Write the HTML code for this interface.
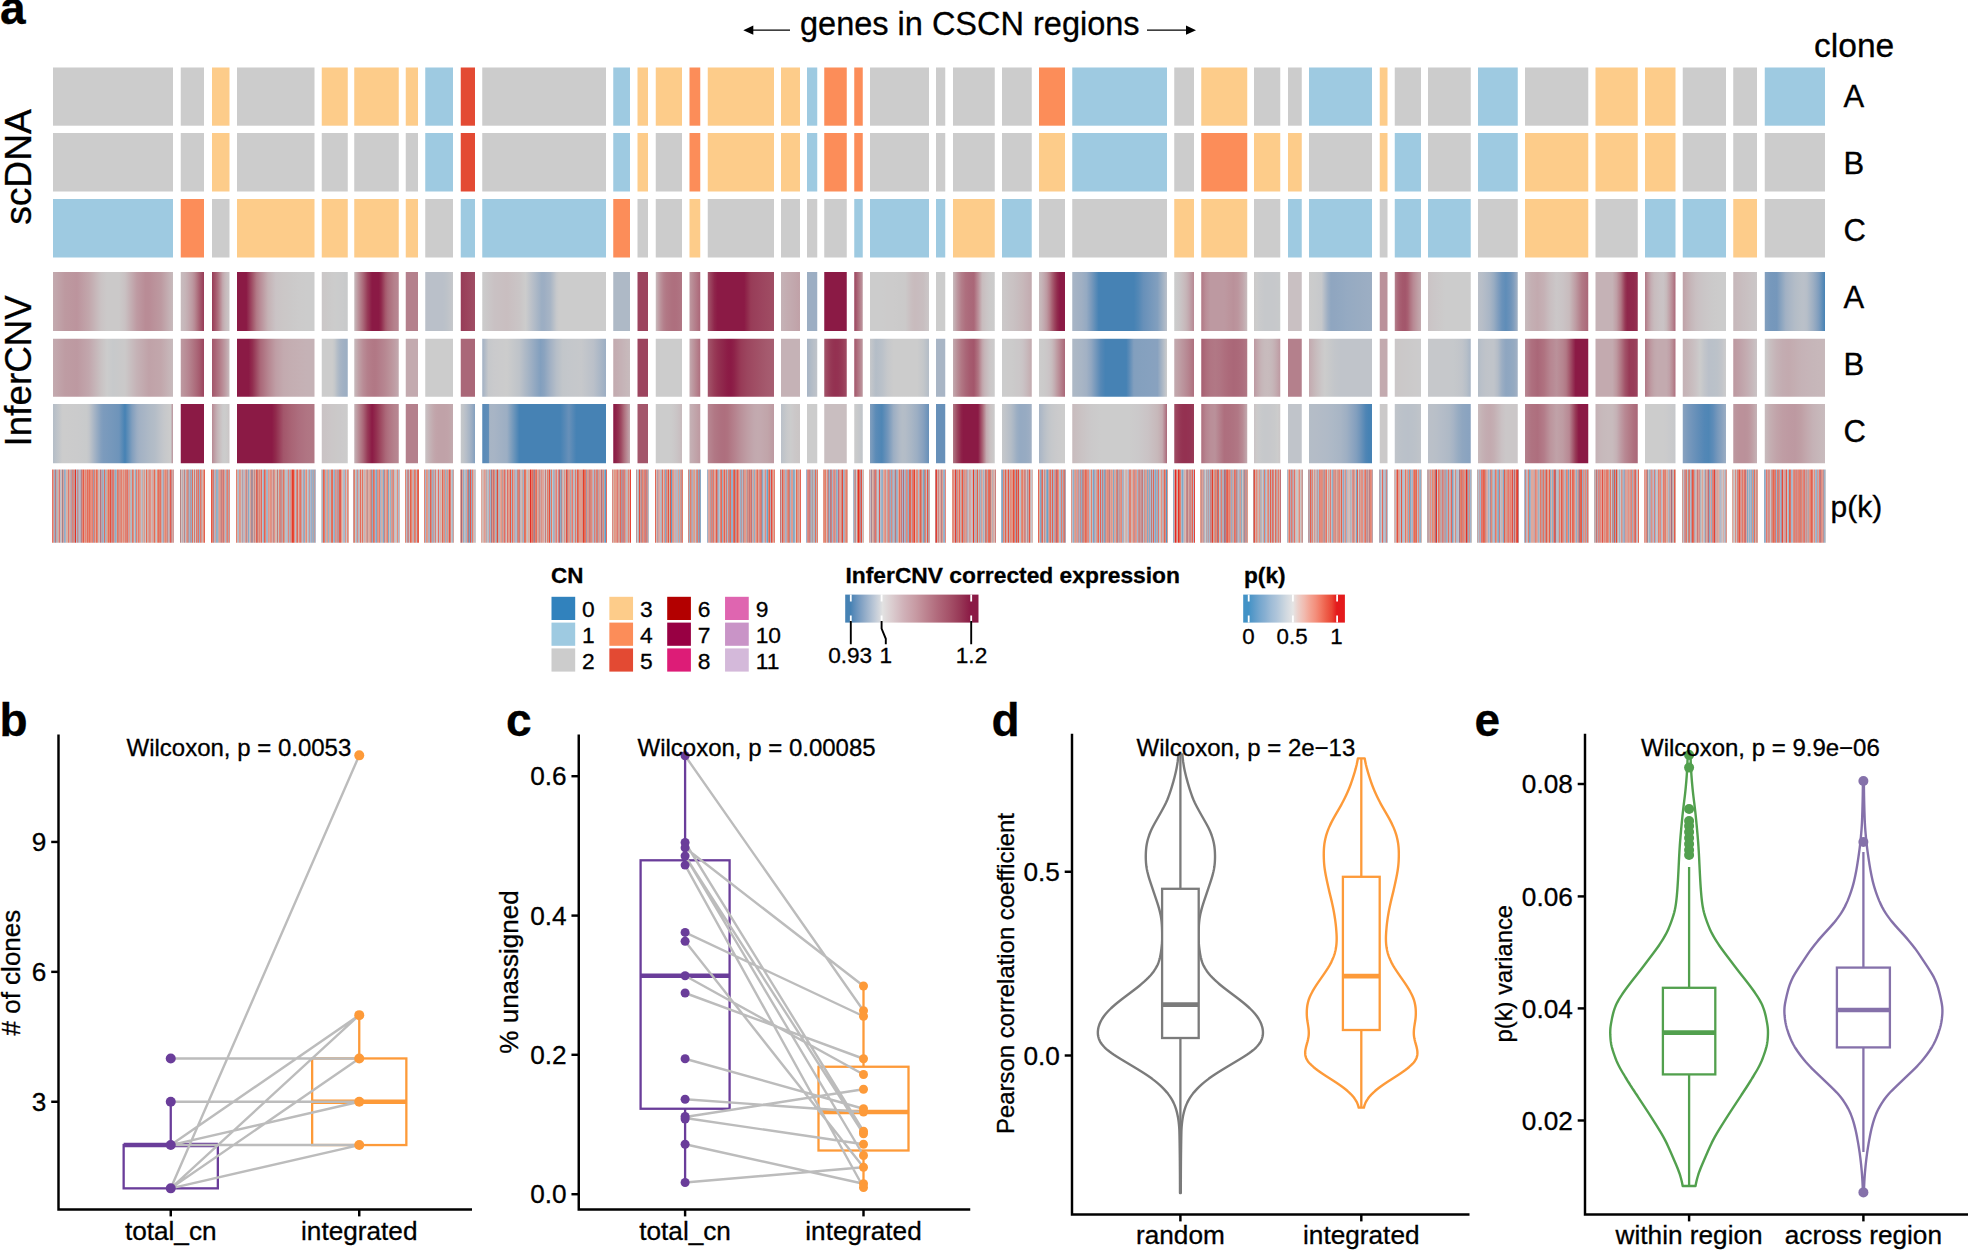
<!DOCTYPE html>
<html lang="en"><head><meta charset="utf-8"><title>Figure</title>
<style>
html,body{margin:0;padding:0;background:#fff;}
svg{display:block;font-family:"Liberation Sans",sans-serif;fill:#000;}
text{stroke:#000;stroke-width:0.3px;}
</style></head><body>
<svg width="1968" height="1250" viewBox="0 0 1968 1250">
<defs>
<linearGradient id="g1"><stop offset="0" stop-color="#c3aaaf"/><stop offset="0.1" stop-color="#bd99a0"/><stop offset="0.2" stop-color="#bc949d"/><stop offset="0.3" stop-color="#c2a7ac"/><stop offset="0.4" stop-color="#cac3c4"/><stop offset="0.45" stop-color="#cbc9c9"/><stop offset="0.5" stop-color="#cbc9c9"/><stop offset="0.55" stop-color="#cbc9c9"/><stop offset="0.6" stop-color="#c9c1c2"/><stop offset="0.7" stop-color="#be9aa2"/><stop offset="0.77" stop-color="#b98c96"/><stop offset="0.8" stop-color="#b98c96"/><stop offset="0.9" stop-color="#bd9aa1"/><stop offset="1" stop-color="#c8bbbd"/></linearGradient>
<linearGradient id="g2"><stop offset="0" stop-color="#c8bbbd"/><stop offset="0.1" stop-color="#c7b9bc"/><stop offset="0.2" stop-color="#c6b4b7"/><stop offset="0.3" stop-color="#c3acb1"/><stop offset="0.4" stop-color="#c1a3a9"/><stop offset="0.5" stop-color="#bd99a1"/><stop offset="0.6" stop-color="#b88a94"/><stop offset="0.7" stop-color="#b07683"/><stop offset="0.8" stop-color="#a76072"/><stop offset="0.85" stop-color="#a3566b"/><stop offset="0.9" stop-color="#9f4d64"/><stop offset="1" stop-color="#983b57"/></linearGradient>
<linearGradient id="g3"><stop offset="0" stop-color="#983b57"/><stop offset="0.1" stop-color="#9e4961"/><stop offset="0.2" stop-color="#a4576c"/><stop offset="0.3" stop-color="#aa6778"/><stop offset="0.4" stop-color="#b27a87"/><stop offset="0.5" stop-color="#ba9099"/><stop offset="0.6" stop-color="#c1a5ab"/><stop offset="0.7" stop-color="#c5b2b6"/><stop offset="0.8" stop-color="#c8bbbd"/><stop offset="0.9" stop-color="#c9c1c3"/><stop offset="1" stop-color="#cac3c5"/></linearGradient>
<linearGradient id="g4"><stop offset="0" stop-color="#8b1a45"/><stop offset="0.1" stop-color="#8b1a45"/><stop offset="0.12" stop-color="#8b1a45"/><stop offset="0.2" stop-color="#a25469"/><stop offset="0.25" stop-color="#b17885"/><stop offset="0.3" stop-color="#b98d97"/><stop offset="0.4" stop-color="#c5b2b5"/><stop offset="0.5" stop-color="#cac3c5"/><stop offset="0.6" stop-color="#cbc7c7"/><stop offset="0.7" stop-color="#cbc9c9"/><stop offset="0.8" stop-color="#cccbcb"/><stop offset="0.9" stop-color="#cccccc"/><stop offset="1" stop-color="#cccccc"/></linearGradient>
<linearGradient id="g5"><stop offset="0" stop-color="#cbc7c8"/><stop offset="0.1" stop-color="#cbc8c8"/><stop offset="0.2" stop-color="#cbc9c9"/><stop offset="0.3" stop-color="#cbcaca"/><stop offset="0.4" stop-color="#cccbcb"/><stop offset="0.5" stop-color="#cccccc"/><stop offset="0.6" stop-color="#cbcccc"/><stop offset="0.7" stop-color="#cbcbcc"/><stop offset="0.8" stop-color="#cacbcc"/><stop offset="0.9" stop-color="#c9cacb"/><stop offset="1" stop-color="#c8cacb"/></linearGradient>
<linearGradient id="g6"><stop offset="0" stop-color="#c8bbbd"/><stop offset="0.1" stop-color="#ba8f98"/><stop offset="0.2" stop-color="#aa6778"/><stop offset="0.3" stop-color="#973a57"/><stop offset="0.4" stop-color="#8b1a45"/><stop offset="0.5" stop-color="#8b1a45"/><stop offset="0.55" stop-color="#8b1a45"/><stop offset="0.6" stop-color="#8f274b"/><stop offset="0.7" stop-color="#a4576b"/><stop offset="0.75" stop-color="#aa6778"/><stop offset="0.8" stop-color="#ae717f"/><stop offset="0.9" stop-color="#b5818c"/><stop offset="1" stop-color="#b88893"/></linearGradient>
<linearGradient id="g7"><stop offset="0" stop-color="#bac0c9"/><stop offset="0.1" stop-color="#bac0c9"/><stop offset="0.2" stop-color="#bac0c9"/><stop offset="0.3" stop-color="#bac0c9"/><stop offset="0.4" stop-color="#bac0c9"/><stop offset="0.5" stop-color="#bac0c9"/><stop offset="0.6" stop-color="#bac0c9"/><stop offset="0.7" stop-color="#bbc1c9"/><stop offset="0.8" stop-color="#bec3c9"/><stop offset="0.9" stop-color="#c2c5ca"/><stop offset="1" stop-color="#c6c8cb"/></linearGradient>
<linearGradient id="g8"><stop offset="0" stop-color="#983b57"/><stop offset="0.1" stop-color="#983d59"/><stop offset="0.2" stop-color="#993f5a"/><stop offset="0.3" stop-color="#9a415b"/><stop offset="0.4" stop-color="#9b425c"/><stop offset="0.5" stop-color="#9c445e"/><stop offset="0.6" stop-color="#9c465f"/><stop offset="0.7" stop-color="#9d4860"/><stop offset="0.8" stop-color="#9e4a62"/><stop offset="0.9" stop-color="#9f4b63"/><stop offset="1" stop-color="#a04d64"/></linearGradient>
<linearGradient id="g9"><stop offset="0" stop-color="#cccccc"/><stop offset="0.1" stop-color="#c9c1c3"/><stop offset="0.2" stop-color="#c9bec0"/><stop offset="0.3" stop-color="#cac5c6"/><stop offset="0.35" stop-color="#cccccc"/><stop offset="0.4" stop-color="#bac0c9"/><stop offset="0.48" stop-color="#9caec3"/><stop offset="0.5" stop-color="#9daec3"/><stop offset="0.55" stop-color="#a8b5c5"/><stop offset="0.6" stop-color="#c6c8cb"/><stop offset="0.62" stop-color="#cccccc"/><stop offset="0.7" stop-color="#cccccc"/><stop offset="0.8" stop-color="#cccccc"/><stop offset="0.9" stop-color="#cccccc"/><stop offset="1" stop-color="#cccccc"/></linearGradient>
<linearGradient id="g10"><stop offset="0" stop-color="#c8bbbd"/><stop offset="0.1" stop-color="#c1a3a9"/><stop offset="0.2" stop-color="#ba8f98"/><stop offset="0.3" stop-color="#b4808c"/><stop offset="0.4" stop-color="#b17885"/><stop offset="0.5" stop-color="#b07482"/><stop offset="0.6" stop-color="#ae717f"/><stop offset="0.7" stop-color="#ae6f7e"/><stop offset="0.8" stop-color="#ae707f"/><stop offset="0.9" stop-color="#af7381"/><stop offset="1" stop-color="#b17885"/></linearGradient>
<linearGradient id="g11"><stop offset="0" stop-color="#bd99a1"/><stop offset="0.1" stop-color="#bc949d"/><stop offset="0.2" stop-color="#ba8f98"/><stop offset="0.3" stop-color="#b88a94"/><stop offset="0.4" stop-color="#b68590"/><stop offset="0.5" stop-color="#b4808c"/><stop offset="0.6" stop-color="#b37b88"/><stop offset="0.7" stop-color="#b17684"/><stop offset="0.8" stop-color="#af7180"/><stop offset="0.9" stop-color="#ad6c7c"/><stop offset="1" stop-color="#aa6778"/></linearGradient>
<linearGradient id="g12"><stop offset="0" stop-color="#a3566b"/><stop offset="0.1" stop-color="#8f264b"/><stop offset="0.15" stop-color="#8b1a45"/><stop offset="0.2" stop-color="#8b1a45"/><stop offset="0.3" stop-color="#8b1a45"/><stop offset="0.4" stop-color="#8b1a45"/><stop offset="0.5" stop-color="#8b1a45"/><stop offset="0.55" stop-color="#8b1a45"/><stop offset="0.6" stop-color="#912b4d"/><stop offset="0.65" stop-color="#983b57"/><stop offset="0.7" stop-color="#993f5a"/><stop offset="0.8" stop-color="#9c445e"/><stop offset="0.9" stop-color="#9e4961"/><stop offset="1" stop-color="#a04d64"/></linearGradient>
<linearGradient id="g13"><stop offset="0" stop-color="#c5b2b6"/><stop offset="0.1" stop-color="#c5b1b5"/><stop offset="0.2" stop-color="#c4afb3"/><stop offset="0.3" stop-color="#c4adb2"/><stop offset="0.4" stop-color="#c3acb0"/><stop offset="0.5" stop-color="#c3aaaf"/><stop offset="0.6" stop-color="#c2a8ae"/><stop offset="0.7" stop-color="#c2a7ac"/><stop offset="0.8" stop-color="#c1a5ab"/><stop offset="0.9" stop-color="#c1a3a9"/><stop offset="1" stop-color="#c0a2a8"/></linearGradient>
<linearGradient id="g14"><stop offset="0" stop-color="#9c445e"/><stop offset="0.1" stop-color="#a04d64"/><stop offset="0.2" stop-color="#a3566b"/><stop offset="0.3" stop-color="#a75e71"/><stop offset="0.4" stop-color="#aa6778"/><stop offset="0.5" stop-color="#ae6f7e"/><stop offset="0.6" stop-color="#b17885"/><stop offset="0.7" stop-color="#b4808c"/><stop offset="0.8" stop-color="#b88893"/><stop offset="0.9" stop-color="#ba919a"/><stop offset="1" stop-color="#bd99a1"/></linearGradient>
<linearGradient id="g15"><stop offset="0" stop-color="#cccccc"/><stop offset="0.1" stop-color="#cccccc"/><stop offset="0.2" stop-color="#cccccc"/><stop offset="0.3" stop-color="#cccbcb"/><stop offset="0.4" stop-color="#cccbcb"/><stop offset="0.5" stop-color="#cbcaca"/><stop offset="0.6" stop-color="#cbc9c9"/><stop offset="0.7" stop-color="#c9bec0"/><stop offset="0.75" stop-color="#c8bbbd"/><stop offset="0.8" stop-color="#c8bbbe"/><stop offset="0.9" stop-color="#c8bec0"/><stop offset="1" stop-color="#cbc7c8"/></linearGradient>
<linearGradient id="g16"><stop offset="0" stop-color="#c8bbbd"/><stop offset="0.1" stop-color="#bd98a0"/><stop offset="0.2" stop-color="#b37e8a"/><stop offset="0.3" stop-color="#ae6f7e"/><stop offset="0.4" stop-color="#ab697a"/><stop offset="0.5" stop-color="#aa6778"/><stop offset="0.6" stop-color="#ba8e98"/><stop offset="0.7" stop-color="#c8bbbd"/><stop offset="0.8" stop-color="#cac4c5"/><stop offset="0.9" stop-color="#cbcaca"/><stop offset="1" stop-color="#cccccc"/></linearGradient>
<linearGradient id="g17"><stop offset="0" stop-color="#cbc9c9"/><stop offset="0.1" stop-color="#cbc7c8"/><stop offset="0.2" stop-color="#cac5c6"/><stop offset="0.3" stop-color="#cac3c4"/><stop offset="0.4" stop-color="#c9c1c2"/><stop offset="0.5" stop-color="#c8bec0"/><stop offset="0.6" stop-color="#c8bbbd"/><stop offset="0.7" stop-color="#c7b8ba"/><stop offset="0.8" stop-color="#c6b3b7"/><stop offset="0.9" stop-color="#c4afb3"/><stop offset="1" stop-color="#c3aaaf"/></linearGradient>
<linearGradient id="g18"><stop offset="0" stop-color="#c8bbbd"/><stop offset="0.1" stop-color="#c6b4b8"/><stop offset="0.2" stop-color="#c2a8ae"/><stop offset="0.3" stop-color="#bd99a1"/><stop offset="0.4" stop-color="#b5818d"/><stop offset="0.5" stop-color="#a86173"/><stop offset="0.6" stop-color="#9c445e"/><stop offset="0.7" stop-color="#912b4d"/><stop offset="0.8" stop-color="#8b1a45"/><stop offset="0.9" stop-color="#8b1a45"/><stop offset="1" stop-color="#8b1a45"/></linearGradient>
<linearGradient id="g19"><stop offset="0" stop-color="#a8b5c5"/><stop offset="0.1" stop-color="#9fafc3"/><stop offset="0.15" stop-color="#95aac2"/><stop offset="0.2" stop-color="#7a9abc"/><stop offset="0.28" stop-color="#4682b4"/><stop offset="0.3" stop-color="#4682b4"/><stop offset="0.4" stop-color="#4682b4"/><stop offset="0.5" stop-color="#4682b4"/><stop offset="0.6" stop-color="#4682b4"/><stop offset="0.65" stop-color="#4682b4"/><stop offset="0.7" stop-color="#5488b6"/><stop offset="0.75" stop-color="#6790b9"/><stop offset="0.8" stop-color="#7095bb"/><stop offset="0.9" stop-color="#829fbe"/><stop offset="1" stop-color="#bac0c9"/></linearGradient>
<linearGradient id="g20"><stop offset="0" stop-color="#cccccc"/><stop offset="0.1" stop-color="#cccbcb"/><stop offset="0.2" stop-color="#cbc8c9"/><stop offset="0.3" stop-color="#cac5c6"/><stop offset="0.4" stop-color="#c9c0c2"/><stop offset="0.5" stop-color="#c8bbbd"/><stop offset="0.6" stop-color="#c6b5b8"/><stop offset="0.7" stop-color="#c3acb1"/><stop offset="0.8" stop-color="#c0a1a8"/><stop offset="0.9" stop-color="#bc959e"/><stop offset="1" stop-color="#b88893"/></linearGradient>
<linearGradient id="g21"><stop offset="0" stop-color="#b17885"/><stop offset="0.1" stop-color="#ba8e98"/><stop offset="0.2" stop-color="#bd99a1"/><stop offset="0.3" stop-color="#bd99a1"/><stop offset="0.4" stop-color="#bd99a1"/><stop offset="0.5" stop-color="#bd99a1"/><stop offset="0.6" stop-color="#bc959d"/><stop offset="0.7" stop-color="#ba919a"/><stop offset="0.8" stop-color="#bc969e"/><stop offset="0.9" stop-color="#c1a5ab"/><stop offset="1" stop-color="#c8bbbd"/></linearGradient>
<linearGradient id="g22"><stop offset="0" stop-color="#cbc9c9"/><stop offset="0.1" stop-color="#cccccc"/><stop offset="0.2" stop-color="#c9cacc"/><stop offset="0.3" stop-color="#c8c9cb"/><stop offset="0.4" stop-color="#c6c8cb"/><stop offset="0.5" stop-color="#c6c8cb"/><stop offset="0.6" stop-color="#c6c8cb"/><stop offset="0.7" stop-color="#c6c8cb"/><stop offset="0.8" stop-color="#c7c8cb"/><stop offset="0.9" stop-color="#c7c9cb"/><stop offset="1" stop-color="#c8cacb"/></linearGradient>
<linearGradient id="g23"><stop offset="0" stop-color="#cccccc"/><stop offset="0.1" stop-color="#cacbcc"/><stop offset="0.2" stop-color="#c6c8cb"/><stop offset="0.3" stop-color="#9daec3"/><stop offset="0.35" stop-color="#8fa6c0"/><stop offset="0.4" stop-color="#90a6c0"/><stop offset="0.5" stop-color="#92a8c1"/><stop offset="0.6" stop-color="#95aac2"/><stop offset="0.7" stop-color="#97abc2"/><stop offset="0.8" stop-color="#99acc2"/><stop offset="0.9" stop-color="#9badc3"/><stop offset="1" stop-color="#9caec3"/></linearGradient>
<linearGradient id="g24"><stop offset="0" stop-color="#b4808c"/><stop offset="0.1" stop-color="#ac6b7b"/><stop offset="0.2" stop-color="#a75e71"/><stop offset="0.3" stop-color="#a4586c"/><stop offset="0.4" stop-color="#a3566b"/><stop offset="0.5" stop-color="#a86072"/><stop offset="0.6" stop-color="#b07683"/><stop offset="0.7" stop-color="#b88893"/><stop offset="0.8" stop-color="#bc959d"/><stop offset="0.9" stop-color="#c0a1a7"/><stop offset="1" stop-color="#c3aaaf"/></linearGradient>
<linearGradient id="g25"><stop offset="0" stop-color="#cac3c5"/><stop offset="0.1" stop-color="#cbc6c7"/><stop offset="0.2" stop-color="#cbc8c9"/><stop offset="0.3" stop-color="#cccaca"/><stop offset="0.4" stop-color="#cccccc"/><stop offset="0.5" stop-color="#cccccc"/><stop offset="0.6" stop-color="#cccccc"/><stop offset="0.7" stop-color="#cccccc"/><stop offset="0.8" stop-color="#cccccc"/><stop offset="0.9" stop-color="#cccccc"/><stop offset="1" stop-color="#cccccc"/></linearGradient>
<linearGradient id="g26"><stop offset="0" stop-color="#bac0c9"/><stop offset="0.1" stop-color="#b7bec8"/><stop offset="0.2" stop-color="#b0bac7"/><stop offset="0.3" stop-color="#a8b5c5"/><stop offset="0.4" stop-color="#98acc2"/><stop offset="0.5" stop-color="#819ebe"/><stop offset="0.6" stop-color="#6a92ba"/><stop offset="0.7" stop-color="#5f8db8"/><stop offset="0.8" stop-color="#6b92ba"/><stop offset="0.85" stop-color="#7597bb"/><stop offset="0.9" stop-color="#819ebe"/><stop offset="1" stop-color="#a2b1c4"/></linearGradient>
<linearGradient id="g27"><stop offset="0" stop-color="#c8bbbd"/><stop offset="0.1" stop-color="#c4afb3"/><stop offset="0.2" stop-color="#c3aaaf"/><stop offset="0.3" stop-color="#c5b1b5"/><stop offset="0.4" stop-color="#c9bfc1"/><stop offset="0.5" stop-color="#cbc7c8"/><stop offset="0.6" stop-color="#cac3c5"/><stop offset="0.7" stop-color="#c8bbbd"/><stop offset="0.8" stop-color="#be9ca3"/><stop offset="0.9" stop-color="#b17885"/><stop offset="1" stop-color="#aa6778"/></linearGradient>
<linearGradient id="g28"><stop offset="0" stop-color="#c5b2b6"/><stop offset="0.1" stop-color="#c5b2b6"/><stop offset="0.2" stop-color="#c5b2b6"/><stop offset="0.3" stop-color="#c5b2b6"/><stop offset="0.4" stop-color="#c5b2b6"/><stop offset="0.5" stop-color="#bf9ea5"/><stop offset="0.6" stop-color="#b17885"/><stop offset="0.7" stop-color="#973956"/><stop offset="0.75" stop-color="#8f274b"/><stop offset="0.8" stop-color="#8f274b"/><stop offset="0.9" stop-color="#90294c"/><stop offset="1" stop-color="#943151"/></linearGradient>
<linearGradient id="g29"><stop offset="0" stop-color="#b17885"/><stop offset="0.1" stop-color="#bc969e"/><stop offset="0.2" stop-color="#c4aeb3"/><stop offset="0.3" stop-color="#c8bbbd"/><stop offset="0.4" stop-color="#c9bfc1"/><stop offset="0.5" stop-color="#cac2c4"/><stop offset="0.6" stop-color="#cac3c5"/><stop offset="0.7" stop-color="#c7babc"/><stop offset="0.8" stop-color="#c1a3a9"/><stop offset="0.9" stop-color="#b88893"/><stop offset="1" stop-color="#aa6778"/></linearGradient>
<linearGradient id="g30"><stop offset="0" stop-color="#c0a2a8"/><stop offset="0.1" stop-color="#c4adb1"/><stop offset="0.2" stop-color="#c6b7ba"/><stop offset="0.3" stop-color="#c9bfc1"/><stop offset="0.4" stop-color="#cac3c5"/><stop offset="0.5" stop-color="#cac6c7"/><stop offset="0.6" stop-color="#cbc8c9"/><stop offset="0.7" stop-color="#cbcaca"/><stop offset="0.8" stop-color="#cccbcb"/><stop offset="0.9" stop-color="#cccccc"/><stop offset="1" stop-color="#cccccc"/></linearGradient>
<linearGradient id="g31"><stop offset="0" stop-color="#c7b8ba"/><stop offset="0.1" stop-color="#c7b9bc"/><stop offset="0.2" stop-color="#c8bbbd"/><stop offset="0.3" stop-color="#c8bcbe"/><stop offset="0.4" stop-color="#c8bec0"/><stop offset="0.5" stop-color="#c9bfc1"/><stop offset="0.6" stop-color="#c9c1c2"/><stop offset="0.7" stop-color="#cac2c4"/><stop offset="0.8" stop-color="#cac4c5"/><stop offset="0.9" stop-color="#cac5c6"/><stop offset="1" stop-color="#cbc7c8"/></linearGradient>
<linearGradient id="g32"><stop offset="0" stop-color="#829fbe"/><stop offset="0.1" stop-color="#7698bc"/><stop offset="0.2" stop-color="#7597bb"/><stop offset="0.3" stop-color="#93a9c1"/><stop offset="0.35" stop-color="#a2b1c4"/><stop offset="0.4" stop-color="#a8b5c5"/><stop offset="0.5" stop-color="#b3bcc7"/><stop offset="0.6" stop-color="#b9c0c8"/><stop offset="0.65" stop-color="#bac0c9"/><stop offset="0.7" stop-color="#b6bec8"/><stop offset="0.8" stop-color="#9eafc3"/><stop offset="0.85" stop-color="#8fa6c0"/><stop offset="0.9" stop-color="#7d9cbd"/><stop offset="1" stop-color="#4682b4"/></linearGradient>
<linearGradient id="g33"><stop offset="0" stop-color="#c3aaaf"/><stop offset="0.1" stop-color="#be9ca3"/><stop offset="0.2" stop-color="#bd99a1"/><stop offset="0.3" stop-color="#c2a7ad"/><stop offset="0.4" stop-color="#c9c2c3"/><stop offset="0.45" stop-color="#cccccc"/><stop offset="0.5" stop-color="#c7c9cb"/><stop offset="0.6" stop-color="#cbc9c9"/><stop offset="0.7" stop-color="#c5b2b6"/><stop offset="0.8" stop-color="#c0a2a8"/><stop offset="0.9" stop-color="#c2a7ac"/><stop offset="1" stop-color="#c8bbbd"/></linearGradient>
<linearGradient id="g34"><stop offset="0" stop-color="#bd99a1"/><stop offset="0.1" stop-color="#bc949c"/><stop offset="0.2" stop-color="#b98e97"/><stop offset="0.3" stop-color="#b78792"/><stop offset="0.4" stop-color="#b4808c"/><stop offset="0.5" stop-color="#b17885"/><stop offset="0.6" stop-color="#ae6f7e"/><stop offset="0.7" stop-color="#aa6677"/><stop offset="0.8" stop-color="#a65c6f"/><stop offset="0.9" stop-color="#a15066"/><stop offset="1" stop-color="#9c445e"/></linearGradient>
<linearGradient id="g35"><stop offset="0" stop-color="#a3566b"/><stop offset="0.1" stop-color="#a75e70"/><stop offset="0.2" stop-color="#aa6677"/><stop offset="0.3" stop-color="#ae6f7e"/><stop offset="0.4" stop-color="#b17885"/><stop offset="0.5" stop-color="#b5828d"/><stop offset="0.6" stop-color="#b98c96"/><stop offset="0.7" stop-color="#bc979f"/><stop offset="0.8" stop-color="#c0a2a8"/><stop offset="0.9" stop-color="#c4aeb3"/><stop offset="1" stop-color="#c8bbbd"/></linearGradient>
<linearGradient id="g36"><stop offset="0" stop-color="#8b1a45"/><stop offset="0.1" stop-color="#8b1a45"/><stop offset="0.15" stop-color="#8b1a45"/><stop offset="0.2" stop-color="#922e4f"/><stop offset="0.3" stop-color="#aa6778"/><stop offset="0.4" stop-color="#b68590"/><stop offset="0.5" stop-color="#bf9ea5"/><stop offset="0.6" stop-color="#c3aaaf"/><stop offset="0.7" stop-color="#c4aeb2"/><stop offset="0.8" stop-color="#c5b0b4"/><stop offset="0.9" stop-color="#c5b2b6"/><stop offset="1" stop-color="#c5b2b6"/></linearGradient>
<linearGradient id="g37"><stop offset="0" stop-color="#cccccc"/><stop offset="0.1" stop-color="#cccccc"/><stop offset="0.2" stop-color="#cccccc"/><stop offset="0.3" stop-color="#cccccc"/><stop offset="0.4" stop-color="#cccccc"/><stop offset="0.5" stop-color="#c4c7ca"/><stop offset="0.6" stop-color="#b4bdc7"/><stop offset="0.7" stop-color="#a8b5c5"/><stop offset="0.8" stop-color="#a2b1c4"/><stop offset="0.9" stop-color="#9eafc3"/><stop offset="1" stop-color="#9caec3"/></linearGradient>
<linearGradient id="g38"><stop offset="0" stop-color="#c8bbbd"/><stop offset="0.1" stop-color="#c0a0a6"/><stop offset="0.2" stop-color="#b98c96"/><stop offset="0.3" stop-color="#b47f8b"/><stop offset="0.4" stop-color="#b27986"/><stop offset="0.45" stop-color="#b17885"/><stop offset="0.5" stop-color="#b27986"/><stop offset="0.6" stop-color="#b4808c"/><stop offset="0.7" stop-color="#b78892"/><stop offset="0.8" stop-color="#bb929a"/><stop offset="0.9" stop-color="#bf9da4"/><stop offset="1" stop-color="#c3aaaf"/></linearGradient>
<linearGradient id="g39"><stop offset="0" stop-color="#a2b1c4"/><stop offset="0.05" stop-color="#c6c8cb"/><stop offset="0.1" stop-color="#cacacc"/><stop offset="0.2" stop-color="#cccccc"/><stop offset="0.3" stop-color="#bec3c9"/><stop offset="0.4" stop-color="#9caec3"/><stop offset="0.47" stop-color="#829fbe"/><stop offset="0.5" stop-color="#8aa3bf"/><stop offset="0.55" stop-color="#a2b1c4"/><stop offset="0.6" stop-color="#b6bec8"/><stop offset="0.65" stop-color="#c2c6ca"/><stop offset="0.7" stop-color="#c4c7cb"/><stop offset="0.8" stop-color="#c6c8cb"/><stop offset="0.9" stop-color="#bac0c9"/><stop offset="1" stop-color="#9caec3"/></linearGradient>
<linearGradient id="g40"><stop offset="0" stop-color="#c3aaaf"/><stop offset="0.1" stop-color="#c3acb0"/><stop offset="0.2" stop-color="#c4adb2"/><stop offset="0.3" stop-color="#c4afb3"/><stop offset="0.4" stop-color="#c5b1b5"/><stop offset="0.5" stop-color="#c5b2b6"/><stop offset="0.6" stop-color="#c6b4b8"/><stop offset="0.7" stop-color="#c6b6b9"/><stop offset="0.8" stop-color="#c7b8ba"/><stop offset="0.9" stop-color="#c7b9bc"/><stop offset="1" stop-color="#c8bbbd"/></linearGradient>
<linearGradient id="g41"><stop offset="0" stop-color="#c3aaaf"/><stop offset="0.1" stop-color="#c1a4aa"/><stop offset="0.2" stop-color="#bf9ea5"/><stop offset="0.3" stop-color="#bd98a0"/><stop offset="0.4" stop-color="#bb939b"/><stop offset="0.5" stop-color="#b98d96"/><stop offset="0.6" stop-color="#b78791"/><stop offset="0.7" stop-color="#b5818d"/><stop offset="0.8" stop-color="#b37b88"/><stop offset="0.9" stop-color="#b07583"/><stop offset="1" stop-color="#ae6f7e"/></linearGradient>
<linearGradient id="g42"><stop offset="0" stop-color="#a3566b"/><stop offset="0.1" stop-color="#983b57"/><stop offset="0.15" stop-color="#943151"/><stop offset="0.2" stop-color="#902a4d"/><stop offset="0.3" stop-color="#8c1c46"/><stop offset="0.35" stop-color="#8b1a45"/><stop offset="0.4" stop-color="#8e2249"/><stop offset="0.5" stop-color="#983b57"/><stop offset="0.6" stop-color="#9c465f"/><stop offset="0.7" stop-color="#a04d64"/><stop offset="0.8" stop-color="#a25469"/><stop offset="0.9" stop-color="#a55a6e"/><stop offset="1" stop-color="#a75e71"/></linearGradient>
<linearGradient id="g43"><stop offset="0" stop-color="#a8b5c5"/><stop offset="0.1" stop-color="#aab7c6"/><stop offset="0.2" stop-color="#adb8c6"/><stop offset="0.3" stop-color="#afbac6"/><stop offset="0.4" stop-color="#b2bbc7"/><stop offset="0.5" stop-color="#b4bdc7"/><stop offset="0.6" stop-color="#b7bec8"/><stop offset="0.7" stop-color="#b9c0c8"/><stop offset="0.8" stop-color="#bbc1c9"/><stop offset="0.9" stop-color="#bec3c9"/><stop offset="1" stop-color="#c0c4ca"/></linearGradient>
<linearGradient id="g44"><stop offset="0" stop-color="#a3566b"/><stop offset="0.1" stop-color="#9e4a62"/><stop offset="0.2" stop-color="#9a405b"/><stop offset="0.3" stop-color="#963855"/><stop offset="0.4" stop-color="#943352"/><stop offset="0.5" stop-color="#943151"/><stop offset="0.6" stop-color="#943252"/><stop offset="0.7" stop-color="#953654"/><stop offset="0.8" stop-color="#983b57"/><stop offset="0.9" stop-color="#9b435d"/><stop offset="1" stop-color="#a04d64"/></linearGradient>
<linearGradient id="g45"><stop offset="0" stop-color="#a3566b"/><stop offset="0.1" stop-color="#a65d70"/><stop offset="0.2" stop-color="#a96475"/><stop offset="0.3" stop-color="#ac6a7a"/><stop offset="0.4" stop-color="#af7180"/><stop offset="0.5" stop-color="#b17885"/><stop offset="0.6" stop-color="#b47e8b"/><stop offset="0.7" stop-color="#b68590"/><stop offset="0.8" stop-color="#b98c96"/><stop offset="0.9" stop-color="#bb939b"/><stop offset="1" stop-color="#bd99a1"/></linearGradient>
<linearGradient id="g46"><stop offset="0" stop-color="#c6c8cb"/><stop offset="0.1" stop-color="#b4bdc7"/><stop offset="0.2" stop-color="#bac1c9"/><stop offset="0.3" stop-color="#c6c8cb"/><stop offset="0.4" stop-color="#cccccc"/><stop offset="0.5" stop-color="#cccccc"/><stop offset="0.6" stop-color="#cccccc"/><stop offset="0.7" stop-color="#cccccc"/><stop offset="0.8" stop-color="#cccccc"/><stop offset="0.9" stop-color="#c4c7ca"/><stop offset="1" stop-color="#b4bdc7"/></linearGradient>
<linearGradient id="g47"><stop offset="0" stop-color="#c3aaaf"/><stop offset="0.1" stop-color="#b98e97"/><stop offset="0.2" stop-color="#b17784"/><stop offset="0.3" stop-color="#aa6778"/><stop offset="0.4" stop-color="#a65b6f"/><stop offset="0.5" stop-color="#a3566b"/><stop offset="0.6" stop-color="#af7381"/><stop offset="0.7" stop-color="#c1a4aa"/><stop offset="0.75" stop-color="#c5b2b6"/><stop offset="0.8" stop-color="#c7babd"/><stop offset="0.9" stop-color="#cbc7c8"/><stop offset="1" stop-color="#cccccc"/></linearGradient>
<linearGradient id="g48"><stop offset="0" stop-color="#cccccc"/><stop offset="0.1" stop-color="#cccccc"/><stop offset="0.2" stop-color="#cccbcb"/><stop offset="0.3" stop-color="#cccbcb"/><stop offset="0.4" stop-color="#cbcaca"/><stop offset="0.5" stop-color="#cbc8c9"/><stop offset="0.6" stop-color="#cbc7c8"/><stop offset="0.7" stop-color="#cac3c5"/><stop offset="0.8" stop-color="#c8bcbf"/><stop offset="0.9" stop-color="#c6b4b7"/><stop offset="1" stop-color="#c3aaaf"/></linearGradient>
<linearGradient id="g49"><stop offset="0" stop-color="#cccccc"/><stop offset="0.1" stop-color="#cccbcb"/><stop offset="0.2" stop-color="#cbcaca"/><stop offset="0.3" stop-color="#cbc7c8"/><stop offset="0.4" stop-color="#cac3c5"/><stop offset="0.5" stop-color="#c8bbbd"/><stop offset="0.6" stop-color="#c3acb1"/><stop offset="0.7" stop-color="#be9aa1"/><stop offset="0.8" stop-color="#b88893"/><stop offset="0.9" stop-color="#b17885"/><stop offset="1" stop-color="#aa6778"/></linearGradient>
<linearGradient id="g50"><stop offset="0" stop-color="#aeb9c6"/><stop offset="0.1" stop-color="#a8b5c5"/><stop offset="0.15" stop-color="#a2b1c4"/><stop offset="0.2" stop-color="#91a7c1"/><stop offset="0.3" stop-color="#5688b6"/><stop offset="0.35" stop-color="#4682b4"/><stop offset="0.4" stop-color="#4682b4"/><stop offset="0.5" stop-color="#4682b4"/><stop offset="0.57" stop-color="#4682b4"/><stop offset="0.6" stop-color="#5b8bb7"/><stop offset="0.65" stop-color="#829fbe"/><stop offset="0.7" stop-color="#84a0be"/><stop offset="0.8" stop-color="#86a1bf"/><stop offset="0.9" stop-color="#89a2bf"/><stop offset="1" stop-color="#cccccc"/></linearGradient>
<linearGradient id="g51"><stop offset="0" stop-color="#c3aaaf"/><stop offset="0.1" stop-color="#c1a6ab"/><stop offset="0.2" stop-color="#c0a1a7"/><stop offset="0.3" stop-color="#be9ca3"/><stop offset="0.4" stop-color="#bc969e"/><stop offset="0.5" stop-color="#ba919a"/><stop offset="0.6" stop-color="#b88b95"/><stop offset="0.7" stop-color="#b68590"/><stop offset="0.8" stop-color="#b47e8a"/><stop offset="0.9" stop-color="#b17784"/><stop offset="1" stop-color="#ae6f7e"/></linearGradient>
<linearGradient id="g52"><stop offset="0" stop-color="#a75e71"/><stop offset="0.1" stop-color="#ad6c7c"/><stop offset="0.2" stop-color="#b07583"/><stop offset="0.3" stop-color="#b17885"/><stop offset="0.4" stop-color="#b07583"/><stop offset="0.5" stop-color="#ae6f7e"/><stop offset="0.6" stop-color="#ac6a7a"/><stop offset="0.7" stop-color="#aa6778"/><stop offset="0.8" stop-color="#ab6979"/><stop offset="0.9" stop-color="#ad6e7e"/><stop offset="1" stop-color="#b17885"/></linearGradient>
<linearGradient id="g53"><stop offset="0" stop-color="#bd99a1"/><stop offset="0.1" stop-color="#c1a5ab"/><stop offset="0.2" stop-color="#c4afb3"/><stop offset="0.3" stop-color="#c6b6b9"/><stop offset="0.4" stop-color="#c7babc"/><stop offset="0.5" stop-color="#c8bbbd"/><stop offset="0.6" stop-color="#c7babc"/><stop offset="0.7" stop-color="#c6b6b9"/><stop offset="0.8" stop-color="#c4afb3"/><stop offset="0.9" stop-color="#c1a5ab"/><stop offset="1" stop-color="#bd99a1"/></linearGradient>
<linearGradient id="g54"><stop offset="0" stop-color="#c3aaaf"/><stop offset="0.1" stop-color="#c7babc"/><stop offset="0.2" stop-color="#cbc7c8"/><stop offset="0.25" stop-color="#cccccc"/><stop offset="0.3" stop-color="#c9cacb"/><stop offset="0.4" stop-color="#c3c6ca"/><stop offset="0.5" stop-color="#c0c4ca"/><stop offset="0.6" stop-color="#c0c4ca"/><stop offset="0.7" stop-color="#c0c4ca"/><stop offset="0.8" stop-color="#c0c4ca"/><stop offset="0.9" stop-color="#c0c4ca"/><stop offset="1" stop-color="#c0c4ca"/></linearGradient>
<linearGradient id="g55"><stop offset="0" stop-color="#cbc7c8"/><stop offset="0.1" stop-color="#cbc7c8"/><stop offset="0.2" stop-color="#cbc8c8"/><stop offset="0.3" stop-color="#cbc8c9"/><stop offset="0.4" stop-color="#cbc9c9"/><stop offset="0.5" stop-color="#cbc9ca"/><stop offset="0.6" stop-color="#cbcaca"/><stop offset="0.7" stop-color="#cccacb"/><stop offset="0.8" stop-color="#cccbcb"/><stop offset="0.9" stop-color="#cccbcc"/><stop offset="1" stop-color="#cccccc"/></linearGradient>
<linearGradient id="g56"><stop offset="0" stop-color="#c6c8cb"/><stop offset="0.1" stop-color="#c6c8cb"/><stop offset="0.2" stop-color="#c6c8cb"/><stop offset="0.3" stop-color="#c6c8cb"/><stop offset="0.4" stop-color="#c6c8cb"/><stop offset="0.5" stop-color="#c6c8cb"/><stop offset="0.6" stop-color="#c5c8cb"/><stop offset="0.7" stop-color="#c3c6ca"/><stop offset="0.8" stop-color="#c0c4ca"/><stop offset="0.9" stop-color="#b7bfc8"/><stop offset="1" stop-color="#a8b5c5"/></linearGradient>
<linearGradient id="g57"><stop offset="0" stop-color="#b4bdc7"/><stop offset="0.1" stop-color="#bbc1c9"/><stop offset="0.2" stop-color="#bfc3c9"/><stop offset="0.3" stop-color="#c0c4ca"/><stop offset="0.4" stop-color="#c0c4ca"/><stop offset="0.5" stop-color="#b4bcc7"/><stop offset="0.6" stop-color="#9caec3"/><stop offset="0.7" stop-color="#8fa6c0"/><stop offset="0.8" stop-color="#90a7c1"/><stop offset="0.9" stop-color="#95aac1"/><stop offset="1" stop-color="#a2b1c4"/></linearGradient>
<linearGradient id="g58"><stop offset="0" stop-color="#b88893"/><stop offset="0.1" stop-color="#ae707f"/><stop offset="0.2" stop-color="#aa6778"/><stop offset="0.3" stop-color="#af7280"/><stop offset="0.4" stop-color="#b78691"/><stop offset="0.5" stop-color="#ba919a"/><stop offset="0.6" stop-color="#b6848f"/><stop offset="0.65" stop-color="#b17885"/><stop offset="0.7" stop-color="#a65c6f"/><stop offset="0.8" stop-color="#8b1a45"/><stop offset="0.9" stop-color="#8b1a45"/><stop offset="1" stop-color="#8b1a45"/></linearGradient>
<linearGradient id="g59"><stop offset="0" stop-color="#c3aaaf"/><stop offset="0.1" stop-color="#c3aaaf"/><stop offset="0.2" stop-color="#c3aaaf"/><stop offset="0.3" stop-color="#c3aaaf"/><stop offset="0.4" stop-color="#c3aaaf"/><stop offset="0.5" stop-color="#bd989f"/><stop offset="0.6" stop-color="#b17885"/><stop offset="0.7" stop-color="#a25369"/><stop offset="0.8" stop-color="#983b57"/><stop offset="0.9" stop-color="#983c58"/><stop offset="1" stop-color="#9c445e"/></linearGradient>
<linearGradient id="g60"><stop offset="0" stop-color="#b17885"/><stop offset="0.1" stop-color="#b88b95"/><stop offset="0.2" stop-color="#be9ba2"/><stop offset="0.3" stop-color="#c1a6ab"/><stop offset="0.4" stop-color="#c3aaaf"/><stop offset="0.5" stop-color="#c3aaaf"/><stop offset="0.6" stop-color="#c3aaaf"/><stop offset="0.7" stop-color="#c3aaaf"/><stop offset="0.8" stop-color="#c0a1a8"/><stop offset="0.9" stop-color="#b98c95"/><stop offset="1" stop-color="#ae6f7e"/></linearGradient>
<linearGradient id="g61"><stop offset="0" stop-color="#c5b2b6"/><stop offset="0.1" stop-color="#c6b6b9"/><stop offset="0.2" stop-color="#c8bcbe"/><stop offset="0.3" stop-color="#cac3c5"/><stop offset="0.4" stop-color="#cccccc"/><stop offset="0.5" stop-color="#c2c5ca"/><stop offset="0.6" stop-color="#bac0c9"/><stop offset="0.7" stop-color="#bac1c9"/><stop offset="0.8" stop-color="#bcc2c9"/><stop offset="0.9" stop-color="#c2c5ca"/><stop offset="1" stop-color="#cccccc"/></linearGradient>
<linearGradient id="g62"><stop offset="0" stop-color="#bd99a1"/><stop offset="0.1" stop-color="#be9ca3"/><stop offset="0.2" stop-color="#bf9fa6"/><stop offset="0.3" stop-color="#c0a2a9"/><stop offset="0.4" stop-color="#c1a6ac"/><stop offset="0.5" stop-color="#c3aaaf"/><stop offset="0.6" stop-color="#c4aeb3"/><stop offset="0.7" stop-color="#c5b3b7"/><stop offset="0.8" stop-color="#c7b8bb"/><stop offset="0.9" stop-color="#c8bec0"/><stop offset="1" stop-color="#cac3c5"/></linearGradient>
<linearGradient id="g63"><stop offset="0" stop-color="#cccccc"/><stop offset="0.1" stop-color="#c8bdbf"/><stop offset="0.2" stop-color="#c5b2b6"/><stop offset="0.3" stop-color="#c3acb1"/><stop offset="0.4" stop-color="#c3aaaf"/><stop offset="0.5" stop-color="#c4aeb2"/><stop offset="0.6" stop-color="#c5b2b6"/><stop offset="0.7" stop-color="#c6b4b8"/><stop offset="0.8" stop-color="#c6b6b9"/><stop offset="0.9" stop-color="#c7b7ba"/><stop offset="1" stop-color="#c7b8ba"/></linearGradient>
<linearGradient id="g64"><stop offset="0" stop-color="#b4bdc7"/><stop offset="0.08" stop-color="#cccccc"/><stop offset="0.1" stop-color="#cccccc"/><stop offset="0.2" stop-color="#cbcbcc"/><stop offset="0.28" stop-color="#c8cacb"/><stop offset="0.3" stop-color="#c3c6ca"/><stop offset="0.36" stop-color="#9caec3"/><stop offset="0.4" stop-color="#839fbe"/><stop offset="0.42" stop-color="#7c9bbd"/><stop offset="0.5" stop-color="#7497bb"/><stop offset="0.55" stop-color="#6e94ba"/><stop offset="0.6" stop-color="#4682b4"/><stop offset="0.66" stop-color="#829fbe"/><stop offset="0.7" stop-color="#9badc3"/><stop offset="0.72" stop-color="#a2b1c4"/><stop offset="0.8" stop-color="#aeb9c6"/><stop offset="0.85" stop-color="#b4bdc7"/><stop offset="0.9" stop-color="#c0c4ca"/><stop offset="0.93" stop-color="#c6c8cb"/><stop offset="0.98" stop-color="#cccccc"/><stop offset="1" stop-color="#ba919a"/></linearGradient>
<linearGradient id="g65"><stop offset="0" stop-color="#b88893"/><stop offset="0.1" stop-color="#bd98a0"/><stop offset="0.2" stop-color="#c1a6ac"/><stop offset="0.3" stop-color="#c5b2b6"/><stop offset="0.4" stop-color="#c8bbbd"/><stop offset="0.5" stop-color="#cac3c4"/><stop offset="0.6" stop-color="#cbc9ca"/><stop offset="0.7" stop-color="#cccccc"/><stop offset="0.8" stop-color="#cccbcb"/><stop offset="0.9" stop-color="#cbc9c9"/><stop offset="1" stop-color="#cac3c5"/></linearGradient>
<linearGradient id="g66"><stop offset="0" stop-color="#8b1a45"/><stop offset="0.1" stop-color="#8b1a45"/><stop offset="0.2" stop-color="#8b1a45"/><stop offset="0.3" stop-color="#8b1a45"/><stop offset="0.4" stop-color="#8b1a45"/><stop offset="0.45" stop-color="#8b1a45"/><stop offset="0.5" stop-color="#912b4d"/><stop offset="0.6" stop-color="#a3566b"/><stop offset="0.7" stop-color="#a96475"/><stop offset="0.8" stop-color="#ad6e7e"/><stop offset="0.9" stop-color="#b07583"/><stop offset="1" stop-color="#b17885"/></linearGradient>
<linearGradient id="g67"><stop offset="0" stop-color="#cac3c5"/><stop offset="0.1" stop-color="#cac4c5"/><stop offset="0.2" stop-color="#cac5c6"/><stop offset="0.3" stop-color="#cbc6c7"/><stop offset="0.4" stop-color="#cbc7c8"/><stop offset="0.5" stop-color="#cbc8c8"/><stop offset="0.6" stop-color="#cbc9c9"/><stop offset="0.7" stop-color="#cbc9ca"/><stop offset="0.8" stop-color="#cccacb"/><stop offset="0.9" stop-color="#cccbcb"/><stop offset="1" stop-color="#cccccc"/></linearGradient>
<linearGradient id="g68"><stop offset="0" stop-color="#c5b2b6"/><stop offset="0.1" stop-color="#b98c95"/><stop offset="0.2" stop-color="#aa6778"/><stop offset="0.3" stop-color="#973a57"/><stop offset="0.4" stop-color="#8b1a45"/><stop offset="0.5" stop-color="#943151"/><stop offset="0.6" stop-color="#9f4c63"/><stop offset="0.7" stop-color="#aa6677"/><stop offset="0.75" stop-color="#ae6f7e"/><stop offset="0.8" stop-color="#b17684"/><stop offset="0.9" stop-color="#b5828d"/><stop offset="1" stop-color="#b88893"/></linearGradient>
<linearGradient id="g69"><stop offset="0" stop-color="#cac3c5"/><stop offset="0.1" stop-color="#c7b9bc"/><stop offset="0.2" stop-color="#c4b0b4"/><stop offset="0.3" stop-color="#c2a8ad"/><stop offset="0.4" stop-color="#c1a3a9"/><stop offset="0.5" stop-color="#c0a2a8"/><stop offset="0.6" stop-color="#c0a2a8"/><stop offset="0.7" stop-color="#c0a2a8"/><stop offset="0.8" stop-color="#c1a3a9"/><stop offset="0.9" stop-color="#c1a6ab"/><stop offset="1" stop-color="#c3aaaf"/></linearGradient>
<linearGradient id="g70"><stop offset="0" stop-color="#c6c8cb"/><stop offset="0.1" stop-color="#c3c6ca"/><stop offset="0.2" stop-color="#bfc4c9"/><stop offset="0.3" stop-color="#bac0c9"/><stop offset="0.4" stop-color="#b5bdc8"/><stop offset="0.5" stop-color="#aeb9c6"/><stop offset="0.6" stop-color="#a8b5c5"/><stop offset="0.7" stop-color="#a0b0c4"/><stop offset="0.8" stop-color="#98abc2"/><stop offset="0.9" stop-color="#8da5c0"/><stop offset="1" stop-color="#829fbe"/></linearGradient>
<linearGradient id="g71"><stop offset="0" stop-color="#5789b7"/><stop offset="0.05" stop-color="#5f8db8"/><stop offset="0.06" stop-color="#a8b5c5"/><stop offset="0.1" stop-color="#a7b4c5"/><stop offset="0.2" stop-color="#9caec3"/><stop offset="0.3" stop-color="#4682b4"/><stop offset="0.4" stop-color="#4682b4"/><stop offset="0.5" stop-color="#4682b4"/><stop offset="0.6" stop-color="#4682b4"/><stop offset="0.63" stop-color="#4682b4"/><stop offset="0.7" stop-color="#6790b9"/><stop offset="0.76" stop-color="#4682b4"/><stop offset="0.8" stop-color="#4682b4"/><stop offset="0.9" stop-color="#4682b4"/><stop offset="1" stop-color="#4682b4"/></linearGradient>
<linearGradient id="g72"><stop offset="0" stop-color="#8b1a45"/><stop offset="0.1" stop-color="#8d1f47"/><stop offset="0.2" stop-color="#90274b"/><stop offset="0.3" stop-color="#943151"/><stop offset="0.4" stop-color="#993f5a"/><stop offset="0.5" stop-color="#a15167"/><stop offset="0.6" stop-color="#aa6576"/><stop offset="0.7" stop-color="#b17885"/><stop offset="0.8" stop-color="#b88893"/><stop offset="0.9" stop-color="#bd99a1"/><stop offset="1" stop-color="#c3aaaf"/></linearGradient>
<linearGradient id="g73"><stop offset="0" stop-color="#cccccc"/><stop offset="0.1" stop-color="#cccccc"/><stop offset="0.2" stop-color="#cccccc"/><stop offset="0.3" stop-color="#cccccc"/><stop offset="0.4" stop-color="#cccccc"/><stop offset="0.5" stop-color="#cccccc"/><stop offset="0.6" stop-color="#cccbcb"/><stop offset="0.7" stop-color="#cbc8c9"/><stop offset="0.8" stop-color="#cac5c6"/><stop offset="0.9" stop-color="#c9c0c2"/><stop offset="1" stop-color="#c8bbbd"/></linearGradient>
<linearGradient id="g74"><stop offset="0" stop-color="#c5b2b6"/><stop offset="0.1" stop-color="#c4b0b4"/><stop offset="0.2" stop-color="#c4adb2"/><stop offset="0.3" stop-color="#c3abb0"/><stop offset="0.4" stop-color="#c2a8ae"/><stop offset="0.5" stop-color="#c1a6ab"/><stop offset="0.6" stop-color="#c1a3a9"/><stop offset="0.7" stop-color="#c0a1a7"/><stop offset="0.8" stop-color="#bf9ea5"/><stop offset="0.9" stop-color="#be9ca3"/><stop offset="1" stop-color="#bd99a1"/></linearGradient>
<linearGradient id="g75"><stop offset="0" stop-color="#b88893"/><stop offset="0.1" stop-color="#b17885"/><stop offset="0.2" stop-color="#ae707f"/><stop offset="0.25" stop-color="#ae6f7e"/><stop offset="0.3" stop-color="#af7280"/><stop offset="0.4" stop-color="#b5818d"/><stop offset="0.5" stop-color="#ba919a"/><stop offset="0.6" stop-color="#bf9ea5"/><stop offset="0.7" stop-color="#c2a8ae"/><stop offset="0.75" stop-color="#c3aaaf"/><stop offset="0.8" stop-color="#c3a9af"/><stop offset="0.9" stop-color="#c1a5aa"/><stop offset="1" stop-color="#bd99a1"/></linearGradient>
<linearGradient id="g76"><stop offset="0" stop-color="#bac0c9"/><stop offset="0.1" stop-color="#bfc4ca"/><stop offset="0.2" stop-color="#c3c6ca"/><stop offset="0.3" stop-color="#c7c9cb"/><stop offset="0.4" stop-color="#cacacc"/><stop offset="0.5" stop-color="#cbcccc"/><stop offset="0.6" stop-color="#cccacb"/><stop offset="0.7" stop-color="#cbc8c9"/><stop offset="0.8" stop-color="#cbc7c7"/><stop offset="0.9" stop-color="#cac6c6"/><stop offset="1" stop-color="#cac5c6"/></linearGradient>
<linearGradient id="g77"><stop offset="0" stop-color="#cccccc"/><stop offset="0.1" stop-color="#cbcbcc"/><stop offset="0.2" stop-color="#cacacc"/><stop offset="0.3" stop-color="#c8cacb"/><stop offset="0.4" stop-color="#c7c9cb"/><stop offset="0.5" stop-color="#c6c8cb"/><stop offset="0.6" stop-color="#c5c7cb"/><stop offset="0.7" stop-color="#c4c7ca"/><stop offset="0.8" stop-color="#c2c6ca"/><stop offset="0.9" stop-color="#c1c5ca"/><stop offset="1" stop-color="#c0c4ca"/></linearGradient>
<linearGradient id="g78"><stop offset="0" stop-color="#829fbe"/><stop offset="0.1" stop-color="#5b8bb7"/><stop offset="0.2" stop-color="#4f86b5"/><stop offset="0.3" stop-color="#7296bb"/><stop offset="0.4" stop-color="#9caec3"/><stop offset="0.5" stop-color="#b0bac7"/><stop offset="0.55" stop-color="#b4bdc7"/><stop offset="0.6" stop-color="#b3bcc7"/><stop offset="0.7" stop-color="#a9b6c5"/><stop offset="0.8" stop-color="#9caec3"/><stop offset="0.9" stop-color="#87a1bf"/><stop offset="1" stop-color="#6790b9"/></linearGradient>
<linearGradient id="g79"><stop offset="0" stop-color="#b17885"/><stop offset="0.1" stop-color="#9d4860"/><stop offset="0.2" stop-color="#8e2249"/><stop offset="0.25" stop-color="#8b1a45"/><stop offset="0.3" stop-color="#8b1a45"/><stop offset="0.4" stop-color="#8b1a45"/><stop offset="0.5" stop-color="#8b1a45"/><stop offset="0.6" stop-color="#8b1a45"/><stop offset="0.7" stop-color="#a86072"/><stop offset="0.8" stop-color="#c3aaaf"/><stop offset="0.9" stop-color="#c9c2c3"/><stop offset="1" stop-color="#cccccc"/></linearGradient>
<linearGradient id="g80"><stop offset="0" stop-color="#c6c8cb"/><stop offset="0.1" stop-color="#c1c5ca"/><stop offset="0.2" stop-color="#bbc1c9"/><stop offset="0.3" stop-color="#b4bdc7"/><stop offset="0.4" stop-color="#a9b6c5"/><stop offset="0.5" stop-color="#9caec3"/><stop offset="0.6" stop-color="#95aac2"/><stop offset="0.7" stop-color="#96aac2"/><stop offset="0.8" stop-color="#97abc2"/><stop offset="0.9" stop-color="#9badc3"/><stop offset="1" stop-color="#a2b1c4"/></linearGradient>
<linearGradient id="g81"><stop offset="0" stop-color="#a8b5c5"/><stop offset="0.1" stop-color="#b0bac7"/><stop offset="0.2" stop-color="#b8bfc8"/><stop offset="0.3" stop-color="#bec3c9"/><stop offset="0.4" stop-color="#c3c6ca"/><stop offset="0.5" stop-color="#c6c8cb"/><stop offset="0.6" stop-color="#c8c9cb"/><stop offset="0.7" stop-color="#cacacc"/><stop offset="0.8" stop-color="#cbcbcc"/><stop offset="0.9" stop-color="#cccccc"/><stop offset="1" stop-color="#cccccc"/></linearGradient>
<linearGradient id="g82"><stop offset="0" stop-color="#c8bbbd"/><stop offset="0.1" stop-color="#cac3c4"/><stop offset="0.2" stop-color="#cbc9ca"/><stop offset="0.3" stop-color="#cccccc"/><stop offset="0.4" stop-color="#cccccc"/><stop offset="0.5" stop-color="#cccccc"/><stop offset="0.6" stop-color="#cccccc"/><stop offset="0.7" stop-color="#cbc9ca"/><stop offset="0.8" stop-color="#cac3c5"/><stop offset="0.9" stop-color="#c7b8ba"/><stop offset="0.95" stop-color="#c3aaaf"/><stop offset="1" stop-color="#aa6778"/></linearGradient>
<linearGradient id="g83"><stop offset="0" stop-color="#a04d64"/><stop offset="0.1" stop-color="#9c455e"/><stop offset="0.2" stop-color="#993d59"/><stop offset="0.3" stop-color="#963755"/><stop offset="0.4" stop-color="#943352"/><stop offset="0.5" stop-color="#943151"/><stop offset="0.6" stop-color="#943151"/><stop offset="0.7" stop-color="#943252"/><stop offset="0.8" stop-color="#943353"/><stop offset="0.9" stop-color="#963654"/><stop offset="1" stop-color="#983b57"/></linearGradient>
<linearGradient id="g84"><stop offset="0" stop-color="#ae6f7e"/><stop offset="0.1" stop-color="#b68490"/><stop offset="0.2" stop-color="#ba8e98"/><stop offset="0.3" stop-color="#ba919a"/><stop offset="0.4" stop-color="#b4808c"/><stop offset="0.5" stop-color="#ae6f7e"/><stop offset="0.6" stop-color="#ae707f"/><stop offset="0.7" stop-color="#af7381"/><stop offset="0.8" stop-color="#b17885"/><stop offset="0.9" stop-color="#b88a94"/><stop offset="1" stop-color="#c3aaaf"/></linearGradient>
<linearGradient id="g85"><stop offset="0" stop-color="#cac3c5"/><stop offset="0.1" stop-color="#cccaca"/><stop offset="0.2" stop-color="#cacacc"/><stop offset="0.3" stop-color="#c7c9cb"/><stop offset="0.4" stop-color="#c6c8cb"/><stop offset="0.5" stop-color="#c6c8cb"/><stop offset="0.6" stop-color="#c7c8cb"/><stop offset="0.7" stop-color="#c8c9cb"/><stop offset="0.8" stop-color="#c9cacb"/><stop offset="0.9" stop-color="#cccccc"/><stop offset="1" stop-color="#cbc7c8"/></linearGradient>
<linearGradient id="g86"><stop offset="0" stop-color="#b4bdc7"/><stop offset="0.1" stop-color="#b4bcc7"/><stop offset="0.2" stop-color="#b2bbc7"/><stop offset="0.3" stop-color="#b0bac7"/><stop offset="0.4" stop-color="#acb8c6"/><stop offset="0.5" stop-color="#a8b5c5"/><stop offset="0.6" stop-color="#9eafc3"/><stop offset="0.7" stop-color="#8ca4c0"/><stop offset="0.75" stop-color="#829fbe"/><stop offset="0.8" stop-color="#7497bb"/><stop offset="0.9" stop-color="#4f85b5"/><stop offset="0.95" stop-color="#4682b4"/><stop offset="1" stop-color="#4682b4"/></linearGradient>
<linearGradient id="g87"><stop offset="0" stop-color="#c0c4ca"/><stop offset="0.1" stop-color="#bec3c9"/><stop offset="0.2" stop-color="#bcc2c9"/><stop offset="0.3" stop-color="#bbc1c9"/><stop offset="0.4" stop-color="#bac1c9"/><stop offset="0.5" stop-color="#bac0c9"/><stop offset="0.6" stop-color="#bac1c9"/><stop offset="0.7" stop-color="#bbc1c9"/><stop offset="0.8" stop-color="#bcc2c9"/><stop offset="0.9" stop-color="#bec3c9"/><stop offset="1" stop-color="#c0c4ca"/></linearGradient>
<linearGradient id="g88"><stop offset="0" stop-color="#bac0c9"/><stop offset="0.1" stop-color="#bac0c8"/><stop offset="0.2" stop-color="#b8bfc8"/><stop offset="0.3" stop-color="#b5bdc8"/><stop offset="0.4" stop-color="#b2bbc7"/><stop offset="0.5" stop-color="#aeb9c6"/><stop offset="0.6" stop-color="#a5b3c5"/><stop offset="0.7" stop-color="#98acc2"/><stop offset="0.8" stop-color="#8fa6c0"/><stop offset="0.9" stop-color="#8ba4c0"/><stop offset="1" stop-color="#89a2bf"/></linearGradient>
<linearGradient id="g89"><stop offset="0" stop-color="#c8bbbd"/><stop offset="0.1" stop-color="#c5b2b5"/><stop offset="0.2" stop-color="#c3acb1"/><stop offset="0.3" stop-color="#c3aaaf"/><stop offset="0.4" stop-color="#c4afb3"/><stop offset="0.5" stop-color="#c7b8bb"/><stop offset="0.6" stop-color="#cac2c4"/><stop offset="0.7" stop-color="#cbc7c8"/><stop offset="0.8" stop-color="#cbc7c8"/><stop offset="0.9" stop-color="#cbc7c8"/><stop offset="1" stop-color="#cbc7c8"/></linearGradient>
<linearGradient id="g90"><stop offset="0" stop-color="#b4808c"/><stop offset="0.1" stop-color="#af7381"/><stop offset="0.2" stop-color="#ae6f7e"/><stop offset="0.3" stop-color="#b37c89"/><stop offset="0.4" stop-color="#bc959d"/><stop offset="0.5" stop-color="#c0a2a8"/><stop offset="0.6" stop-color="#be9ba2"/><stop offset="0.7" stop-color="#b88893"/><stop offset="0.8" stop-color="#973956"/><stop offset="0.85" stop-color="#8b1a45"/><stop offset="0.9" stop-color="#8b1a45"/><stop offset="1" stop-color="#8b1a45"/></linearGradient>
<linearGradient id="g91"><stop offset="0" stop-color="#c5b2b6"/><stop offset="0.1" stop-color="#c7b7ba"/><stop offset="0.2" stop-color="#c7babc"/><stop offset="0.3" stop-color="#c8bbbd"/><stop offset="0.4" stop-color="#c8bbbd"/><stop offset="0.5" stop-color="#c5b1b5"/><stop offset="0.6" stop-color="#be9ba3"/><stop offset="0.7" stop-color="#b88893"/><stop offset="0.8" stop-color="#b37c88"/><stop offset="0.9" stop-color="#ae707f"/><stop offset="1" stop-color="#aa6778"/></linearGradient>
<linearGradient id="g92"><stop offset="0" stop-color="#cccccc"/><stop offset="0.1" stop-color="#cccccc"/><stop offset="0.2" stop-color="#cccccc"/><stop offset="0.3" stop-color="#cccccc"/><stop offset="0.4" stop-color="#cccccc"/><stop offset="0.5" stop-color="#cccccc"/><stop offset="0.6" stop-color="#cccccc"/><stop offset="0.7" stop-color="#cbcbcc"/><stop offset="0.8" stop-color="#c9cacc"/><stop offset="0.9" stop-color="#c8c9cb"/><stop offset="1" stop-color="#c6c8cb"/></linearGradient>
<linearGradient id="g93"><stop offset="0" stop-color="#89a2bf"/><stop offset="0.1" stop-color="#7c9bbd"/><stop offset="0.2" stop-color="#7195bb"/><stop offset="0.3" stop-color="#6790b9"/><stop offset="0.4" stop-color="#5d8bb7"/><stop offset="0.5" stop-color="#5387b6"/><stop offset="0.6" stop-color="#4f86b5"/><stop offset="0.7" stop-color="#5e8cb8"/><stop offset="0.8" stop-color="#7597bb"/><stop offset="0.9" stop-color="#88a2bf"/><stop offset="1" stop-color="#9caec3"/></linearGradient>
<linearGradient id="g94"><stop offset="0" stop-color="#bd99a1"/><stop offset="0.1" stop-color="#bc959d"/><stop offset="0.2" stop-color="#bb939b"/><stop offset="0.3" stop-color="#bb919a"/><stop offset="0.4" stop-color="#bb919a"/><stop offset="0.5" stop-color="#ba919a"/><stop offset="0.6" stop-color="#bb939b"/><stop offset="0.7" stop-color="#bd979f"/><stop offset="0.8" stop-color="#bf9fa5"/><stop offset="0.9" stop-color="#c2a8ad"/><stop offset="1" stop-color="#c5b2b6"/></linearGradient>
<linearGradient id="g95"><stop offset="0" stop-color="#c8bbbd"/><stop offset="0.1" stop-color="#c4adb1"/><stop offset="0.2" stop-color="#c1a3a9"/><stop offset="0.3" stop-color="#bf9da4"/><stop offset="0.4" stop-color="#be9aa2"/><stop offset="0.5" stop-color="#bd99a1"/><stop offset="0.6" stop-color="#bf9fa5"/><stop offset="0.7" stop-color="#c3a9ae"/><stop offset="0.8" stop-color="#c5b2b6"/><stop offset="0.9" stop-color="#c7b7ba"/><stop offset="1" stop-color="#c8bbbd"/></linearGradient>
<linearGradient id="lg1"><stop offset="0" stop-color="#4682b4"/><stop offset="0.01" stop-color="#4682b4"/><stop offset="0.01" stop-color="#4682b4"/><stop offset="0.02" stop-color="#4682b4"/><stop offset="0.02" stop-color="#4682b4"/><stop offset="0.03" stop-color="#4682b4"/><stop offset="0.03" stop-color="#4682b4"/><stop offset="0.04" stop-color="#4682b4"/><stop offset="0.04" stop-color="#4682b4"/><stop offset="0.07" stop-color="#5e8dba"/><stop offset="0.1" stop-color="#7399c0"/><stop offset="0.13" stop-color="#87a5c5"/><stop offset="0.16" stop-color="#9ab1cb"/><stop offset="0.19" stop-color="#acbdd1"/><stop offset="0.22" stop-color="#bec9d7"/><stop offset="0.25" stop-color="#d0d5dc"/><stop offset="0.28" stop-color="#e2e2e2"/><stop offset="0.36" stop-color="#dacacd"/><stop offset="0.44" stop-color="#d0b1b8"/><stop offset="0.53" stop-color="#c79aa3"/><stop offset="0.61" stop-color="#bc828f"/><stop offset="0.69" stop-color="#b16a7c"/><stop offset="0.78" stop-color="#a55269"/><stop offset="0.86" stop-color="#983957"/><stop offset="0.94" stop-color="#8b1a45"/><stop offset="0.95" stop-color="#8b1a45"/><stop offset="0.96" stop-color="#8b1a45"/><stop offset="0.96" stop-color="#8b1a45"/><stop offset="0.97" stop-color="#8b1a45"/><stop offset="0.98" stop-color="#8b1a45"/><stop offset="0.99" stop-color="#8b1a45"/><stop offset="0.99" stop-color="#8b1a45"/><stop offset="1" stop-color="#8b1a45"/></linearGradient>
<linearGradient id="lg2"><stop offset="0" stop-color="#4292c6"/><stop offset="0.01" stop-color="#4292c6"/><stop offset="0.01" stop-color="#4292c6"/><stop offset="0.02" stop-color="#4292c6"/><stop offset="0.03" stop-color="#4292c6"/><stop offset="0.03" stop-color="#4292c6"/><stop offset="0.04" stop-color="#4292c6"/><stop offset="0.04" stop-color="#4292c6"/><stop offset="0.05" stop-color="#4292c6"/><stop offset="0.11" stop-color="#5e9cca"/><stop offset="0.16" stop-color="#74a6ce"/><stop offset="0.22" stop-color="#89b0d2"/><stop offset="0.27" stop-color="#9dbbd6"/><stop offset="0.33" stop-color="#afc5da"/><stop offset="0.38" stop-color="#c1d0dd"/><stop offset="0.43" stop-color="#d3dae1"/><stop offset="0.49" stop-color="#e5e5e5"/><stop offset="0.54" stop-color="#ecd0ca"/><stop offset="0.6" stop-color="#f1bbb0"/><stop offset="0.65" stop-color="#f3a696"/><stop offset="0.71" stop-color="#f3907d"/><stop offset="0.76" stop-color="#f27964"/><stop offset="0.81" stop-color="#ee614c"/><stop offset="0.87" stop-color="#ea4534"/><stop offset="0.92" stop-color="#e41a1c"/><stop offset="0.93" stop-color="#e41a1c"/><stop offset="0.94" stop-color="#e41a1c"/><stop offset="0.95" stop-color="#e41a1c"/><stop offset="0.96" stop-color="#e41a1c"/><stop offset="0.97" stop-color="#e41a1c"/><stop offset="0.98" stop-color="#e41a1c"/><stop offset="0.99" stop-color="#e41a1c"/><stop offset="1" stop-color="#e41a1c"/></linearGradient>
</defs>
<rect width="1968" height="1250" fill="#fff"/>
<g shape-rendering="auto">
<rect x="53" y="67.5" width="120" height="58.2" fill="#cccccc"/>
<rect x="180.75" y="67.5" width="23.25" height="58.2" fill="#cccccc"/>
<rect x="212" y="67.5" width="17.5" height="58.2" fill="#fdcc8a"/>
<rect x="237" y="67.5" width="77.5" height="58.2" fill="#cccccc"/>
<rect x="321.75" y="67.5" width="26" height="58.2" fill="#fdcc8a"/>
<rect x="354.25" y="67.5" width="44.5" height="58.2" fill="#fdcc8a"/>
<rect x="405.75" y="67.5" width="12.25" height="58.2" fill="#fdcc8a"/>
<rect x="425.25" y="67.5" width="27.75" height="58.2" fill="#9ecae1"/>
<rect x="460.75" y="67.5" width="14.25" height="58.2" fill="#e34a33"/>
<rect x="482.25" y="67.5" width="123.75" height="58.2" fill="#cccccc"/>
<rect x="613.25" y="67.5" width="16.75" height="58.2" fill="#9ecae1"/>
<rect x="637.5" y="67.5" width="10.5" height="58.2" fill="#fdcc8a"/>
<rect x="655.75" y="67.5" width="26.25" height="58.2" fill="#fdcc8a"/>
<rect x="689.5" y="67.5" width="10.75" height="58.2" fill="#fc8d59"/>
<rect x="707.75" y="67.5" width="66.25" height="58.2" fill="#fdcc8a"/>
<rect x="781" y="67.5" width="19" height="58.2" fill="#fdcc8a"/>
<rect x="807" y="67.5" width="10.25" height="58.2" fill="#9ecae1"/>
<rect x="824.25" y="67.5" width="22.5" height="58.2" fill="#fc8d59"/>
<rect x="854.25" y="67.5" width="8.5" height="58.2" fill="#fc8d59"/>
<rect x="870" y="67.5" width="59" height="58.2" fill="#cccccc"/>
<rect x="936" y="67.5" width="9.25" height="58.2" fill="#cccccc"/>
<rect x="953" y="67.5" width="41.75" height="58.2" fill="#cccccc"/>
<rect x="1002" y="67.5" width="29.75" height="58.2" fill="#cccccc"/>
<rect x="1039" y="67.5" width="26" height="58.2" fill="#fc8d59"/>
<rect x="1072.25" y="67.5" width="94.75" height="58.2" fill="#9ecae1"/>
<rect x="1174.25" y="67.5" width="19.75" height="58.2" fill="#cccccc"/>
<rect x="1201.25" y="67.5" width="46" height="58.2" fill="#fdcc8a"/>
<rect x="1254" y="67.5" width="26.25" height="58.2" fill="#cccccc"/>
<rect x="1288" y="67.5" width="13.75" height="58.2" fill="#cccccc"/>
<rect x="1309" y="67.5" width="63" height="58.2" fill="#9ecae1"/>
<rect x="1379.75" y="67.5" width="7.75" height="58.2" fill="#fdcc8a"/>
<rect x="1394.75" y="67.5" width="26.25" height="58.2" fill="#cccccc"/>
<rect x="1428" y="67.5" width="42.75" height="58.2" fill="#cccccc"/>
<rect x="1478" y="67.5" width="39.75" height="58.2" fill="#9ecae1"/>
<rect x="1525" y="67.5" width="63.25" height="58.2" fill="#cccccc"/>
<rect x="1595.5" y="67.5" width="42.25" height="58.2" fill="#fdcc8a"/>
<rect x="1645" y="67.5" width="30.5" height="58.2" fill="#fdcc8a"/>
<rect x="1682.75" y="67.5" width="43.25" height="58.2" fill="#cccccc"/>
<rect x="1733.25" y="67.5" width="23.75" height="58.2" fill="#cccccc"/>
<rect x="1764.75" y="67.5" width="60.25" height="58.2" fill="#9ecae1"/>
<rect x="53" y="133" width="120" height="58.5" fill="#cccccc"/>
<rect x="180.75" y="133" width="23.25" height="58.5" fill="#cccccc"/>
<rect x="212" y="133" width="17.5" height="58.5" fill="#fdcc8a"/>
<rect x="237" y="133" width="77.5" height="58.5" fill="#cccccc"/>
<rect x="321.75" y="133" width="26" height="58.5" fill="#cccccc"/>
<rect x="354.25" y="133" width="44.5" height="58.5" fill="#cccccc"/>
<rect x="405.75" y="133" width="12.25" height="58.5" fill="#cccccc"/>
<rect x="425.25" y="133" width="27.75" height="58.5" fill="#9ecae1"/>
<rect x="460.75" y="133" width="14.25" height="58.5" fill="#e34a33"/>
<rect x="482.25" y="133" width="123.75" height="58.5" fill="#cccccc"/>
<rect x="613.25" y="133" width="16.75" height="58.5" fill="#9ecae1"/>
<rect x="637.5" y="133" width="10.5" height="58.5" fill="#fdcc8a"/>
<rect x="655.75" y="133" width="26.25" height="58.5" fill="#cccccc"/>
<rect x="689.5" y="133" width="10.75" height="58.5" fill="#fc8d59"/>
<rect x="707.75" y="133" width="66.25" height="58.5" fill="#fdcc8a"/>
<rect x="781" y="133" width="19" height="58.5" fill="#fdcc8a"/>
<rect x="807" y="133" width="10.25" height="58.5" fill="#9ecae1"/>
<rect x="824.25" y="133" width="22.5" height="58.5" fill="#fc8d59"/>
<rect x="854.25" y="133" width="8.5" height="58.5" fill="#fc8d59"/>
<rect x="870" y="133" width="59" height="58.5" fill="#cccccc"/>
<rect x="936" y="133" width="9.25" height="58.5" fill="#cccccc"/>
<rect x="953" y="133" width="41.75" height="58.5" fill="#cccccc"/>
<rect x="1002" y="133" width="29.75" height="58.5" fill="#cccccc"/>
<rect x="1039" y="133" width="26" height="58.5" fill="#fdcc8a"/>
<rect x="1072.25" y="133" width="94.75" height="58.5" fill="#9ecae1"/>
<rect x="1174.25" y="133" width="19.75" height="58.5" fill="#cccccc"/>
<rect x="1201.25" y="133" width="46" height="58.5" fill="#fc8d59"/>
<rect x="1254" y="133" width="26.25" height="58.5" fill="#fdcc8a"/>
<rect x="1288" y="133" width="13.75" height="58.5" fill="#fdcc8a"/>
<rect x="1309" y="133" width="63" height="58.5" fill="#cccccc"/>
<rect x="1379.75" y="133" width="7.75" height="58.5" fill="#fdcc8a"/>
<rect x="1394.75" y="133" width="26.25" height="58.5" fill="#9ecae1"/>
<rect x="1428" y="133" width="42.75" height="58.5" fill="#cccccc"/>
<rect x="1478" y="133" width="39.75" height="58.5" fill="#9ecae1"/>
<rect x="1525" y="133" width="63.25" height="58.5" fill="#fdcc8a"/>
<rect x="1595.5" y="133" width="42.25" height="58.5" fill="#fdcc8a"/>
<rect x="1645" y="133" width="30.5" height="58.5" fill="#fdcc8a"/>
<rect x="1682.75" y="133" width="43.25" height="58.5" fill="#cccccc"/>
<rect x="1733.25" y="133" width="23.75" height="58.5" fill="#cccccc"/>
<rect x="1764.75" y="133" width="60.25" height="58.5" fill="#cccccc"/>
<rect x="53" y="199" width="120" height="58.5" fill="#9ecae1"/>
<rect x="180.75" y="199" width="23.25" height="58.5" fill="#fc8d59"/>
<rect x="212" y="199" width="17.5" height="58.5" fill="#cccccc"/>
<rect x="237" y="199" width="77.5" height="58.5" fill="#fdcc8a"/>
<rect x="321.75" y="199" width="26" height="58.5" fill="#fdcc8a"/>
<rect x="354.25" y="199" width="44.5" height="58.5" fill="#fdcc8a"/>
<rect x="405.75" y="199" width="12.25" height="58.5" fill="#fdcc8a"/>
<rect x="425.25" y="199" width="27.75" height="58.5" fill="#cccccc"/>
<rect x="460.75" y="199" width="14.25" height="58.5" fill="#9ecae1"/>
<rect x="482.25" y="199" width="123.75" height="58.5" fill="#9ecae1"/>
<rect x="613.25" y="199" width="16.75" height="58.5" fill="#fc8d59"/>
<rect x="637.5" y="199" width="10.5" height="58.5" fill="#cccccc"/>
<rect x="655.75" y="199" width="26.25" height="58.5" fill="#cccccc"/>
<rect x="689.5" y="199" width="10.75" height="58.5" fill="#fdcc8a"/>
<rect x="707.75" y="199" width="66.25" height="58.5" fill="#cccccc"/>
<rect x="781" y="199" width="19" height="58.5" fill="#cccccc"/>
<rect x="807" y="199" width="10.25" height="58.5" fill="#cccccc"/>
<rect x="824.25" y="199" width="22.5" height="58.5" fill="#cccccc"/>
<rect x="854.25" y="199" width="8.5" height="58.5" fill="#9ecae1"/>
<rect x="870" y="199" width="59" height="58.5" fill="#9ecae1"/>
<rect x="936" y="199" width="9.25" height="58.5" fill="#9ecae1"/>
<rect x="953" y="199" width="41.75" height="58.5" fill="#fdcc8a"/>
<rect x="1002" y="199" width="29.75" height="58.5" fill="#9ecae1"/>
<rect x="1039" y="199" width="26" height="58.5" fill="#cccccc"/>
<rect x="1072.25" y="199" width="94.75" height="58.5" fill="#cccccc"/>
<rect x="1174.25" y="199" width="19.75" height="58.5" fill="#fdcc8a"/>
<rect x="1201.25" y="199" width="46" height="58.5" fill="#fdcc8a"/>
<rect x="1254" y="199" width="26.25" height="58.5" fill="#cccccc"/>
<rect x="1288" y="199" width="13.75" height="58.5" fill="#9ecae1"/>
<rect x="1309" y="199" width="63" height="58.5" fill="#9ecae1"/>
<rect x="1379.75" y="199" width="7.75" height="58.5" fill="#cccccc"/>
<rect x="1394.75" y="199" width="26.25" height="58.5" fill="#9ecae1"/>
<rect x="1428" y="199" width="42.75" height="58.5" fill="#9ecae1"/>
<rect x="1478" y="199" width="39.75" height="58.5" fill="#cccccc"/>
<rect x="1525" y="199" width="63.25" height="58.5" fill="#fdcc8a"/>
<rect x="1595.5" y="199" width="42.25" height="58.5" fill="#cccccc"/>
<rect x="1645" y="199" width="30.5" height="58.5" fill="#9ecae1"/>
<rect x="1682.75" y="199" width="43.25" height="58.5" fill="#9ecae1"/>
<rect x="1733.25" y="199" width="23.75" height="58.5" fill="#fdcc8a"/>
<rect x="1764.75" y="199" width="60.25" height="58.5" fill="#cccccc"/>
<rect x="53" y="272" width="120" height="59" fill="url(#g1)"/>
<rect x="180.75" y="272" width="23.25" height="59" fill="url(#g2)"/>
<rect x="212" y="272" width="17.5" height="59" fill="url(#g3)"/>
<rect x="237" y="272" width="77.5" height="59" fill="url(#g4)"/>
<rect x="321.75" y="272" width="26" height="59" fill="url(#g5)"/>
<rect x="354.25" y="272" width="44.5" height="59" fill="url(#g6)"/>
<rect x="405.75" y="272" width="12.25" height="59" fill="#b4808c"/>
<rect x="425.25" y="272" width="27.75" height="59" fill="url(#g7)"/>
<rect x="460.75" y="272" width="14.25" height="59" fill="url(#g8)"/>
<rect x="482.25" y="272" width="123.75" height="59" fill="url(#g9)"/>
<rect x="613.25" y="272" width="16.75" height="59" fill="#aeb9c6"/>
<rect x="637.5" y="272" width="10.5" height="59" fill="#9c445e"/>
<rect x="655.75" y="272" width="26.25" height="59" fill="url(#g10)"/>
<rect x="689.5" y="272" width="10.75" height="59" fill="url(#g11)"/>
<rect x="707.75" y="272" width="66.25" height="59" fill="url(#g12)"/>
<rect x="781" y="272" width="19" height="59" fill="url(#g13)"/>
<rect x="807" y="272" width="10.25" height="59" fill="#9caec3"/>
<rect x="824.25" y="272" width="22.5" height="59" fill="#8b1a45"/>
<rect x="854.25" y="272" width="8.5" height="59" fill="url(#g14)"/>
<rect x="870" y="272" width="59" height="59" fill="url(#g15)"/>
<rect x="936" y="272" width="9.25" height="59" fill="#cccccc"/>
<rect x="953" y="272" width="41.75" height="59" fill="url(#g16)"/>
<rect x="1002" y="272" width="29.75" height="59" fill="url(#g17)"/>
<rect x="1039" y="272" width="26" height="59" fill="url(#g18)"/>
<rect x="1072.25" y="272" width="94.75" height="59" fill="url(#g19)"/>
<rect x="1174.25" y="272" width="19.75" height="59" fill="url(#g20)"/>
<rect x="1201.25" y="272" width="46" height="59" fill="url(#g21)"/>
<rect x="1254" y="272" width="26.25" height="59" fill="url(#g22)"/>
<rect x="1288" y="272" width="13.75" height="59" fill="#c9c0c2"/>
<rect x="1309" y="272" width="63" height="59" fill="url(#g23)"/>
<rect x="1379.75" y="272" width="7.75" height="59" fill="#ba919a"/>
<rect x="1394.75" y="272" width="26.25" height="59" fill="url(#g24)"/>
<rect x="1428" y="272" width="42.75" height="59" fill="url(#g25)"/>
<rect x="1478" y="272" width="39.75" height="59" fill="url(#g26)"/>
<rect x="1525" y="272" width="63.25" height="59" fill="url(#g27)"/>
<rect x="1595.5" y="272" width="42.25" height="59" fill="url(#g28)"/>
<rect x="1645" y="272" width="30.5" height="59" fill="url(#g29)"/>
<rect x="1682.75" y="272" width="43.25" height="59" fill="url(#g30)"/>
<rect x="1733.25" y="272" width="23.75" height="59" fill="url(#g31)"/>
<rect x="1764.75" y="272" width="60.25" height="59" fill="url(#g32)"/>
<rect x="53" y="338.75" width="120" height="58" fill="url(#g33)"/>
<rect x="180.75" y="338.75" width="23.25" height="58" fill="url(#g34)"/>
<rect x="212" y="338.75" width="17.5" height="58" fill="url(#g35)"/>
<rect x="237" y="338.75" width="77.5" height="58" fill="url(#g36)"/>
<rect x="321.75" y="338.75" width="26" height="58" fill="url(#g37)"/>
<rect x="354.25" y="338.75" width="44.5" height="58" fill="url(#g38)"/>
<rect x="405.75" y="338.75" width="12.25" height="58" fill="#c3aaaf"/>
<rect x="425.25" y="338.75" width="27.75" height="58" fill="#cccccc"/>
<rect x="460.75" y="338.75" width="14.25" height="58" fill="#aa6778"/>
<rect x="482.25" y="338.75" width="123.75" height="58" fill="url(#g39)"/>
<rect x="613.25" y="338.75" width="16.75" height="58" fill="url(#g40)"/>
<rect x="637.5" y="338.75" width="10.5" height="58" fill="#9c445e"/>
<rect x="655.75" y="338.75" width="26.25" height="58" fill="#cccccc"/>
<rect x="689.5" y="338.75" width="10.75" height="58" fill="url(#g41)"/>
<rect x="707.75" y="338.75" width="66.25" height="58" fill="url(#g42)"/>
<rect x="781" y="338.75" width="19" height="58" fill="#c5b2b6"/>
<rect x="807" y="338.75" width="10.25" height="58" fill="url(#g43)"/>
<rect x="824.25" y="338.75" width="22.5" height="58" fill="url(#g44)"/>
<rect x="854.25" y="338.75" width="8.5" height="58" fill="url(#g45)"/>
<rect x="870" y="338.75" width="59" height="58" fill="url(#g46)"/>
<rect x="936" y="338.75" width="9.25" height="58" fill="#a8b5c5"/>
<rect x="953" y="338.75" width="41.75" height="58" fill="url(#g47)"/>
<rect x="1002" y="338.75" width="29.75" height="58" fill="url(#g48)"/>
<rect x="1039" y="338.75" width="26" height="58" fill="url(#g49)"/>
<rect x="1072.25" y="338.75" width="94.75" height="58" fill="url(#g50)"/>
<rect x="1174.25" y="338.75" width="19.75" height="58" fill="url(#g51)"/>
<rect x="1201.25" y="338.75" width="46" height="58" fill="url(#g52)"/>
<rect x="1254" y="338.75" width="26.25" height="58" fill="url(#g53)"/>
<rect x="1288" y="338.75" width="13.75" height="58" fill="#b4808c"/>
<rect x="1309" y="338.75" width="63" height="58" fill="url(#g54)"/>
<rect x="1379.75" y="338.75" width="7.75" height="58" fill="#c3aaaf"/>
<rect x="1394.75" y="338.75" width="26.25" height="58" fill="url(#g55)"/>
<rect x="1428" y="338.75" width="42.75" height="58" fill="url(#g56)"/>
<rect x="1478" y="338.75" width="39.75" height="58" fill="url(#g57)"/>
<rect x="1525" y="338.75" width="63.25" height="58" fill="url(#g58)"/>
<rect x="1595.5" y="338.75" width="42.25" height="58" fill="url(#g59)"/>
<rect x="1645" y="338.75" width="30.5" height="58" fill="url(#g60)"/>
<rect x="1682.75" y="338.75" width="43.25" height="58" fill="url(#g61)"/>
<rect x="1733.25" y="338.75" width="23.75" height="58" fill="url(#g62)"/>
<rect x="1764.75" y="338.75" width="60.25" height="58" fill="url(#g63)"/>
<rect x="53" y="404" width="120" height="59.25" fill="url(#g64)"/>
<rect x="180.75" y="404" width="23.25" height="59.25" fill="#8b1a45"/>
<rect x="212" y="404" width="17.5" height="59.25" fill="url(#g65)"/>
<rect x="237" y="404" width="77.5" height="59.25" fill="url(#g66)"/>
<rect x="321.75" y="404" width="26" height="59.25" fill="url(#g67)"/>
<rect x="354.25" y="404" width="44.5" height="59.25" fill="url(#g68)"/>
<rect x="405.75" y="404" width="12.25" height="59.25" fill="#b4808c"/>
<rect x="425.25" y="404" width="27.75" height="59.25" fill="url(#g69)"/>
<rect x="460.75" y="404" width="14.25" height="59.25" fill="url(#g70)"/>
<rect x="482.25" y="404" width="123.75" height="59.25" fill="url(#g71)"/>
<rect x="613.25" y="404" width="16.75" height="59.25" fill="url(#g72)"/>
<rect x="637.5" y="404" width="10.5" height="59.25" fill="#a3566b"/>
<rect x="655.75" y="404" width="26.25" height="59.25" fill="url(#g73)"/>
<rect x="689.5" y="404" width="10.75" height="59.25" fill="url(#g74)"/>
<rect x="707.75" y="404" width="66.25" height="59.25" fill="url(#g75)"/>
<rect x="781" y="404" width="19" height="59.25" fill="url(#g76)"/>
<rect x="807" y="404" width="10.25" height="59.25" fill="#cccccc"/>
<rect x="824.25" y="404" width="22.5" height="59.25" fill="#c9bec0"/>
<rect x="854.25" y="404" width="8.5" height="59.25" fill="url(#g77)"/>
<rect x="870" y="404" width="59" height="59.25" fill="url(#g78)"/>
<rect x="936" y="404" width="9.25" height="59.25" fill="#6790b9"/>
<rect x="953" y="404" width="41.75" height="59.25" fill="url(#g79)"/>
<rect x="1002" y="404" width="29.75" height="59.25" fill="url(#g80)"/>
<rect x="1039" y="404" width="26" height="59.25" fill="url(#g81)"/>
<rect x="1072.25" y="404" width="94.75" height="59.25" fill="url(#g82)"/>
<rect x="1174.25" y="404" width="19.75" height="59.25" fill="url(#g83)"/>
<rect x="1201.25" y="404" width="46" height="59.25" fill="url(#g84)"/>
<rect x="1254" y="404" width="26.25" height="59.25" fill="url(#g85)"/>
<rect x="1288" y="404" width="13.75" height="59.25" fill="#c0c4ca"/>
<rect x="1309" y="404" width="63" height="59.25" fill="url(#g86)"/>
<rect x="1379.75" y="404" width="7.75" height="59.25" fill="#cbc9c9"/>
<rect x="1394.75" y="404" width="26.25" height="59.25" fill="url(#g87)"/>
<rect x="1428" y="404" width="42.75" height="59.25" fill="url(#g88)"/>
<rect x="1478" y="404" width="39.75" height="59.25" fill="url(#g89)"/>
<rect x="1525" y="404" width="63.25" height="59.25" fill="url(#g90)"/>
<rect x="1595.5" y="404" width="42.25" height="59.25" fill="url(#g91)"/>
<rect x="1645" y="404" width="30.5" height="59.25" fill="url(#g92)"/>
<rect x="1682.75" y="404" width="43.25" height="59.25" fill="url(#g93)"/>
<rect x="1733.25" y="404" width="23.75" height="59.25" fill="url(#g94)"/>
<rect x="1764.75" y="404" width="60.25" height="59.25" fill="url(#g95)"/>
</g>
<path d="M1166 469.5h1v73.25h-1z" fill="#5496c6"/>
<path d="M605 469.5h1v73.25h-1z" fill="#5a9cc6"/>
<path d="M671 469.5h1v73.25h-1z" fill="#609cc6"/>
<path d="M767 469.5h1v73.25h-1zM1047 469.5h1v73.25h-1z" fill="#6ca2c6"/>
<path d="M469 469.5h1v73.25h-1zM1093 469.5h1v73.25h-1zM1356 469.5h1v73.25h-1zM1452 469.5h1v73.25h-1zM1568 469.5h1v73.25h-1z" fill="#78a2c6"/>
<path d="M1529 469.5h1v73.25h-1z" fill="#78a8c6"/>
<path d="M376 469.5h1v73.25h-1zM923 469.5h1v73.25h-1zM1002 469.5h1v73.25h-1zM1104 469.5h1v73.25h-1zM1113 469.5h1v73.25h-1zM1182 469.5h1v73.25h-1zM1503 469.5h1v73.25h-1zM1747 469.5h1v73.25h-1z" fill="#7ea8c6"/>
<path d="M383 469.5h1v73.25h-1zM388 469.5h1v73.25h-1zM665 469.5h1v73.25h-1zM698 469.5h1v73.25h-1zM793 469.5h1v73.25h-1zM1040 469.5h1v73.25h-1zM1147 469.5h1v73.25h-1zM1155 469.5h1v73.25h-1zM1410 469.5h1v73.25h-1zM1498 469.5h1v73.25h-1z" fill="#84a8c6"/>
<path d="M248 469.5h1v73.25h-1zM700 469.5h1v73.25h-1zM762 469.5h1v73.25h-1zM1149 469.5h1v73.25h-1zM1343 469.5h1v73.25h-1zM1709 469.5h1v73.25h-1zM1753 469.5h1v73.25h-1z" fill="#8aa8c6"/>
<path d="M115 469.5h1v73.25h-1zM304 469.5h1v73.25h-1zM836 469.5h1v73.25h-1zM1241 469.5h1v73.25h-1z" fill="#8aaec6"/>
<path d="M64 469.5h1v73.25h-1zM135 469.5h1v73.25h-1zM191 469.5h1v73.25h-1zM216 469.5h1v73.25h-1zM313 469.5h1v73.25h-1zM334 469.5h1v73.25h-1zM372 469.5h1v73.25h-1zM463 469.5h1v73.25h-1zM560 469.5h1v73.25h-1zM604 469.5h1v73.25h-1zM722 469.5h1v73.25h-1zM754 469.5h1v73.25h-1zM794 469.5h1v73.25h-1zM882 469.5h1v73.25h-1zM908 469.5h1v73.25h-1zM1046 469.5h1v73.25h-1zM1073 469.5h1v73.25h-1zM1081 469.5h1v73.25h-1zM1157 469.5h1v73.25h-1zM1332 469.5h1v73.25h-1zM1408 469.5h1v73.25h-1zM1420 469.5h1v73.25h-1zM1446 469.5h1v73.25h-1zM1550 469.5h1v73.25h-1zM1552 469.5h1v73.25h-1zM1576 469.5h1v73.25h-1zM1749 469.5h1v73.25h-1zM1751 469.5h1v73.25h-1zM1764 469.5h1v73.25h-1z" fill="#90aec6"/>
<path d="M54 469.5h1v73.25h-1zM471 469.5h1v73.25h-1zM731 469.5h1v73.25h-1zM740 469.5h1v73.25h-1zM890 469.5h1v73.25h-1zM896 469.5h1v73.25h-1zM905 469.5h1v73.25h-1zM1173 469.5h1v73.25h-1zM1582 469.5h1v73.25h-1zM1711 469.5h1v73.25h-1z" fill="#96aec6"/>
<path d="M199 469.5h1v73.25h-1zM311 469.5h1v73.25h-1zM732 469.5h1v73.25h-1zM944 469.5h1v73.25h-1zM1816 469.5h1v73.25h-1z" fill="#96aecc"/>
<path d="M217 469.5h1v73.25h-1zM328 469.5h1v73.25h-1zM390 469.5h1v73.25h-1zM445 469.5h1v73.25h-1zM1619 469.5h1v73.25h-1zM1649 469.5h1v73.25h-1z" fill="#96b4c6"/>
<path d="M1613 469.5h1v73.25h-1z" fill="#9ca2b4"/>
<path d="M1624 469.5h1v73.25h-1z" fill="#9ca2ba"/>
<path d="M102 469.5h1v73.25h-1zM1468 469.5h1v73.25h-1zM1615 469.5h1v73.25h-1z" fill="#9ca8ba"/>
<path d="M1231 469.5h1v73.25h-1z" fill="#9ca8c0"/>
<path d="M432 469.5h1v73.25h-1z" fill="#9caec0"/>
<path d="M105 469.5h1v73.25h-1zM263 469.5h1v73.25h-1zM325 469.5h1v73.25h-1zM553 469.5h1v73.25h-1zM679 469.5h1v73.25h-1zM689 469.5h1v73.25h-1zM943 469.5h1v73.25h-1zM1497 469.5h1v73.25h-1zM1538 469.5h1v73.25h-1zM1824 469.5h1v73.25h-1z" fill="#9cb4c6"/>
<path d="M466 469.5h1v73.25h-1zM490 469.5h1v73.25h-1zM523 469.5h1v73.25h-1zM550 469.5h1v73.25h-1zM718 469.5h1v73.25h-1zM843 469.5h1v73.25h-1zM881 469.5h1v73.25h-1zM983 469.5h1v73.25h-1zM1001 469.5h1v73.25h-1zM1053 469.5h1v73.25h-1zM1122 469.5h1v73.25h-1zM1346 469.5h1v73.25h-1zM1488 469.5h1v73.25h-1zM1565 469.5h1v73.25h-1zM1655 469.5h1v73.25h-1zM1776 469.5h1v73.25h-1zM1780 469.5h1v73.25h-1zM1788 469.5h1v73.25h-1z" fill="#9cb4cc"/>
<path d="M1671 469.5h1v73.25h-1z" fill="#a26c7e"/>
<path d="M1435 469.5h1v73.25h-1z" fill="#a27884"/>
<path d="M62 469.5h1v73.25h-1zM468 469.5h1v73.25h-1zM534 469.5h1v73.25h-1z" fill="#a27e8a"/>
<path d="M1647 469.5h1v73.25h-1z" fill="#a28490"/>
<path d="M1225 469.5h1v73.25h-1z" fill="#a28496"/>
<path d="M828 469.5h1v73.25h-1z" fill="#a28a96"/>
<path d="M561 469.5h1v73.25h-1z" fill="#a2909c"/>
<path d="M93 469.5h1v73.25h-1zM586 469.5h1v73.25h-1z" fill="#a296a8"/>
<path d="M1015 469.5h1v73.25h-1z" fill="#a2a2b4"/>
<path d="M1632 469.5h1v73.25h-1z" fill="#a2a8ba"/>
<path d="M1062 469.5h1v73.25h-1z" fill="#a2aec0"/>
<path d="M266 469.5h1v73.25h-1zM897 469.5h1v73.25h-1zM980 469.5h1v73.25h-1z" fill="#a2b4c6"/>
<path d="M65 469.5h1v73.25h-1zM103 469.5h1v73.25h-1zM189 469.5h1v73.25h-1zM267 469.5h1v73.25h-1zM375 469.5h1v73.25h-1zM380 469.5h1v73.25h-1zM707 469.5h1v73.25h-1zM766 469.5h1v73.25h-1zM785 469.5h1v73.25h-1zM790 469.5h1v73.25h-1zM806 469.5h1v73.25h-1zM814 469.5h1v73.25h-1zM829 469.5h1v73.25h-1zM832 469.5h1v73.25h-1zM837 469.5h1v73.25h-1zM974 469.5h1v73.25h-1zM1060 469.5h1v73.25h-1zM1137 469.5h1v73.25h-1zM1263 469.5h1v73.25h-1zM1265 469.5h1v73.25h-1zM1380 469.5h1v73.25h-1zM1412 469.5h1v73.25h-1zM1419 469.5h1v73.25h-1zM1470 469.5h1v73.25h-1zM1480 469.5h1v73.25h-1zM1494 469.5h1v73.25h-1zM1530 469.5h1v73.25h-1zM1623 469.5h1v73.25h-1zM1765 469.5h1v73.25h-1zM1791 469.5h1v73.25h-1z" fill="#a2b4cc"/>
<path d="M461 469.5h1v73.25h-1z" fill="#a86678"/>
<path d="M1217 469.5h1v73.25h-1z" fill="#a8727e"/>
<path d="M1459 469.5h1v73.25h-1z" fill="#a87884"/>
<path d="M871 469.5h1v73.25h-1z" fill="#a88490"/>
<path d="M251 469.5h1v73.25h-1zM1244 469.5h1v73.25h-1z" fill="#a88a96"/>
<path d="M252 469.5h1v73.25h-1z" fill="#a8909c"/>
<path d="M621 469.5h1v73.25h-1zM735 469.5h1v73.25h-1zM1027 469.5h1v73.25h-1z" fill="#a896a2"/>
<path d="M447 469.5h1v73.25h-1zM570 469.5h1v73.25h-1zM1586 469.5h1v73.25h-1z" fill="#a8a8b4"/>
<path d="M892 469.5h1v73.25h-1z" fill="#a8a8ba"/>
<path d="M811 469.5h1v73.25h-1z" fill="#a8b4c0"/>
<path d="M425 469.5h1v73.25h-1zM902 469.5h1v73.25h-1zM1128 469.5h1v73.25h-1zM1154 469.5h1v73.25h-1z" fill="#a8b4cc"/>
<path d="M225 469.5h1v73.25h-1zM308 469.5h1v73.25h-1zM333 469.5h1v73.25h-1zM344 469.5h1v73.25h-1zM398 469.5h1v73.25h-1zM511 469.5h1v73.25h-1zM515 469.5h1v73.25h-1zM677 469.5h1v73.25h-1zM727 469.5h1v73.25h-1zM853 469.5h1v73.25h-1zM893 469.5h1v73.25h-1zM918 469.5h1v73.25h-1zM1101 469.5h1v73.25h-1zM1181 469.5h1v73.25h-1zM1209 469.5h1v73.25h-1zM1318 469.5h1v73.25h-1zM1524 469.5h1v73.25h-1zM1750 469.5h1v73.25h-1zM1815 469.5h1v73.25h-1z" fill="#a8bacc"/>
<path d="M559 469.5h1v73.25h-1z" fill="#ae6678"/>
<path d="M924 469.5h1v73.25h-1zM1236 469.5h1v73.25h-1z" fill="#ae8a90"/>
<path d="M1490 469.5h1v73.25h-1z" fill="#ae8a96"/>
<path d="M1781 469.5h1v73.25h-1z" fill="#ae909c"/>
<path d="M1578 469.5h1v73.25h-1z" fill="#ae969c"/>
<path d="M812 469.5h1v73.25h-1z" fill="#ae9ca2"/>
<path d="M56 469.5h1v73.25h-1zM692 469.5h1v73.25h-1zM1222 469.5h1v73.25h-1z" fill="#aeaeba"/>
<path d="M428 469.5h1v73.25h-1zM1079 469.5h1v73.25h-1z" fill="#aeaec0"/>
<path d="M116 469.5h1v73.25h-1zM289 469.5h1v73.25h-1zM322 469.5h1v73.25h-1zM356 469.5h1v73.25h-1zM429 469.5h1v73.25h-1zM452 469.5h1v73.25h-1zM495 469.5h1v73.25h-1zM638 469.5h1v73.25h-1zM1207 469.5h1v73.25h-1zM1233 469.5h1v73.25h-1zM1385 469.5h1v73.25h-1zM1453 469.5h1v73.25h-1zM1700 469.5h1v73.25h-1z" fill="#aeb4c0"/>
<path d="M131 469.5h1v73.25h-1z" fill="#aebac6"/>
<path d="M76 469.5h1v73.25h-1zM162 469.5h1v73.25h-1zM214 469.5h1v73.25h-1zM238 469.5h1v73.25h-1zM310 469.5h1v73.25h-1zM358 469.5h1v73.25h-1zM488 469.5h1v73.25h-1zM516 469.5h1v73.25h-1zM573 469.5h1v73.25h-1zM593 469.5h1v73.25h-1zM742 469.5h1v73.25h-1zM1089 469.5h1v73.25h-1zM1095 469.5h1v73.25h-1zM1150 469.5h1v73.25h-1zM1183 469.5h1v73.25h-1zM1238 469.5h1v73.25h-1zM1287 469.5h1v73.25h-1zM1383 469.5h1v73.25h-1zM1402 469.5h1v73.25h-1zM1456 469.5h1v73.25h-1zM1526 469.5h1v73.25h-1zM1661 469.5h1v73.25h-1zM1668 469.5h1v73.25h-1zM1690 469.5h1v73.25h-1zM1704 469.5h1v73.25h-1zM1720 469.5h1v73.25h-1z" fill="#aebacc"/>
<path d="M601 469.5h1v73.25h-1zM903 469.5h1v73.25h-1zM1056 469.5h1v73.25h-1zM1224 469.5h1v73.25h-1zM1514 469.5h1v73.25h-1zM1555 469.5h1v73.25h-1z" fill="#b46c78"/>
<path d="M491 469.5h1v73.25h-1z" fill="#b47278"/>
<path d="M100 469.5h1v73.25h-1z" fill="#b4727e"/>
<path d="M180 469.5h1v73.25h-1z" fill="#b48484"/>
<path d="M699 469.5h1v73.25h-1z" fill="#b4848a"/>
<path d="M641 469.5h1v73.25h-1z" fill="#b48a90"/>
<path d="M860 469.5h1v73.25h-1z" fill="#b48a96"/>
<path d="M1105 469.5h1v73.25h-1zM1324 469.5h1v73.25h-1zM1705 469.5h1v73.25h-1z" fill="#b49096"/>
<path d="M855 469.5h1v73.25h-1zM956 469.5h1v73.25h-1z" fill="#b4909c"/>
<path d="M188 469.5h1v73.25h-1zM338 469.5h1v73.25h-1z" fill="#b4969c"/>
<path d="M496 469.5h1v73.25h-1z" fill="#b49c9c"/>
<path d="M163 469.5h1v73.25h-1zM710 469.5h1v73.25h-1zM928 469.5h1v73.25h-1z" fill="#b49ca2"/>
<path d="M71 469.5h1v73.25h-1zM242 469.5h1v73.25h-1zM657 469.5h1v73.25h-1z" fill="#b49ca8"/>
<path d="M228 469.5h1v73.25h-1zM1444 469.5h1v73.25h-1zM1669 469.5h1v73.25h-1zM1808 469.5h1v73.25h-1z" fill="#b4a2a8"/>
<path d="M1220 469.5h1v73.25h-1z" fill="#b4a2ae"/>
<path d="M78 469.5h1v73.25h-1zM312 469.5h1v73.25h-1zM486 469.5h1v73.25h-1zM976 469.5h1v73.25h-1zM1243 469.5h1v73.25h-1zM1725 469.5h1v73.25h-1z" fill="#b4a8ae"/>
<path d="M786 469.5h1v73.25h-1zM1065 469.5h1v73.25h-1zM1118 469.5h1v73.25h-1zM1290 469.5h1v73.25h-1zM1379 469.5h1v73.25h-1zM1650 469.5h1v73.25h-1z" fill="#b4a8b4"/>
<path d="M1260 469.5h1v73.25h-1zM1492 469.5h1v73.25h-1zM1609 469.5h1v73.25h-1z" fill="#b4aeb4"/>
<path d="M80 469.5h1v73.25h-1zM770 469.5h1v73.25h-1zM967 469.5h1v73.25h-1zM1223 469.5h1v73.25h-1zM1447 469.5h1v73.25h-1z" fill="#b4aeba"/>
<path d="M1350 469.5h1v73.25h-1zM1558 469.5h1v73.25h-1z" fill="#b4b4ba"/>
<path d="M499 469.5h1v73.25h-1zM1204 469.5h1v73.25h-1z" fill="#b4b4c0"/>
<path d="M343 469.5h1v73.25h-1zM1411 469.5h1v73.25h-1zM1792 469.5h1v73.25h-1z" fill="#b4bac6"/>
<path d="M79 469.5h1v73.25h-1zM315 469.5h1v73.25h-1zM1193 469.5h1v73.25h-1zM1269 469.5h1v73.25h-1zM1653 469.5h1v73.25h-1z" fill="#b4bacc"/>
<path d="M185 469.5h1v73.25h-1zM286 469.5h1v73.25h-1zM295 469.5h1v73.25h-1zM302 469.5h1v73.25h-1zM648 469.5h1v73.25h-1zM1020 469.5h1v73.25h-1zM1059 469.5h1v73.25h-1zM1092 469.5h1v73.25h-1zM1099 469.5h1v73.25h-1zM1143 469.5h1v73.25h-1zM1400 469.5h1v73.25h-1zM1403 469.5h1v73.25h-1zM1457 469.5h1v73.25h-1zM1478 469.5h1v73.25h-1zM1493 469.5h1v73.25h-1zM1557 469.5h1v73.25h-1z" fill="#b4c0cc"/>
<path d="M1579 469.5h1v73.25h-1z" fill="#ba6c78"/>
<path d="M780 469.5h1v73.25h-1zM830 469.5h1v73.25h-1zM895 469.5h1v73.25h-1zM1820 469.5h1v73.25h-1z" fill="#ba787e"/>
<path d="M81 469.5h1v73.25h-1zM941 469.5h1v73.25h-1zM1109 469.5h1v73.25h-1zM1117 469.5h1v73.25h-1zM1369 469.5h1v73.25h-1z" fill="#ba7e84"/>
<path d="M371 469.5h1v73.25h-1zM789 469.5h1v73.25h-1zM1688 469.5h1v73.25h-1zM1778 469.5h1v73.25h-1z" fill="#ba8484"/>
<path d="M184 469.5h1v73.25h-1zM646 469.5h1v73.25h-1zM729 469.5h1v73.25h-1zM874 469.5h1v73.25h-1z" fill="#ba848a"/>
<path d="M743 469.5h1v73.25h-1z" fill="#ba8a8a"/>
<path d="M246 469.5h1v73.25h-1zM1612 469.5h1v73.25h-1z" fill="#ba8a90"/>
<path d="M539 469.5h1v73.25h-1z" fill="#ba9090"/>
<path d="M407 469.5h1v73.25h-1zM712 469.5h1v73.25h-1zM717 469.5h1v73.25h-1zM1044 469.5h1v73.25h-1zM1367 469.5h1v73.25h-1zM1823 469.5h1v73.25h-1z" fill="#ba9096"/>
<path d="M190 469.5h1v73.25h-1zM636 469.5h1v73.25h-1zM741 469.5h1v73.25h-1zM1078 469.5h1v73.25h-1zM1246 469.5h1v73.25h-1zM1691 469.5h1v73.25h-1z" fill="#ba969c"/>
<path d="M502 469.5h1v73.25h-1z" fill="#ba9c9c"/>
<path d="M602 469.5h1v73.25h-1zM810 469.5h1v73.25h-1zM963 469.5h1v73.25h-1zM1208 469.5h1v73.25h-1zM1292 469.5h1v73.25h-1zM1308 469.5h1v73.25h-1zM1317 469.5h1v73.25h-1z" fill="#ba9ca2"/>
<path d="M598 469.5h1v73.25h-1zM987 469.5h1v73.25h-1zM1048 469.5h1v73.25h-1zM1206 469.5h1v73.25h-1zM1372 469.5h1v73.25h-1zM1694 469.5h1v73.25h-1zM1715 469.5h1v73.25h-1z" fill="#baa2a8"/>
<path d="M114 469.5h1v73.25h-1zM595 469.5h1v73.25h-1zM844 469.5h1v73.25h-1zM1103 469.5h1v73.25h-1zM1239 469.5h1v73.25h-1zM1309 469.5h1v73.25h-1zM1441 469.5h1v73.25h-1zM1544 469.5h1v73.25h-1zM1597 469.5h1v73.25h-1z" fill="#baa8ae"/>
<path d="M554 469.5h1v73.25h-1z" fill="#baa8b4"/>
<path d="M182 469.5h1v73.25h-1zM413 469.5h1v73.25h-1zM661 469.5h1v73.25h-1zM816 469.5h1v73.25h-1zM992 469.5h1v73.25h-1zM1594 469.5h1v73.25h-1z" fill="#baaeb4"/>
<path d="M1009 469.5h1v73.25h-1zM1818 469.5h1v73.25h-1z" fill="#baaeba"/>
<path d="M434 469.5h1v73.25h-1zM752 469.5h1v73.25h-1zM1051 469.5h1v73.25h-1zM1115 469.5h1v73.25h-1zM1261 469.5h1v73.25h-1zM1431 469.5h1v73.25h-1z" fill="#bab4ba"/>
<path d="M287 469.5h1v73.25h-1zM676 469.5h1v73.25h-1zM904 469.5h1v73.25h-1zM1152 469.5h1v73.25h-1zM1342 469.5h1v73.25h-1zM1363 469.5h1v73.25h-1zM1636 469.5h1v73.25h-1z" fill="#bab4c0"/>
<path d="M330 469.5h1v73.25h-1zM626 469.5h1v73.25h-1z" fill="#babac0"/>
<path d="M244 469.5h1v73.25h-1zM660 469.5h1v73.25h-1zM878 469.5h1v73.25h-1zM1351 469.5h1v73.25h-1z" fill="#babac6"/>
<path d="M249 469.5h1v73.25h-1zM285 469.5h1v73.25h-1zM978 469.5h1v73.25h-1z" fill="#bac0c6"/>
<path d="M60 469.5h1v73.25h-1zM141 469.5h1v73.25h-1zM262 469.5h1v73.25h-1zM464 469.5h1v73.25h-1zM695 469.5h1v73.25h-1zM763 469.5h1v73.25h-1zM880 469.5h1v73.25h-1zM926 469.5h1v73.25h-1zM1072 469.5h1v73.25h-1zM1219 469.5h1v73.25h-1zM1384 469.5h1v73.25h-1zM1387 469.5h1v73.25h-1zM1417 469.5h1v73.25h-1zM1489 469.5h1v73.25h-1zM1500 469.5h1v73.25h-1zM1657 469.5h1v73.25h-1zM1724 469.5h1v73.25h-1z" fill="#bac0cc"/>
<path d="M1708 469.5h1v73.25h-1z" fill="#c06c78"/>
<path d="M493 469.5h1v73.25h-1zM751 469.5h1v73.25h-1zM1280 469.5h1v73.25h-1zM1596 469.5h1v73.25h-1zM1745 469.5h1v73.25h-1z" fill="#c07278"/>
<path d="M55 469.5h1v73.25h-1zM277 469.5h1v73.25h-1zM749 469.5h1v73.25h-1zM985 469.5h1v73.25h-1zM990 469.5h1v73.25h-1zM1064 469.5h1v73.25h-1zM1151 469.5h1v73.25h-1z" fill="#c07878"/>
<path d="M213 469.5h1v73.25h-1zM545 469.5h1v73.25h-1zM567 469.5h1v73.25h-1zM761 469.5h1v73.25h-1zM1187 469.5h1v73.25h-1z" fill="#c07e7e"/>
<path d="M726 469.5h1v73.25h-1z" fill="#c07e84"/>
<path d="M533 469.5h1v73.25h-1zM1082 469.5h1v73.25h-1zM1467 469.5h1v73.25h-1z" fill="#c08484"/>
<path d="M623 469.5h1v73.25h-1zM1210 469.5h1v73.25h-1z" fill="#c0848a"/>
<path d="M167 469.5h1v73.25h-1zM254 469.5h1v73.25h-1zM273 469.5h1v73.25h-1zM517 469.5h1v73.25h-1zM1041 469.5h1v73.25h-1z" fill="#c08a8a"/>
<path d="M1186 469.5h1v73.25h-1zM1518 469.5h1v73.25h-1zM1685 469.5h1v73.25h-1z" fill="#c08a90"/>
<path d="M367 469.5h1v73.25h-1zM1545 469.5h1v73.25h-1z" fill="#c09090"/>
<path d="M681 469.5h1v73.25h-1zM889 469.5h1v73.25h-1zM1134 469.5h1v73.25h-1zM1141 469.5h1v73.25h-1zM1189 469.5h1v73.25h-1zM1359 469.5h1v73.25h-1zM1599 469.5h1v73.25h-1z" fill="#c09096"/>
<path d="M1144 469.5h1v73.25h-1zM1302 469.5h1v73.25h-1z" fill="#c09696"/>
<path d="M907 469.5h1v73.25h-1z" fill="#c0969c"/>
<path d="M314 469.5h1v73.25h-1zM876 469.5h1v73.25h-1zM1276 469.5h1v73.25h-1zM1323 469.5h1v73.25h-1zM1465 469.5h1v73.25h-1zM1541 469.5h1v73.25h-1z" fill="#c09c9c"/>
<path d="M303 469.5h1v73.25h-1zM691 469.5h1v73.25h-1zM1094 469.5h1v73.25h-1zM1203 469.5h1v73.25h-1zM1311 469.5h1v73.25h-1zM1366 469.5h1v73.25h-1zM1785 469.5h1v73.25h-1z" fill="#c09ca2"/>
<path d="M887 469.5h1v73.25h-1zM1440 469.5h1v73.25h-1z" fill="#c0a2a2"/>
<path d="M101 469.5h1v73.25h-1zM1076 469.5h1v73.25h-1zM1237 469.5h1v73.25h-1zM1428 469.5h1v73.25h-1z" fill="#c0a2a8"/>
<path d="M282 469.5h1v73.25h-1zM522 469.5h1v73.25h-1zM746 469.5h1v73.25h-1zM894 469.5h1v73.25h-1zM929 469.5h1v73.25h-1zM1156 469.5h1v73.25h-1zM1427 469.5h1v73.25h-1zM1477 469.5h1v73.25h-1zM1622 469.5h1v73.25h-1zM1672 469.5h1v73.25h-1zM1805 469.5h1v73.25h-1z" fill="#c0a8a8"/>
<path d="M911 469.5h1v73.25h-1zM1123 469.5h1v73.25h-1zM1534 469.5h1v73.25h-1z" fill="#c0a8ae"/>
<path d="M142 469.5h1v73.25h-1zM498 469.5h1v73.25h-1z" fill="#c0aeae"/>
<path d="M960 469.5h1v73.25h-1zM1293 469.5h1v73.25h-1z" fill="#c0aeb4"/>
<path d="M57 469.5h1v73.25h-1zM130 469.5h1v73.25h-1zM382 469.5h1v73.25h-1zM813 469.5h1v73.25h-1zM922 469.5h1v73.25h-1z" fill="#c0b4b4"/>
<path d="M98 469.5h1v73.25h-1zM168 469.5h1v73.25h-1zM364 469.5h1v73.25h-1zM416 469.5h1v73.25h-1zM576 469.5h1v73.25h-1zM1162 469.5h1v73.25h-1zM1316 469.5h1v73.25h-1zM1449 469.5h1v73.25h-1zM1502 469.5h1v73.25h-1zM1539 469.5h1v73.25h-1zM1575 469.5h1v73.25h-1zM1719 469.5h1v73.25h-1z" fill="#c0b4ba"/>
<path d="M406 469.5h1v73.25h-1zM520 469.5h1v73.25h-1zM1395 469.5h1v73.25h-1zM1556 469.5h1v73.25h-1zM1673 469.5h1v73.25h-1zM1695 469.5h1v73.25h-1zM1748 469.5h1v73.25h-1z" fill="#c0bac0"/>
<path d="M394 469.5h1v73.25h-1zM474 469.5h1v73.25h-1zM527 469.5h1v73.25h-1zM563 469.5h1v73.25h-1zM719 469.5h1v73.25h-1zM1331 469.5h1v73.25h-1zM1404 469.5h1v73.25h-1zM1683 469.5h1v73.25h-1zM1687 469.5h1v73.25h-1z" fill="#c0c0c6"/>
<path d="M439 469.5h1v73.25h-1zM971 469.5h1v73.25h-1zM1266 469.5h1v73.25h-1zM1458 469.5h1v73.25h-1z" fill="#c0c0cc"/>
<path d="M156 469.5h1v73.25h-1zM451 469.5h1v73.25h-1zM1159 469.5h1v73.25h-1zM1296 469.5h1v73.25h-1zM1648 469.5h1v73.25h-1z" fill="#c0c6cc"/>
<path d="M838 469.5h1v73.25h-1z" fill="#c66c78"/>
<path d="M194 469.5h1v73.25h-1zM223 469.5h1v73.25h-1zM257 469.5h1v73.25h-1zM901 469.5h1v73.25h-1zM1142 469.5h1v73.25h-1z" fill="#c67878"/>
<path d="M221 469.5h1v73.25h-1zM519 469.5h1v73.25h-1zM1102 469.5h1v73.25h-1z" fill="#c67e7e"/>
<path d="M831 469.5h1v73.25h-1zM1083 469.5h1v73.25h-1zM1139 469.5h1v73.25h-1z" fill="#c68484"/>
<path d="M77 469.5h1v73.25h-1zM171 469.5h1v73.25h-1zM666 469.5h1v73.25h-1zM747 469.5h1v73.25h-1zM938 469.5h1v73.25h-1zM1080 469.5h1v73.25h-1zM1190 469.5h1v73.25h-1zM1253 469.5h1v73.25h-1zM1273 469.5h1v73.25h-1zM1353 469.5h1v73.25h-1z" fill="#c68a8a"/>
<path d="M73 469.5h1v73.25h-1zM281 469.5h1v73.25h-1zM1017 469.5h1v73.25h-1zM1201 469.5h1v73.25h-1z" fill="#c69090"/>
<path d="M74 469.5h1v73.25h-1zM197 469.5h1v73.25h-1zM309 469.5h1v73.25h-1zM392 469.5h1v73.25h-1zM1119 469.5h1v73.25h-1zM1214 469.5h1v73.25h-1zM1445 469.5h1v73.25h-1zM1542 469.5h1v73.25h-1zM1553 469.5h1v73.25h-1z" fill="#c69696"/>
<path d="M201 469.5h1v73.25h-1zM290 469.5h1v73.25h-1zM433 469.5h1v73.25h-1zM1314 469.5h1v73.25h-1z" fill="#c69c9c"/>
<path d="M505 469.5h1v73.25h-1zM1054 469.5h1v73.25h-1z" fill="#c69ca2"/>
<path d="M336 469.5h1v73.25h-1z" fill="#c6a2a2"/>
<path d="M128 469.5h1v73.25h-1zM514 469.5h1v73.25h-1zM1479 469.5h1v73.25h-1zM1584 469.5h1v73.25h-1z" fill="#c6a2a8"/>
<path d="M70 469.5h1v73.25h-1zM106 469.5h1v73.25h-1zM218 469.5h1v73.25h-1zM1163 469.5h1v73.25h-1zM1277 469.5h1v73.25h-1zM1807 469.5h1v73.25h-1z" fill="#c6a8a8"/>
<path d="M1513 469.5h1v73.25h-1zM1652 469.5h1v73.25h-1z" fill="#c6a8ae"/>
<path d="M1271 469.5h1v73.25h-1z" fill="#c6aeae"/>
<path d="M465 469.5h1v73.25h-1zM627 469.5h1v73.25h-1z" fill="#c6b4b4"/>
<path d="M243 469.5h1v73.25h-1zM674 469.5h1v73.25h-1zM764 469.5h1v73.25h-1z" fill="#c6b4ba"/>
<path d="M237 469.5h1v73.25h-1z" fill="#c6baba"/>
<path d="M870 469.5h1v73.25h-1zM1721 469.5h1v73.25h-1z" fill="#c6bac0"/>
<path d="M241 469.5h1v73.25h-1zM278 469.5h1v73.25h-1zM487 469.5h1v73.25h-1zM1471 469.5h1v73.25h-1z" fill="#c6c0c0"/>
<path d="M409 469.5h1v73.25h-1zM557 469.5h1v73.25h-1zM968 469.5h1v73.25h-1z" fill="#c6c0c6"/>
<path d="M355 469.5h1v73.25h-1z" fill="#c6c6c6"/>
<path d="M145 469.5h1v73.25h-1zM346 469.5h1v73.25h-1zM552 469.5h1v73.25h-1zM862 469.5h1v73.25h-1zM877 469.5h1v73.25h-1zM1031 469.5h1v73.25h-1zM1437 469.5h1v73.25h-1zM1618 469.5h1v73.25h-1zM1620 469.5h1v73.25h-1zM1770 469.5h1v73.25h-1zM1825 469.5h1v73.25h-1z" fill="#c6c6cc"/>
<path d="M935 469.5h1v73.25h-1zM1697 469.5h1v73.25h-1zM1775 469.5h1v73.25h-1z" fill="#cc7878"/>
<path d="M1800 469.5h1v73.25h-1z" fill="#cc7e78"/>
<path d="M597 469.5h1v73.25h-1zM809 469.5h1v73.25h-1zM995 469.5h1v73.25h-1zM1499 469.5h1v73.25h-1z" fill="#cc7e7e"/>
<path d="M280 469.5h1v73.25h-1zM384 469.5h1v73.25h-1zM408 469.5h1v73.25h-1zM622 469.5h1v73.25h-1zM644 469.5h1v73.25h-1zM1386 469.5h1v73.25h-1zM1462 469.5h1v73.25h-1zM1737 469.5h1v73.25h-1z" fill="#cc8484"/>
<path d="M118 469.5h1v73.25h-1zM921 469.5h1v73.25h-1z" fill="#cc8a84"/>
<path d="M834 469.5h1v73.25h-1zM1211 469.5h1v73.25h-1zM1485 469.5h1v73.25h-1z" fill="#cc8a8a"/>
<path d="M111 469.5h1v73.25h-1zM431 469.5h1v73.25h-1zM696 469.5h1v73.25h-1zM1138 469.5h1v73.25h-1zM1335 469.5h1v73.25h-1zM1756 469.5h1v73.25h-1zM1768 469.5h1v73.25h-1zM1795 469.5h1v73.25h-1z" fill="#cc908a"/>
<path d="M337 469.5h1v73.25h-1zM1025 469.5h1v73.25h-1zM1699 469.5h1v73.25h-1zM1806 469.5h1v73.25h-1z" fill="#cc9090"/>
<path d="M582 469.5h1v73.25h-1zM979 469.5h1v73.25h-1zM1333 469.5h1v73.25h-1zM1771 469.5h1v73.25h-1z" fill="#cc9690"/>
<path d="M226 469.5h1v73.25h-1zM353 469.5h1v73.25h-1zM966 469.5h1v73.25h-1zM1563 469.5h1v73.25h-1zM1630 469.5h1v73.25h-1z" fill="#cc9696"/>
<path d="M144 469.5h1v73.25h-1zM588 469.5h1v73.25h-1zM854 469.5h1v73.25h-1zM1230 469.5h1v73.25h-1zM1337 469.5h1v73.25h-1zM1682 469.5h1v73.25h-1z" fill="#cc9c96"/>
<path d="M173 469.5h1v73.25h-1zM301 469.5h1v73.25h-1zM640 469.5h1v73.25h-1zM798 469.5h1v73.25h-1zM981 469.5h1v73.25h-1zM1140 469.5h1v73.25h-1zM1741 469.5h1v73.25h-1zM1802 469.5h1v73.25h-1z" fill="#cc9c9c"/>
<path d="M1096 469.5h1v73.25h-1zM1232 469.5h1v73.25h-1z" fill="#cca29c"/>
<path d="M169 469.5h1v73.25h-1zM625 469.5h1v73.25h-1zM1006 469.5h1v73.25h-1zM1148 469.5h1v73.25h-1z" fill="#cca2a2"/>
<path d="M161 469.5h1v73.25h-1z" fill="#cca8a2"/>
<path d="M540 469.5h1v73.25h-1zM592 469.5h1v73.25h-1zM1004 469.5h1v73.25h-1zM1617 469.5h1v73.25h-1z" fill="#cca8a8"/>
<path d="M1429 469.5h1v73.25h-1zM1595 469.5h1v73.25h-1z" fill="#ccaea8"/>
<path d="M137 469.5h1v73.25h-1zM675 469.5h1v73.25h-1z" fill="#ccaeae"/>
<path d="M1329 469.5h1v73.25h-1zM1501 469.5h1v73.25h-1z" fill="#ccb4ae"/>
<path d="M781 469.5h1v73.25h-1z" fill="#ccb4b4"/>
<path d="M574 469.5h1v73.25h-1zM669 469.5h1v73.25h-1zM1125 469.5h1v73.25h-1zM1258 469.5h1v73.25h-1z" fill="#ccbab4"/>
<path d="M886 469.5h1v73.25h-1zM984 469.5h1v73.25h-1zM1527 469.5h1v73.25h-1zM1733 469.5h1v73.25h-1z" fill="#ccbaba"/>
<path d="M1701 469.5h1v73.25h-1z" fill="#ccc0ba"/>
<path d="M134 469.5h1v73.25h-1zM396 469.5h1v73.25h-1zM1127 469.5h1v73.25h-1zM1348 469.5h1v73.25h-1zM1736 469.5h1v73.25h-1z" fill="#ccc0c0"/>
<path d="M195 469.5h1v73.25h-1zM307 469.5h1v73.25h-1zM395 469.5h1v73.25h-1zM475 469.5h1v73.25h-1zM1242 469.5h1v73.25h-1zM1297 469.5h1v73.25h-1zM1300 469.5h1v73.25h-1zM1454 469.5h1v73.25h-1zM1611 469.5h1v73.25h-1zM1722 469.5h1v73.25h-1z" fill="#ccc6c6"/>
<path d="M321 469.5h1v73.25h-1zM436 469.5h1v73.25h-1zM637 469.5h1v73.25h-1zM795 469.5h1v73.25h-1zM856 469.5h1v73.25h-1zM1124 469.5h1v73.25h-1zM1205 469.5h1v73.25h-1zM1327 469.5h1v73.25h-1zM1358 469.5h1v73.25h-1zM1734 469.5h1v73.25h-1z" fill="#cccccc"/>
<path d="M59 469.5h1v73.25h-1zM112 469.5h1v73.25h-1zM589 469.5h1v73.25h-1z" fill="#d27878"/>
<path d="M1442 469.5h1v73.25h-1zM1634 469.5h1v73.25h-1z" fill="#d27e78"/>
<path d="M1024 469.5h1v73.25h-1zM1525 469.5h1v73.25h-1z" fill="#d2847e"/>
<path d="M296 469.5h1v73.25h-1zM688 469.5h1v73.25h-1zM841 469.5h1v73.25h-1z" fill="#d28a84"/>
<path d="M133 469.5h1v73.25h-1zM1245 469.5h1v73.25h-1z" fill="#d2908a"/>
<path d="M1443 469.5h1v73.25h-1zM1684 469.5h1v73.25h-1z" fill="#d29090"/>
<path d="M220 469.5h1v73.25h-1zM647 469.5h1v73.25h-1zM783 469.5h1v73.25h-1z" fill="#d29690"/>
<path d="M284 469.5h1v73.25h-1z" fill="#d29c90"/>
<path d="M1506 469.5h1v73.25h-1zM1707 469.5h1v73.25h-1z" fill="#d29c96"/>
<path d="M148 469.5h1v73.25h-1zM453 469.5h1v73.25h-1zM618 469.5h1v73.25h-1zM873 469.5h1v73.25h-1zM969 469.5h1v73.25h-1zM1028 469.5h1v73.25h-1zM1074 469.5h1v73.25h-1zM1174 469.5h1v73.25h-1zM1627 469.5h1v73.25h-1z" fill="#d2a29c"/>
<path d="M1537 469.5h1v73.25h-1z" fill="#d2a8a2"/>
<path d="M152 469.5h1v73.25h-1zM1450 469.5h1v73.25h-1z" fill="#d2a8a8"/>
<path d="M155 469.5h1v73.25h-1zM381 469.5h1v73.25h-1zM537 469.5h1v73.25h-1zM1177 469.5h1v73.25h-1zM1340 469.5h1v73.25h-1zM1564 469.5h1v73.25h-1z" fill="#d2aea8"/>
<path d="M67 469.5h1v73.25h-1z" fill="#d2b4a8"/>
<path d="M1131 469.5h1v73.25h-1z" fill="#d2b4ae"/>
<path d="M151 469.5h1v73.25h-1zM275 469.5h1v73.25h-1zM276 469.5h1v73.25h-1zM359 469.5h1v73.25h-1zM363 469.5h1v73.25h-1zM521 469.5h1v73.25h-1z" fill="#d2bab4"/>
<path d="M342 469.5h1v73.25h-1zM389 469.5h1v73.25h-1zM441 469.5h1v73.25h-1zM482 469.5h1v73.25h-1zM506 469.5h1v73.25h-1zM1019 469.5h1v73.25h-1zM1090 469.5h1v73.25h-1zM1160 469.5h1v73.25h-1zM1274 469.5h1v73.25h-1zM1349 469.5h1v73.25h-1zM1355 469.5h1v73.25h-1zM1787 469.5h1v73.25h-1z" fill="#d2c0ba"/>
<path d="M181 469.5h1v73.25h-1zM437 469.5h1v73.25h-1zM544 469.5h1v73.25h-1zM1026 469.5h1v73.25h-1zM1043 469.5h1v73.25h-1zM1381 469.5h1v73.25h-1zM1637 469.5h1v73.25h-1zM1656 469.5h1v73.25h-1zM1703 469.5h1v73.25h-1z" fill="#d2c0c0"/>
<path d="M193 469.5h1v73.25h-1zM546 469.5h1v73.25h-1zM1262 469.5h1v73.25h-1zM1313 469.5h1v73.25h-1z" fill="#d2c6c0"/>
<path d="M435 469.5h1v73.25h-1zM594 469.5h1v73.25h-1z" fill="#d87e78"/>
<path d="M72 469.5h1v73.25h-1zM590 469.5h1v73.25h-1zM1772 469.5h1v73.25h-1z" fill="#d88478"/>
<path d="M1798 469.5h1v73.25h-1z" fill="#d8847e"/>
<path d="M187 469.5h1v73.25h-1zM768 469.5h1v73.25h-1zM891 469.5h1v73.25h-1zM1455 469.5h1v73.25h-1zM1664 469.5h1v73.25h-1z" fill="#d88a7e"/>
<path d="M357 469.5h1v73.25h-1zM612 469.5h1v73.25h-1z" fill="#d88a84"/>
<path d="M120 469.5h1v73.25h-1zM787 469.5h1v73.25h-1zM1108 469.5h1v73.25h-1zM1165 469.5h1v73.25h-1zM1322 469.5h1v73.25h-1zM1338 469.5h1v73.25h-1zM1469 469.5h1v73.25h-1z" fill="#d89084"/>
<path d="M377 469.5h1v73.25h-1zM489 469.5h1v73.25h-1zM759 469.5h1v73.25h-1zM807 469.5h1v73.25h-1zM1087 469.5h1v73.25h-1zM1345 469.5h1v73.25h-1zM1769 469.5h1v73.25h-1z" fill="#d8908a"/>
<path d="M564 469.5h1v73.25h-1zM643 469.5h1v73.25h-1z" fill="#d8968a"/>
<path d="M1509 469.5h1v73.25h-1z" fill="#d89690"/>
<path d="M327 469.5h1v73.25h-1zM443 469.5h1v73.25h-1zM548 469.5h1v73.25h-1zM680 469.5h1v73.25h-1zM1167 469.5h1v73.25h-1zM1191 469.5h1v73.25h-1zM1240 469.5h1v73.25h-1zM1505 469.5h1v73.25h-1zM1757 469.5h1v73.25h-1zM1817 469.5h1v73.25h-1z" fill="#d89c90"/>
<path d="M579 469.5h1v73.25h-1z" fill="#d89c96"/>
<path d="M250 469.5h1v73.25h-1zM619 469.5h1v73.25h-1zM693 469.5h1v73.25h-1zM753 469.5h1v73.25h-1zM1146 469.5h1v73.25h-1z" fill="#d8a296"/>
<path d="M63 469.5h1v73.25h-1zM215 469.5h1v73.25h-1zM658 469.5h1v73.25h-1zM1577 469.5h1v73.25h-1zM1717 469.5h1v73.25h-1zM1767 469.5h1v73.25h-1zM1784 469.5h1v73.25h-1z" fill="#d8a29c"/>
<path d="M269 469.5h1v73.25h-1zM542 469.5h1v73.25h-1zM1213 469.5h1v73.25h-1z" fill="#d8a89c"/>
<path d="M95 469.5h1v73.25h-1zM172 469.5h1v73.25h-1zM247 469.5h1v73.25h-1zM412 469.5h1v73.25h-1zM485 469.5h1v73.25h-1zM600 469.5h1v73.25h-1zM629 469.5h1v73.25h-1zM708 469.5h1v73.25h-1zM725 469.5h1v73.25h-1zM755 469.5h1v73.25h-1zM758 469.5h1v73.25h-1zM869 469.5h1v73.25h-1zM954 469.5h1v73.25h-1zM970 469.5h1v73.25h-1zM993 469.5h1v73.25h-1zM1110 469.5h1v73.25h-1zM1188 469.5h1v73.25h-1zM1257 469.5h1v73.25h-1zM1368 469.5h1v73.25h-1zM1533 469.5h1v73.25h-1zM1569 469.5h1v73.25h-1zM1670 469.5h1v73.25h-1zM1710 469.5h1v73.25h-1zM1716 469.5h1v73.25h-1zM1746 469.5h1v73.25h-1zM1783 469.5h1v73.25h-1z" fill="#d8a8a2"/>
<path d="M528 469.5h1v73.25h-1z" fill="#d8aea2"/>
<path d="M147 469.5h1v73.25h-1zM253 469.5h1v73.25h-1zM255 469.5h1v73.25h-1zM272 469.5h1v73.25h-1zM368 469.5h1v73.25h-1zM440 469.5h1v73.25h-1zM562 469.5h1v73.25h-1zM659 469.5h1v73.25h-1zM937 469.5h1v73.25h-1zM1030 469.5h1v73.25h-1zM1126 469.5h1v73.25h-1zM1132 469.5h1v73.25h-1zM1184 469.5h1v73.25h-1zM1255 469.5h1v73.25h-1zM1279 469.5h1v73.25h-1zM1301 469.5h1v73.25h-1zM1344 469.5h1v73.25h-1zM1487 469.5h1v73.25h-1zM1560 469.5h1v73.25h-1zM1696 469.5h1v73.25h-1zM1723 469.5h1v73.25h-1z" fill="#d8aea8"/>
<path d="M526 469.5h1v73.25h-1zM529 469.5h1v73.25h-1zM565 469.5h1v73.25h-1zM613 469.5h1v73.25h-1zM863 469.5h1v73.25h-1zM872 469.5h1v73.25h-1zM982 469.5h1v73.25h-1zM1039 469.5h1v73.25h-1zM1551 469.5h1v73.25h-1zM1666 469.5h1v73.25h-1zM1755 469.5h1v73.25h-1z" fill="#d8b4a8"/>
<path d="M183 469.5h1v73.25h-1zM202 469.5h1v73.25h-1zM298 469.5h1v73.25h-1zM365 469.5h1v73.25h-1zM399 469.5h1v73.25h-1zM473 469.5h1v73.25h-1zM483 469.5h1v73.25h-1zM939 469.5h1v73.25h-1zM972 469.5h1v73.25h-1zM1315 469.5h1v73.25h-1zM1347 469.5h1v73.25h-1zM1394 469.5h1v73.25h-1zM1571 469.5h1v73.25h-1z" fill="#d8b4ae"/>
<path d="M61 469.5h1v73.25h-1zM99 469.5h1v73.25h-1zM361 469.5h1v73.25h-1zM656 469.5h1v73.25h-1zM663 469.5h1v73.25h-1zM826 469.5h1v73.25h-1zM915 469.5h1v73.25h-1zM994 469.5h1v73.25h-1zM1032 469.5h1v73.25h-1zM1185 469.5h1v73.25h-1zM1295 469.5h1v73.25h-1zM1421 469.5h1v73.25h-1zM1588 469.5h1v73.25h-1zM1662 469.5h1v73.25h-1zM1813 469.5h1v73.25h-1z" fill="#d8bab4"/>
<path d="M507 469.5h1v73.25h-1z" fill="#de6c66"/>
<path d="M1804 469.5h1v73.25h-1z" fill="#de726c"/>
<path d="M68 469.5h1v73.25h-1zM575 469.5h1v73.25h-1zM1742 469.5h1v73.25h-1zM1812 469.5h1v73.25h-1z" fill="#de786c"/>
<path d="M617 469.5h1v73.25h-1zM912 469.5h1v73.25h-1z" fill="#de7872"/>
<path d="M125 469.5h1v73.25h-1zM1562 469.5h1v73.25h-1zM1654 469.5h1v73.25h-1z" fill="#de7e72"/>
<path d="M556 469.5h1v73.25h-1zM1713 469.5h1v73.25h-1zM1796 469.5h1v73.25h-1z" fill="#de7e78"/>
<path d="M159 469.5h1v73.25h-1zM259 469.5h1v73.25h-1zM1460 469.5h1v73.25h-1z" fill="#de8472"/>
<path d="M126 469.5h1v73.25h-1zM374 469.5h1v73.25h-1zM415 469.5h1v73.25h-1zM711 469.5h1v73.25h-1zM720 469.5h1v73.25h-1zM808 469.5h1v73.25h-1zM1268 469.5h1v73.25h-1zM1712 469.5h1v73.25h-1z" fill="#de8478"/>
<path d="M149 469.5h1v73.25h-1zM467 469.5h1v73.25h-1zM591 469.5h1v73.25h-1zM916 469.5h1v73.25h-1zM1604 469.5h1v73.25h-1zM1660 469.5h1v73.25h-1zM1735 469.5h1v73.25h-1zM1793 469.5h1v73.25h-1z" fill="#de8a7e"/>
<path d="M370 469.5h1v73.25h-1zM444 469.5h1v73.25h-1zM541 469.5h1v73.25h-1zM748 469.5h1v73.25h-1zM1361 469.5h1v73.25h-1zM1362 469.5h1v73.25h-1zM1583 469.5h1v73.25h-1zM1621 469.5h1v73.25h-1zM1651 469.5h1v73.25h-1zM1797 469.5h1v73.25h-1z" fill="#de9084"/>
<path d="M271 469.5h1v73.25h-1z" fill="#de908a"/>
<path d="M426 469.5h1v73.25h-1zM1752 469.5h1v73.25h-1z" fill="#de9684"/>
<path d="M672 469.5h1v73.25h-1zM919 469.5h1v73.25h-1zM1011 469.5h1v73.25h-1zM1071 469.5h1v73.25h-1zM1111 469.5h1v73.25h-1zM1120 469.5h1v73.25h-1zM1259 469.5h1v73.25h-1zM1726 469.5h1v73.25h-1z" fill="#de968a"/>
<path d="M107 469.5h1v73.25h-1zM587 469.5h1v73.25h-1zM694 469.5h1v73.25h-1zM1247 469.5h1v73.25h-1zM1267 469.5h1v73.25h-1zM1496 469.5h1v73.25h-1z" fill="#de9c8a"/>
<path d="M53 469.5h1v73.25h-1zM86 469.5h1v73.25h-1zM186 469.5h1v73.25h-1zM240 469.5h1v73.25h-1zM245 469.5h1v73.25h-1zM258 469.5h1v73.25h-1zM260 469.5h1v73.25h-1zM366 469.5h1v73.25h-1zM378 469.5h1v73.25h-1zM386 469.5h1v73.25h-1zM391 469.5h1v73.25h-1zM446 469.5h1v73.25h-1zM448 469.5h1v73.25h-1zM484 469.5h1v73.25h-1zM503 469.5h1v73.25h-1zM509 469.5h1v73.25h-1zM538 469.5h1v73.25h-1zM555 469.5h1v73.25h-1zM569 469.5h1v73.25h-1zM571 469.5h1v73.25h-1zM580 469.5h1v73.25h-1zM599 469.5h1v73.25h-1zM615 469.5h1v73.25h-1zM715 469.5h1v73.25h-1zM784 469.5h1v73.25h-1zM791 469.5h1v73.25h-1zM792 469.5h1v73.25h-1zM835 469.5h1v73.25h-1zM884 469.5h1v73.25h-1zM942 469.5h1v73.25h-1zM965 469.5h1v73.25h-1zM1106 469.5h1v73.25h-1zM1136 469.5h1v73.25h-1zM1145 469.5h1v73.25h-1zM1328 469.5h1v73.25h-1zM1354 469.5h1v73.25h-1zM1398 469.5h1v73.25h-1zM1407 469.5h1v73.25h-1zM1547 469.5h1v73.25h-1zM1605 469.5h1v73.25h-1zM1625 469.5h1v73.25h-1zM1633 469.5h1v73.25h-1zM1698 469.5h1v73.25h-1zM1822 469.5h1v73.25h-1z" fill="#de9c90"/>
<path d="M84 469.5h1v73.25h-1zM124 469.5h1v73.25h-1zM140 469.5h1v73.25h-1zM153 469.5h1v73.25h-1zM224 469.5h1v73.25h-1zM462 469.5h1v73.25h-1zM900 469.5h1v73.25h-1zM958 469.5h1v73.25h-1zM975 469.5h1v73.25h-1zM1007 469.5h1v73.25h-1zM1114 469.5h1v73.25h-1zM1202 469.5h1v73.25h-1zM1360 469.5h1v73.25h-1zM1486 469.5h1v73.25h-1zM1515 469.5h1v73.25h-1zM1603 469.5h1v73.25h-1zM1629 469.5h1v73.25h-1zM1702 469.5h1v73.25h-1z" fill="#dea296"/>
<path d="M543 469.5h1v73.25h-1zM709 469.5h1v73.25h-1zM1601 469.5h1v73.25h-1zM1626 469.5h1v73.25h-1zM1645 469.5h1v73.25h-1z" fill="#dea29c"/>
<path d="M58 469.5h1v73.25h-1zM122 469.5h1v73.25h-1zM305 469.5h1v73.25h-1zM326 469.5h1v73.25h-1zM329 469.5h1v73.25h-1zM348 469.5h1v73.25h-1zM369 469.5h1v73.25h-1zM460 469.5h1v73.25h-1zM481 469.5h1v73.25h-1zM500 469.5h1v73.25h-1zM513 469.5h1v73.25h-1zM773 469.5h1v73.25h-1zM799 469.5h1v73.25h-1zM840 469.5h1v73.25h-1zM898 469.5h1v73.25h-1zM940 469.5h1v73.25h-1zM1023 469.5h1v73.25h-1zM1045 469.5h1v73.25h-1zM1112 469.5h1v73.25h-1zM1288 469.5h1v73.25h-1zM1399 469.5h1v73.25h-1zM1531 469.5h1v73.25h-1zM1532 469.5h1v73.25h-1zM1548 469.5h1v73.25h-1zM1667 469.5h1v73.25h-1zM1675 469.5h1v73.25h-1zM1706 469.5h1v73.25h-1zM1732 469.5h1v73.25h-1z" fill="#dea89c"/>
<path d="M69 469.5h1v73.25h-1zM714 469.5h1v73.25h-1z" fill="#dea8a2"/>
<path d="M66 469.5h1v73.25h-1zM143 469.5h1v73.25h-1zM385 469.5h1v73.25h-1zM739 469.5h1v73.25h-1zM847 469.5h1v73.25h-1zM883 469.5h1v73.25h-1zM991 469.5h1v73.25h-1zM1298 469.5h1v73.25h-1zM1336 469.5h1v73.25h-1zM1406 469.5h1v73.25h-1zM1718 469.5h1v73.25h-1z" fill="#deaea2"/>
<path d="M1175 469.5h1v73.25h-1z" fill="#e42424"/>
<path d="M530 469.5h1v73.25h-1z" fill="#e42a24"/>
<path d="M75 469.5h1v73.25h-1zM858 469.5h1v73.25h-1zM1178 469.5h1v73.25h-1zM1436 469.5h1v73.25h-1zM1466 469.5h1v73.25h-1z" fill="#e43024"/>
<path d="M292 469.5h1v73.25h-1zM583 469.5h1v73.25h-1zM973 469.5h1v73.25h-1zM1212 469.5h1v73.25h-1z" fill="#e43c2a"/>
<path d="M936 469.5h1v73.25h-1zM955 469.5h1v73.25h-1zM1517 469.5h1v73.25h-1z" fill="#e43c30"/>
<path d="M914 469.5h1v73.25h-1z" fill="#e44230"/>
<path d="M630 469.5h1v73.25h-1zM1194 469.5h1v73.25h-1zM1714 469.5h1v73.25h-1z" fill="#e44236"/>
<path d="M293 469.5h1v73.25h-1zM497 469.5h1v73.25h-1zM842 469.5h1v73.25h-1zM1616 469.5h1v73.25h-1z" fill="#e44836"/>
<path d="M771 469.5h1v73.25h-1zM1018 469.5h1v73.25h-1zM1782 469.5h1v73.25h-1z" fill="#e4483c"/>
<path d="M110 469.5h1v73.25h-1zM549 469.5h1v73.25h-1zM639 469.5h1v73.25h-1zM861 469.5h1v73.25h-1zM1013 469.5h1v73.25h-1zM1254 469.5h1v73.25h-1zM1397 469.5h1v73.25h-1z" fill="#e44e3c"/>
<path d="M566 469.5h1v73.25h-1zM1512 469.5h1v73.25h-1zM1602 469.5h1v73.25h-1z" fill="#e44e42"/>
<path d="M1016 469.5h1v73.25h-1z" fill="#e4543c"/>
<path d="M211 469.5h1v73.25h-1zM449 469.5h1v73.25h-1zM510 469.5h1v73.25h-1zM668 469.5h1v73.25h-1zM734 469.5h1v73.25h-1zM927 469.5h1v73.25h-1zM962 469.5h1v73.25h-1zM1008 469.5h1v73.25h-1zM1029 469.5h1v73.25h-1zM1401 469.5h1v73.25h-1zM1516 469.5h1v73.25h-1zM1692 469.5h1v73.25h-1zM1739 469.5h1v73.25h-1z" fill="#e45442"/>
<path d="M470 469.5h1v73.25h-1zM879 469.5h1v73.25h-1zM1786 469.5h1v73.25h-1z" fill="#e45448"/>
<path d="M83 469.5h1v73.25h-1zM418 469.5h1v73.25h-1zM577 469.5h1v73.25h-1zM670 469.5h1v73.25h-1zM716 469.5h1v73.25h-1zM782 469.5h1v73.25h-1zM1546 469.5h1v73.25h-1zM1561 469.5h1v73.25h-1zM1581 469.5h1v73.25h-1zM1614 469.5h1v73.25h-1zM1674 469.5h1v73.25h-1z" fill="#e45a48"/>
<path d="M170 469.5h1v73.25h-1zM340 469.5h1v73.25h-1zM737 469.5h1v73.25h-1zM1227 469.5h1v73.25h-1zM1554 469.5h1v73.25h-1z" fill="#e45a4e"/>
<path d="M410 469.5h1v73.25h-1zM769 469.5h1v73.25h-1zM920 469.5h1v73.25h-1zM977 469.5h1v73.25h-1zM1005 469.5h1v73.25h-1zM1270 469.5h1v73.25h-1zM1341 469.5h1v73.25h-1zM1549 469.5h1v73.25h-1zM1789 469.5h1v73.25h-1z" fill="#e46048"/>
<path d="M204 469.5h1v73.25h-1zM256 469.5h1v73.25h-1zM323 469.5h1v73.25h-1zM339 469.5h1v73.25h-1zM430 469.5h1v73.25h-1zM724 469.5h1v73.25h-1zM909 469.5h1v73.25h-1zM1052 469.5h1v73.25h-1zM1310 469.5h1v73.25h-1zM1357 469.5h1v73.25h-1zM1483 469.5h1v73.25h-1zM1504 469.5h1v73.25h-1zM1570 469.5h1v73.25h-1zM1811 469.5h1v73.25h-1z" fill="#e4604e"/>
<path d="M264 469.5h1v73.25h-1zM1100 469.5h1v73.25h-1zM1192 469.5h1v73.25h-1zM1635 469.5h1v73.25h-1z" fill="#e46054"/>
<path d="M910 469.5h1v73.25h-1zM1580 469.5h1v73.25h-1zM1638 469.5h1v73.25h-1zM1773 469.5h1v73.25h-1z" fill="#e4664e"/>
<path d="M297 469.5h1v73.25h-1zM417 469.5h1v73.25h-1zM442 469.5h1v73.25h-1zM620 469.5h1v73.25h-1zM655 469.5h1v73.25h-1zM800 469.5h1v73.25h-1zM959 469.5h1v73.25h-1zM989 469.5h1v73.25h-1zM1038 469.5h1v73.25h-1zM1042 469.5h1v73.25h-1zM1085 469.5h1v73.25h-1zM1153 469.5h1v73.25h-1zM1164 469.5h1v73.25h-1zM1179 469.5h1v73.25h-1zM1218 469.5h1v73.25h-1zM1416 469.5h1v73.25h-1zM1572 469.5h1v73.25h-1z" fill="#e46654"/>
<path d="M261 469.5h1v73.25h-1zM1098 469.5h1v73.25h-1zM1382 469.5h1v73.25h-1zM1451 469.5h1v73.25h-1z" fill="#e4665a"/>
<path d="M89 469.5h1v73.25h-1zM96 469.5h1v73.25h-1zM146 469.5h1v73.25h-1zM154 469.5h1v73.25h-1zM332 469.5h1v73.25h-1zM584 469.5h1v73.25h-1zM730 469.5h1v73.25h-1zM796 469.5h1v73.25h-1zM815 469.5h1v73.25h-1zM899 469.5h1v73.25h-1zM1414 469.5h1v73.25h-1zM1484 469.5h1v73.25h-1z" fill="#e46c54"/>
<path d="M87 469.5h1v73.25h-1zM104 469.5h1v73.25h-1zM108 469.5h1v73.25h-1zM158 469.5h1v73.25h-1zM192 469.5h1v73.25h-1zM360 469.5h1v73.25h-1zM373 469.5h1v73.25h-1zM512 469.5h1v73.25h-1zM524 469.5h1v73.25h-1zM532 469.5h1v73.25h-1zM536 469.5h1v73.25h-1zM662 469.5h1v73.25h-1zM721 469.5h1v73.25h-1zM757 469.5h1v73.25h-1zM988 469.5h1v73.25h-1zM1050 469.5h1v73.25h-1zM1226 469.5h1v73.25h-1zM1275 469.5h1v73.25h-1zM1693 469.5h1v73.25h-1z" fill="#e46c5a"/>
<path d="M438 469.5h1v73.25h-1zM504 469.5h1v73.25h-1zM606 469.5h1v73.25h-1zM1057 469.5h1v73.25h-1zM1234 469.5h1v73.25h-1zM1272 469.5h1v73.25h-1z" fill="#e46c60"/>
<path d="M127 469.5h1v73.25h-1zM132 469.5h1v73.25h-1zM160 469.5h1v73.25h-1zM283 469.5h1v73.25h-1zM300 469.5h1v73.25h-1zM331 469.5h1v73.25h-1zM362 469.5h1v73.25h-1zM733 469.5h1v73.25h-1zM859 469.5h1v73.25h-1zM913 469.5h1v73.25h-1zM1289 469.5h1v73.25h-1zM1326 469.5h1v73.25h-1zM1365 469.5h1v73.25h-1zM1405 469.5h1v73.25h-1zM1438 469.5h1v73.25h-1zM1448 469.5h1v73.25h-1zM1461 469.5h1v73.25h-1zM1543 469.5h1v73.25h-1zM1573 469.5h1v73.25h-1zM1610 469.5h1v73.25h-1zM1754 469.5h1v73.25h-1zM1790 469.5h1v73.25h-1z" fill="#e47260"/>
<path d="M52 469.5h1v73.25h-1zM198 469.5h1v73.25h-1zM585 469.5h1v73.25h-1zM875 469.5h1v73.25h-1zM1294 469.5h1v73.25h-1zM1481 469.5h1v73.25h-1zM1587 469.5h1v73.25h-1zM1744 469.5h1v73.25h-1z" fill="#e47266"/>
<path d="M117 469.5h1v73.25h-1zM525 469.5h1v73.25h-1zM551 469.5h1v73.25h-1zM578 469.5h1v73.25h-1zM1686 469.5h1v73.25h-1z" fill="#e47860"/>
<path d="M113 469.5h1v73.25h-1zM196 469.5h1v73.25h-1zM200 469.5h1v73.25h-1zM414 469.5h1v73.25h-1zM713 469.5h1v73.25h-1zM788 469.5h1v73.25h-1zM1061 469.5h1v73.25h-1zM1086 469.5h1v73.25h-1zM1415 469.5h1v73.25h-1zM1495 469.5h1v73.25h-1zM1540 469.5h1v73.25h-1zM1607 469.5h1v73.25h-1zM1689 469.5h1v73.25h-1zM1777 469.5h1v73.25h-1z" fill="#e47866"/>
<path d="M138 469.5h1v73.25h-1zM572 469.5h1v73.25h-1zM645 469.5h1v73.25h-1zM1014 469.5h1v73.25h-1zM1158 469.5h1v73.25h-1zM1291 469.5h1v73.25h-1zM1330 469.5h1v73.25h-1zM1482 469.5h1v73.25h-1zM1508 469.5h1v73.25h-1zM1606 469.5h1v73.25h-1zM1663 469.5h1v73.25h-1zM1766 469.5h1v73.25h-1zM1819 469.5h1v73.25h-1z" fill="#e4786c"/>
<path d="M354 469.5h1v73.25h-1zM379 469.5h1v73.25h-1zM690 469.5h1v73.25h-1zM825 469.5h1v73.25h-1zM1022 469.5h1v73.25h-1zM1264 469.5h1v73.25h-1zM1799 469.5h1v73.25h-1z" fill="#e47e66"/>
<path d="M92 469.5h1v73.25h-1zM94 469.5h1v73.25h-1zM121 469.5h1v73.25h-1zM136 469.5h1v73.25h-1zM227 469.5h1v73.25h-1zM236 469.5h1v73.25h-1zM324 469.5h1v73.25h-1zM387 469.5h1v73.25h-1zM472 469.5h1v73.25h-1zM518 469.5h1v73.25h-1zM531 469.5h1v73.25h-1zM535 469.5h1v73.25h-1zM547 469.5h1v73.25h-1zM596 469.5h1v73.25h-1zM624 469.5h1v73.25h-1zM642 469.5h1v73.25h-1zM682 469.5h1v73.25h-1zM697 469.5h1v73.25h-1zM760 469.5h1v73.25h-1zM774 469.5h1v73.25h-1zM817 469.5h1v73.25h-1zM846 469.5h1v73.25h-1zM857 469.5h1v73.25h-1zM986 469.5h1v73.25h-1zM1091 469.5h1v73.25h-1zM1129 469.5h1v73.25h-1zM1130 469.5h1v73.25h-1zM1215 469.5h1v73.25h-1zM1221 469.5h1v73.25h-1zM1229 469.5h1v73.25h-1zM1278 469.5h1v73.25h-1zM1319 469.5h1v73.25h-1zM1409 469.5h1v73.25h-1zM1528 469.5h1v73.25h-1zM1559 469.5h1v73.25h-1zM1566 469.5h1v73.25h-1zM1658 469.5h1v73.25h-1zM1665 469.5h1v73.25h-1zM1738 469.5h1v73.25h-1zM1774 469.5h1v73.25h-1zM1794 469.5h1v73.25h-1z" fill="#e47e6c"/>
<path d="M450 469.5h1v73.25h-1zM1176 469.5h1v73.25h-1zM1235 469.5h1v73.25h-1z" fill="#e47e72"/>
<path d="M85 469.5h1v73.25h-1zM97 469.5h1v73.25h-1zM165 469.5h1v73.25h-1zM212 469.5h1v73.25h-1zM279 469.5h1v73.25h-1zM393 469.5h1v73.25h-1zM405 469.5h1v73.25h-1zM411 469.5h1v73.25h-1zM424 469.5h1v73.25h-1zM628 469.5h1v73.25h-1zM728 469.5h1v73.25h-1zM925 469.5h1v73.25h-1zM1003 469.5h1v73.25h-1zM1063 469.5h1v73.25h-1zM1116 469.5h1v73.25h-1zM1180 469.5h1v73.25h-1zM1312 469.5h1v73.25h-1zM1339 469.5h1v73.25h-1zM1370 469.5h1v73.25h-1zM1432 469.5h1v73.25h-1zM1463 469.5h1v73.25h-1zM1510 469.5h1v73.25h-1zM1535 469.5h1v73.25h-1zM1631 469.5h1v73.25h-1zM1801 469.5h1v73.25h-1zM1803 469.5h1v73.25h-1zM1810 469.5h1v73.25h-1z" fill="#e48472"/>
<path d="M288 469.5h1v73.25h-1zM291 469.5h1v73.25h-1zM299 469.5h1v73.25h-1zM558 469.5h1v73.25h-1zM888 469.5h1v73.25h-1zM1598 469.5h1v73.25h-1z" fill="#e48478"/>
<path d="M82 469.5h1v73.25h-1zM88 469.5h1v73.25h-1zM90 469.5h1v73.25h-1zM109 469.5h1v73.25h-1zM123 469.5h1v73.25h-1zM157 469.5h1v73.25h-1zM265 469.5h1v73.25h-1zM306 469.5h1v73.25h-1zM347 469.5h1v73.25h-1zM397 469.5h1v73.25h-1zM494 469.5h1v73.25h-1zM603 469.5h1v73.25h-1zM736 469.5h1v73.25h-1zM750 469.5h1v73.25h-1zM772 469.5h1v73.25h-1zM824 469.5h1v73.25h-1zM906 469.5h1v73.25h-1zM917 469.5h1v73.25h-1zM957 469.5h1v73.25h-1zM1010 469.5h1v73.25h-1zM1021 469.5h1v73.25h-1zM1049 469.5h1v73.25h-1zM1055 469.5h1v73.25h-1zM1097 469.5h1v73.25h-1zM1107 469.5h1v73.25h-1zM1121 469.5h1v73.25h-1zM1133 469.5h1v73.25h-1zM1216 469.5h1v73.25h-1zM1228 469.5h1v73.25h-1zM1256 469.5h1v73.25h-1zM1299 469.5h1v73.25h-1zM1321 469.5h1v73.25h-1zM1418 469.5h1v73.25h-1zM1439 469.5h1v73.25h-1zM1491 469.5h1v73.25h-1zM1507 469.5h1v73.25h-1zM1585 469.5h1v73.25h-1zM1646 469.5h1v73.25h-1zM1779 469.5h1v73.25h-1z" fill="#e48a78"/>
<path d="M222 469.5h1v73.25h-1zM229 469.5h1v73.25h-1zM738 469.5h1v73.25h-1zM765 469.5h1v73.25h-1zM827 469.5h1v73.25h-1zM885 469.5h1v73.25h-1zM945 469.5h1v73.25h-1zM953 469.5h1v73.25h-1zM1088 469.5h1v73.25h-1zM1320 469.5h1v73.25h-1zM1413 469.5h1v73.25h-1zM1434 469.5h1v73.25h-1zM1600 469.5h1v73.25h-1zM1821 469.5h1v73.25h-1z" fill="#e48a7e"/>
<path d="M270 469.5h1v73.25h-1zM756 469.5h1v73.25h-1zM952 469.5h1v73.25h-1zM964 469.5h1v73.25h-1zM1058 469.5h1v73.25h-1zM1084 469.5h1v73.25h-1zM1567 469.5h1v73.25h-1zM1574 469.5h1v73.25h-1zM1608 469.5h1v73.25h-1zM1814 469.5h1v73.25h-1z" fill="#e4907e"/>
<path d="M91 469.5h1v73.25h-1zM119 469.5h1v73.25h-1zM150 469.5h1v73.25h-1zM274 469.5h1v73.25h-1zM294 469.5h1v73.25h-1zM335 469.5h1v73.25h-1zM345 469.5h1v73.25h-1zM664 469.5h1v73.25h-1zM833 469.5h1v73.25h-1zM1135 469.5h1v73.25h-1zM1161 469.5h1v73.25h-1zM1325 469.5h1v73.25h-1zM1334 469.5h1v73.25h-1zM1352 469.5h1v73.25h-1zM1364 469.5h1v73.25h-1zM1371 469.5h1v73.25h-1zM1396 469.5h1v73.25h-1zM1430 469.5h1v73.25h-1zM1464 469.5h1v73.25h-1zM1511 469.5h1v73.25h-1zM1628 469.5h1v73.25h-1zM1740 469.5h1v73.25h-1z" fill="#e49084"/>
<path d="M139 469.5h1v73.25h-1zM166 469.5h1v73.25h-1zM203 469.5h1v73.25h-1zM239 469.5h1v73.25h-1zM492 469.5h1v73.25h-1zM501 469.5h1v73.25h-1zM568 469.5h1v73.25h-1zM614 469.5h1v73.25h-1zM616 469.5h1v73.25h-1zM667 469.5h1v73.25h-1zM797 469.5h1v73.25h-1zM823 469.5h1v73.25h-1zM839 469.5h1v73.25h-1zM845 469.5h1v73.25h-1zM961 469.5h1v73.25h-1zM1012 469.5h1v73.25h-1zM1075 469.5h1v73.25h-1zM1433 469.5h1v73.25h-1zM1659 469.5h1v73.25h-1zM1809 469.5h1v73.25h-1z" fill="#e49684"/>
<path d="M268 469.5h1v73.25h-1zM723 469.5h1v73.25h-1zM744 469.5h1v73.25h-1zM1077 469.5h1v73.25h-1zM1536 469.5h1v73.25h-1zM1644 469.5h1v73.25h-1z" fill="#e4968a"/>
<path d="M129 469.5h1v73.25h-1zM164 469.5h1v73.25h-1zM219 469.5h1v73.25h-1zM341 469.5h1v73.25h-1zM427 469.5h1v73.25h-1zM508 469.5h1v73.25h-1zM581 469.5h1v73.25h-1zM673 469.5h1v73.25h-1zM678 469.5h1v73.25h-1zM745 469.5h1v73.25h-1zM1200 469.5h1v73.25h-1zM1743 469.5h1v73.25h-1z" fill="#e49c8a"/>
<text x="0" y="24.4" font-size="46" font-weight="bold">a</text>
<text x="800" y="34.5" font-size="32.5" >genes in CSCN regions</text>
<path d="M751 30.2H790" stroke="#000" stroke-width="1.3" fill="none"/><path d="M743.3 30.2l10 -4.6v9.2z" fill="#000"/>
<path d="M1147 30.2H1188" stroke="#000" stroke-width="1.3" fill="none"/><path d="M1196 30.2l-10 -4.6v9.2z" fill="#000"/>
<text x="1814" y="56.8" font-size="33.6" >clone</text>
<text x="1843.6" y="107" font-size="31" >A</text>
<text x="1843.6" y="174" font-size="31" >B</text>
<text x="1843.6" y="241" font-size="31" >C</text>
<text x="1843.6" y="307.8" font-size="31" >A</text>
<text x="1843.6" y="374.7" font-size="31" >B</text>
<text x="1843.6" y="442.1" font-size="31" >C</text>
<text x="1830.5" y="516.5" font-size="30" >p(k)</text>
<text transform="translate(30.5,167) rotate(-90)" text-anchor="middle" font-size="37.2">scDNA</text>
<text transform="translate(30.5,370.8) rotate(-90)" text-anchor="middle" font-size="36.8">InferCNV</text>
<text x="551" y="582.5" font-size="22.4" font-weight="bold">CN</text>
<rect x="551.5" y="596.8" width="23.7" height="23.2" fill="#3182bd"/>
<text x="582.1" y="617.4" font-size="22.8" >0</text>
<rect x="551.5" y="622.6" width="23.7" height="23.2" fill="#9ecae1"/>
<text x="582.1" y="643.2" font-size="22.8" >1</text>
<rect x="551.5" y="648.4" width="23.7" height="23.2" fill="#cccccc"/>
<text x="582.1" y="669" font-size="22.8" >2</text>
<rect x="609.35" y="596.8" width="23.7" height="23.2" fill="#fdcc8a"/>
<text x="639.95" y="617.4" font-size="22.8" >3</text>
<rect x="609.35" y="622.6" width="23.7" height="23.2" fill="#fc8d59"/>
<text x="639.95" y="643.2" font-size="22.8" >4</text>
<rect x="609.35" y="648.4" width="23.7" height="23.2" fill="#e34a33"/>
<text x="639.95" y="669" font-size="22.8" >5</text>
<rect x="667.2" y="596.8" width="23.7" height="23.2" fill="#b30000"/>
<text x="697.8" y="617.4" font-size="22.8" >6</text>
<rect x="667.2" y="622.6" width="23.7" height="23.2" fill="#980043"/>
<text x="697.8" y="643.2" font-size="22.8" >7</text>
<rect x="667.2" y="648.4" width="23.7" height="23.2" fill="#dd1c77"/>
<text x="697.8" y="669" font-size="22.8" >8</text>
<rect x="725.05" y="596.8" width="23.7" height="23.2" fill="#df65b0"/>
<text x="755.65" y="617.4" font-size="22.8" >9</text>
<rect x="725.05" y="622.6" width="23.7" height="23.2" fill="#c994c7"/>
<text x="755.65" y="643.2" font-size="22.8" >10</text>
<rect x="725.05" y="648.4" width="23.7" height="23.2" fill="#d4b9da"/>
<text x="755.65" y="669" font-size="22.8" >11</text>
<text x="845.5" y="582.5" font-size="22.8" font-weight="bold">InferCNV corrected expression</text>
<rect x="845.2" y="594.6" width="133.3" height="28" fill="url(#lg1)"/>
<path d="M850.8 594.6v7M850.8 615.6v7" stroke="#fff" stroke-width="1.8"/>
<path d="M881.6 594.6v7M881.6 615.6v7" stroke="#fff" stroke-width="1.8"/>
<path d="M971.2 594.6v7M971.2 615.6v7" stroke="#fff" stroke-width="1.8"/>
<path d="M850.8 621V644.3M881.6 621V628.6L885.8 638.8V644.3M971.2 621V644.3" stroke="#000" stroke-width="1.9" fill="none"/>
<text x="828.2" y="663.2" font-size="22.6" >0.93</text>
<text x="879.6" y="663.2" font-size="22.6" >1</text>
<text x="955.8" y="663.2" font-size="22.6" >1.2</text>
<text x="1244" y="582.5" font-size="22.7" font-weight="bold">p(k)</text>
<rect x="1243.2" y="594.6" width="101.7" height="28" fill="url(#lg2)"/>
<path d="M1248.7 594.6v7M1248.7 615.6v7" stroke="#fff" stroke-width="1.8"/>
<path d="M1292.9 594.6v7M1292.9 615.6v7" stroke="#fff" stroke-width="1.8"/>
<path d="M1337.1 594.6v7M1337.1 615.6v7" stroke="#fff" stroke-width="1.8"/>
<text x="1242.2" y="644" font-size="22.3" >0</text>
<text x="1276.6" y="644" font-size="22.3" >0.5</text>
<text x="1330.3" y="644" font-size="22.3" >1</text>
<text x="-0.5" y="735.6" font-size="46" font-weight="bold">b</text>
<path d="M170.75 1101.75V1145.05M170.75 1188.35V1188.35" stroke="#6a3d9a" stroke-width="2.3" fill="none"/><rect x="123.65" y="1145.05" width="94.2" height="43.3" stroke="#6a3d9a" stroke-width="2.3" fill="#fff"/><path d="M123.65 1145.05H217.85" stroke="#6a3d9a" stroke-width="4.6"/>
<path d="M359.25 1015.15V1058.45M359.25 1145.05V1145.05" stroke="#fd9a39" stroke-width="2.3" fill="none"/><rect x="312.15" y="1058.45" width="94.2" height="86.6" stroke="#fd9a39" stroke-width="2.3" fill="#fff"/><path d="M312.15 1101.75H406.35" stroke="#fd9a39" stroke-width="4.6"/>
<path d="M170.75 1188.35L359.25 755.35M170.75 1058.45L359.25 1058.45M170.75 1101.75L359.25 1101.75M170.75 1145.05L359.25 1015.15M170.75 1188.35L359.25 1015.15M170.75 1188.35L359.25 1058.45M170.75 1188.35L359.25 1058.45M170.75 1145.05L359.25 1101.75M170.75 1145.05L359.25 1101.75M170.75 1145.05L359.25 1145.05M170.75 1145.05L359.25 1145.05M170.75 1188.35L359.25 1145.05" stroke="#bcbcbc" stroke-width="2.4" fill="none"/>
<circle cx="170.75" cy="1188.35" r="5" fill="#6a3d9a"/><circle cx="170.75" cy="1145.05" r="5" fill="#6a3d9a"/><circle cx="170.75" cy="1101.75" r="5" fill="#6a3d9a"/><circle cx="170.75" cy="1058.45" r="5" fill="#6a3d9a"/>
<circle cx="359.25" cy="1145.05" r="5" fill="#fd9a39"/><circle cx="359.25" cy="1101.75" r="5" fill="#fd9a39"/><circle cx="359.25" cy="1058.45" r="5" fill="#fd9a39"/><circle cx="359.25" cy="1015.15" r="5" fill="#fd9a39"/><circle cx="359.25" cy="755.35" r="5" fill="#fd9a39"/>
<path d="M58.5 734.5V1209.5H472" stroke="#000" stroke-width="2.45" fill="none"/>
<path d="M51.2 1101.75H58.5" stroke="#000" stroke-width="2.45" fill="none"/><text x="46.3" y="1110.95" font-size="26.2" text-anchor="end">3</text>
<path d="M51.2 971.85H58.5" stroke="#000" stroke-width="2.45" fill="none"/><text x="46.3" y="981.05" font-size="26.2" text-anchor="end">6</text>
<path d="M51.2 841.95H58.5" stroke="#000" stroke-width="2.45" fill="none"/><text x="46.3" y="851.15" font-size="26.2" text-anchor="end">9</text>
<path d="M170.75 1209.5V1216.4" stroke="#000" stroke-width="2.45" fill="none"/><text x="170.75" y="1240" font-size="26.2" text-anchor="middle">total_cn</text>
<path d="M359.25 1209.5V1216.4" stroke="#000" stroke-width="2.45" fill="none"/><text x="359.25" y="1240" font-size="26.2" text-anchor="middle">integrated</text>
<text transform="translate(19.6,972.6) rotate(-90)" text-anchor="middle" font-size="26"># of clones</text>
<text x="126.5" y="755.5" font-size="24" >Wilcoxon, p = 0.0053</text>
<text x="506" y="735.6" font-size="46" font-weight="bold">c</text>
<path d="M685.1 755.75V860.3M685.1 1108.75V1182.5" stroke="#6a3d9a" stroke-width="2.3" fill="none"/><rect x="640.6" y="860.3" width="89" height="248.45" stroke="#6a3d9a" stroke-width="2.3" fill="#fff"/><path d="M640.6 975.75H729.6" stroke="#6a3d9a" stroke-width="4.6"/>
<path d="M863.5 986V1066.75M863.5 1150.5V1187.5" stroke="#fd9a39" stroke-width="2.3" fill="none"/><rect x="818.5" y="1066.75" width="90" height="83.75" stroke="#fd9a39" stroke-width="2.3" fill="#fff"/><path d="M818.5 1112H908.5" stroke="#fd9a39" stroke-width="4.6"/>
<path d="M685.1 755.75L863.5 1010.75M685.1 847.8L863.5 986M685.1 932.4L863.5 1016.25M685.1 993L863.5 1058.75M685.1 975.75L863.5 1074.5M685.1 1117L863.5 1089.25M685.1 1058.75L863.5 1108.75M685.1 1099.25L863.5 1112M685.1 842.5L863.5 1131.25M685.1 856L863.5 1133.75M685.1 1118L863.5 1144.25M685.1 856L863.5 1155.5M685.1 941.3L863.5 1167.25M685.1 1182.5L863.5 1167.25M685.1 1144.25L863.5 1183.75M685.1 865.1L863.5 1187.5" stroke="#bcbcbc" stroke-width="2.4" fill="none"/>
<circle cx="685.1" cy="755.75" r="4.5" fill="#6a3d9a"/><circle cx="685.1" cy="842.5" r="4.5" fill="#6a3d9a"/><circle cx="685.1" cy="847.8" r="4.5" fill="#6a3d9a"/><circle cx="685.1" cy="856" r="4.5" fill="#6a3d9a"/><circle cx="685.1" cy="865.1" r="4.5" fill="#6a3d9a"/><circle cx="685.1" cy="932.4" r="4.5" fill="#6a3d9a"/><circle cx="685.1" cy="941.3" r="4.5" fill="#6a3d9a"/><circle cx="685.1" cy="975.75" r="4.5" fill="#6a3d9a"/><circle cx="685.1" cy="993" r="4.5" fill="#6a3d9a"/><circle cx="685.1" cy="1058.75" r="4.5" fill="#6a3d9a"/><circle cx="685.1" cy="1099.25" r="4.5" fill="#6a3d9a"/><circle cx="685.1" cy="1116.5" r="4.5" fill="#6a3d9a"/><circle cx="685.1" cy="1119" r="4.5" fill="#6a3d9a"/><circle cx="685.1" cy="1144.25" r="4.5" fill="#6a3d9a"/><circle cx="685.1" cy="1182.5" r="4.5" fill="#6a3d9a"/>
<circle cx="863.5" cy="986" r="4.5" fill="#fd9a39"/><circle cx="863.5" cy="1010.75" r="4.5" fill="#fd9a39"/><circle cx="863.5" cy="1016.25" r="4.5" fill="#fd9a39"/><circle cx="863.5" cy="1058.75" r="4.5" fill="#fd9a39"/><circle cx="863.5" cy="1074.5" r="4.5" fill="#fd9a39"/><circle cx="863.5" cy="1089.25" r="4.5" fill="#fd9a39"/><circle cx="863.5" cy="1108.75" r="4.5" fill="#fd9a39"/><circle cx="863.5" cy="1112" r="4.5" fill="#fd9a39"/><circle cx="863.5" cy="1131.25" r="4.5" fill="#fd9a39"/><circle cx="863.5" cy="1133.75" r="4.5" fill="#fd9a39"/><circle cx="863.5" cy="1144.25" r="4.5" fill="#fd9a39"/><circle cx="863.5" cy="1155.5" r="4.5" fill="#fd9a39"/><circle cx="863.5" cy="1167.25" r="4.5" fill="#fd9a39"/><circle cx="863.5" cy="1183.75" r="4.5" fill="#fd9a39"/><circle cx="863.5" cy="1187.5" r="4.5" fill="#fd9a39"/>
<path d="M578.75 734.5V1209.5H970.25" stroke="#000" stroke-width="2.45" fill="none"/>
<path d="M571.45 1194.2H578.75" stroke="#000" stroke-width="2.45" fill="none"/><text x="566.55" y="1203.4" font-size="26.2" text-anchor="end">0.0</text>
<path d="M571.45 1054.8H578.75" stroke="#000" stroke-width="2.45" fill="none"/><text x="566.55" y="1064" font-size="26.2" text-anchor="end">0.2</text>
<path d="M571.45 915.6H578.75" stroke="#000" stroke-width="2.45" fill="none"/><text x="566.55" y="924.8" font-size="26.2" text-anchor="end">0.4</text>
<path d="M571.45 776.2H578.75" stroke="#000" stroke-width="2.45" fill="none"/><text x="566.55" y="785.4" font-size="26.2" text-anchor="end">0.6</text>
<path d="M685.1 1209.5V1216.4" stroke="#000" stroke-width="2.45" fill="none"/><text x="685.1" y="1240" font-size="26.2" text-anchor="middle">total_cn</text>
<path d="M863.5 1209.5V1216.4" stroke="#000" stroke-width="2.45" fill="none"/><text x="863.5" y="1240" font-size="26.2" text-anchor="middle">integrated</text>
<text transform="translate(517.6,972) rotate(-90)" text-anchor="middle" font-size="26">% unassigned</text>
<text x="637.5" y="755.5" font-size="24" >Wilcoxon, p = 0.00085</text>
<text x="991.5" y="735.6" font-size="46" font-weight="bold">d</text>
<path d="M1178.4 754.4L1178.29 755.9L1178.15 757.4L1178 758.91L1177.82 760.41L1177.63 761.91L1177.4 763.41L1177.17 764.91L1176.91 766.42L1176.63 767.92L1176.33 769.42L1176.01 770.92L1175.67 772.42L1175.32 773.93L1174.96 775.43L1174.59 776.93L1174.21 778.43L1173.81 779.93L1173.41 781.44L1172.99 782.94L1172.56 784.44L1172.11 785.94L1171.66 787.45L1171.19 788.95L1170.71 790.45L1170.21 791.95L1169.7 793.45L1169.17 794.96L1168.62 796.46L1168.04 797.96L1167.43 799.46L1166.78 800.96L1166.1 802.47L1165.38 803.97L1164.62 805.47L1163.84 806.97L1163.03 808.47L1162.21 809.98L1161.39 811.48L1160.55 812.98L1159.71 814.48L1158.86 815.98L1158.01 817.49L1157.16 818.99L1156.31 820.49L1155.45 821.99L1154.61 823.49L1153.79 825L1152.99 826.5L1152.22 828L1151.5 829.5L1150.82 831L1150.19 832.51L1149.61 834.01L1149.06 835.51L1148.57 837.01L1148.11 838.52L1147.7 840.02L1147.33 841.52L1147 843.02L1146.71 844.52L1146.47 846.03L1146.27 847.53L1146.11 849.03L1145.99 850.53L1145.9 852.03L1145.84 853.54L1145.8 855.04L1145.78 856.54L1145.79 858.04L1145.83 859.54L1145.9 861.05L1145.99 862.55L1146.13 864.05L1146.29 865.55L1146.49 867.05L1146.73 868.56L1147.01 870.06L1147.33 871.56L1147.69 873.06L1148.08 874.56L1148.5 876.07L1148.94 877.57L1149.4 879.07L1149.88 880.57L1150.37 882.07L1150.87 883.58L1151.37 885.08L1151.88 886.58L1152.38 888.08L1152.89 889.58L1153.39 891.09L1153.9 892.59L1154.4 894.09L1154.91 895.59L1155.41 897.1L1155.92 898.6L1156.43 900.1L1156.93 901.6L1157.42 903.1L1157.89 904.61L1158.35 906.11L1158.8 907.61L1159.22 909.11L1159.61 910.61L1159.98 912.12L1160.32 913.62L1160.63 915.12L1160.9 916.62L1161.15 918.12L1161.36 919.63L1161.54 921.13L1161.7 922.63L1161.83 924.13L1161.93 925.63L1162.01 927.14L1162.08 928.64L1162.13 930.14L1162.17 931.64L1162.2 933.14L1162.23 934.65L1162.24 936.15L1162.24 937.65L1162.21 939.15L1162.16 940.65L1162.08 942.16L1161.98 943.66L1161.84 945.16L1161.69 946.66L1161.51 948.17L1161.32 949.67L1161.11 951.17L1160.88 952.67L1160.63 954.17L1160.35 955.68L1160.04 957.18L1159.69 958.68L1159.29 960.18L1158.82 961.68L1158.28 963.19L1157.64 964.69L1156.91 966.19L1156.09 967.69L1155.18 969.19L1154.18 970.7L1153.09 972.2L1151.91 973.7L1150.65 975.2L1149.3 976.7L1147.86 978.21L1146.33 979.71L1144.73 981.21L1143.04 982.71L1141.29 984.21L1139.46 985.72L1137.58 987.22L1135.66 988.72L1133.7 990.22L1131.72 991.72L1129.73 993.23L1127.74 994.73L1125.74 996.23L1123.76 997.73L1121.81 999.23L1119.89 1000.74L1118.01 1002.24L1116.18 1003.74L1114.41 1005.24L1112.7 1006.75L1111.07 1008.25L1109.53 1009.75L1108.07 1011.25L1106.7 1012.75L1105.43 1014.26L1104.25 1015.76L1103.18 1017.26L1102.2 1018.76L1101.33 1020.26L1100.55 1021.77L1099.86 1023.27L1099.27 1024.77L1098.78 1026.27L1098.39 1027.77L1098.11 1029.28L1097.92 1030.78L1097.85 1032.28L1097.88 1033.78L1098.03 1035.28L1098.31 1036.79L1098.72 1038.29L1099.27 1039.79L1099.97 1041.29L1100.84 1042.79L1101.89 1044.3L1103.12 1045.8L1104.53 1047.3L1106.11 1048.8L1107.85 1050.3L1109.74 1051.81L1111.78 1053.31L1113.96 1054.81L1116.25 1056.31L1118.63 1057.82L1121.08 1059.32L1123.57 1060.82L1126.07 1062.32L1128.58 1063.82L1131.09 1065.33L1133.59 1066.83L1136.07 1068.33L1138.52 1069.83L1140.94 1071.33L1143.32 1072.84L1145.64 1074.34L1147.91 1075.84L1150.09 1077.34L1152.19 1078.84L1154.18 1080.35L1156.08 1081.85L1157.88 1083.35L1159.59 1084.85L1161.2 1086.35L1162.73 1087.86L1164.18 1089.36L1165.54 1090.86L1166.84 1092.36L1168.05 1093.86L1169.18 1095.37L1170.24 1096.87L1171.2 1098.37L1172.09 1099.87L1172.9 1101.37L1173.63 1102.88L1174.3 1104.38L1174.91 1105.88L1175.46 1107.38L1175.96 1108.88L1176.41 1110.39L1176.81 1111.89L1177.18 1113.39L1177.51 1114.89L1177.81 1116.4L1178.08 1117.9L1178.31 1119.4L1178.53 1120.9L1178.72 1122.4L1178.89 1123.91L1179.03 1125.41L1179.16 1126.91L1179.26 1128.41L1179.34 1129.91L1179.4 1131.42L1179.44 1132.92L1179.48 1134.42L1179.51 1135.92L1179.54 1137.42L1179.57 1138.93L1179.6 1140.43L1179.62 1141.93L1179.65 1143.43L1179.67 1144.93L1179.69 1146.44L1179.71 1147.94L1179.73 1149.44L1179.75 1150.94L1179.77 1152.44L1179.79 1153.95L1179.81 1155.45L1179.82 1156.95L1179.84 1158.45L1179.85 1159.95L1179.87 1161.46L1179.88 1162.96L1179.89 1164.46L1179.9 1165.96L1179.91 1167.47L1179.92 1168.97L1179.93 1170.47L1179.94 1171.97L1179.95 1173.47L1179.96 1174.98L1179.96 1176.48L1179.97 1177.98L1179.98 1179.48L1179.98 1180.98L1179.98 1182.49L1179.99 1183.99L1179.99 1185.49L1179.99 1186.99L1180 1188.49L1180 1190L1180 1191.5L1180 1193L1180.8 1193L1180.8 1191.5L1180.8 1190L1180.8 1188.49L1180.81 1186.99L1180.81 1185.49L1180.81 1183.99L1180.82 1182.49L1180.82 1180.98L1180.82 1179.48L1180.83 1177.98L1180.84 1176.48L1180.84 1174.98L1180.85 1173.47L1180.86 1171.97L1180.87 1170.47L1180.88 1168.97L1180.89 1167.47L1180.9 1165.96L1180.91 1164.46L1180.92 1162.96L1180.93 1161.46L1180.95 1159.95L1180.96 1158.45L1180.98 1156.95L1180.99 1155.45L1181.01 1153.95L1181.03 1152.44L1181.05 1150.94L1181.07 1149.44L1181.09 1147.94L1181.11 1146.44L1181.13 1144.93L1181.15 1143.43L1181.18 1141.93L1181.2 1140.43L1181.23 1138.93L1181.26 1137.42L1181.29 1135.92L1181.32 1134.42L1181.36 1132.92L1181.4 1131.42L1181.46 1129.91L1181.54 1128.41L1181.64 1126.91L1181.77 1125.41L1181.91 1123.91L1182.08 1122.4L1182.27 1120.9L1182.49 1119.4L1182.72 1117.9L1182.99 1116.4L1183.29 1114.89L1183.62 1113.39L1183.99 1111.89L1184.39 1110.39L1184.84 1108.88L1185.34 1107.38L1185.89 1105.88L1186.5 1104.38L1187.17 1102.88L1187.9 1101.37L1188.71 1099.87L1189.6 1098.37L1190.56 1096.87L1191.62 1095.37L1192.75 1093.86L1193.96 1092.36L1195.26 1090.86L1196.62 1089.36L1198.07 1087.86L1199.6 1086.35L1201.21 1084.85L1202.92 1083.35L1204.72 1081.85L1206.62 1080.35L1208.61 1078.84L1210.71 1077.34L1212.89 1075.84L1215.16 1074.34L1217.48 1072.84L1219.86 1071.33L1222.28 1069.83L1224.73 1068.33L1227.21 1066.83L1229.71 1065.33L1232.22 1063.82L1234.73 1062.32L1237.23 1060.82L1239.72 1059.32L1242.17 1057.82L1244.55 1056.31L1246.84 1054.81L1249.02 1053.31L1251.06 1051.81L1252.95 1050.3L1254.69 1048.8L1256.27 1047.3L1257.68 1045.8L1258.91 1044.3L1259.96 1042.79L1260.83 1041.29L1261.53 1039.79L1262.08 1038.29L1262.49 1036.79L1262.77 1035.28L1262.92 1033.78L1262.95 1032.28L1262.88 1030.78L1262.69 1029.28L1262.41 1027.77L1262.02 1026.27L1261.53 1024.77L1260.94 1023.27L1260.25 1021.77L1259.47 1020.26L1258.6 1018.76L1257.62 1017.26L1256.55 1015.76L1255.37 1014.26L1254.1 1012.75L1252.73 1011.25L1251.27 1009.75L1249.73 1008.25L1248.1 1006.75L1246.39 1005.24L1244.62 1003.74L1242.79 1002.24L1240.91 1000.74L1238.99 999.23L1237.04 997.73L1235.06 996.23L1233.06 994.73L1231.07 993.23L1229.08 991.72L1227.1 990.22L1225.14 988.72L1223.22 987.22L1221.34 985.72L1219.51 984.21L1217.76 982.71L1216.07 981.21L1214.47 979.71L1212.94 978.21L1211.5 976.7L1210.15 975.2L1208.89 973.7L1207.71 972.2L1206.62 970.7L1205.62 969.19L1204.71 967.69L1203.89 966.19L1203.16 964.69L1202.52 963.19L1201.98 961.68L1201.51 960.18L1201.11 958.68L1200.76 957.18L1200.45 955.68L1200.17 954.17L1199.92 952.67L1199.69 951.17L1199.48 949.67L1199.29 948.17L1199.11 946.66L1198.96 945.16L1198.82 943.66L1198.72 942.16L1198.64 940.65L1198.59 939.15L1198.56 937.65L1198.56 936.15L1198.57 934.65L1198.6 933.14L1198.63 931.64L1198.67 930.14L1198.72 928.64L1198.79 927.14L1198.87 925.63L1198.97 924.13L1199.1 922.63L1199.26 921.13L1199.44 919.63L1199.65 918.12L1199.9 916.62L1200.17 915.12L1200.48 913.62L1200.82 912.12L1201.19 910.61L1201.58 909.11L1202 907.61L1202.45 906.11L1202.91 904.61L1203.38 903.1L1203.87 901.6L1204.37 900.1L1204.88 898.6L1205.39 897.1L1205.89 895.59L1206.4 894.09L1206.9 892.59L1207.41 891.09L1207.91 889.58L1208.42 888.08L1208.92 886.58L1209.43 885.08L1209.93 883.58L1210.43 882.07L1210.92 880.57L1211.4 879.07L1211.86 877.57L1212.3 876.07L1212.72 874.56L1213.11 873.06L1213.47 871.56L1213.79 870.06L1214.07 868.56L1214.31 867.05L1214.51 865.55L1214.67 864.05L1214.81 862.55L1214.9 861.05L1214.97 859.54L1215.01 858.04L1215.02 856.54L1215 855.04L1214.96 853.54L1214.9 852.03L1214.81 850.53L1214.69 849.03L1214.53 847.53L1214.33 846.03L1214.09 844.52L1213.8 843.02L1213.47 841.52L1213.1 840.02L1212.69 838.52L1212.23 837.01L1211.74 835.51L1211.19 834.01L1210.61 832.51L1209.98 831L1209.3 829.5L1208.58 828L1207.81 826.5L1207.01 825L1206.19 823.49L1205.35 821.99L1204.49 820.49L1203.64 818.99L1202.79 817.49L1201.94 815.98L1201.09 814.48L1200.25 812.98L1199.41 811.48L1198.59 809.98L1197.77 808.47L1196.96 806.97L1196.18 805.47L1195.42 803.97L1194.7 802.47L1194.02 800.96L1193.37 799.46L1192.76 797.96L1192.18 796.46L1191.63 794.96L1191.1 793.45L1190.59 791.95L1190.09 790.45L1189.61 788.95L1189.14 787.45L1188.69 785.94L1188.24 784.44L1187.81 782.94L1187.39 781.44L1186.99 779.93L1186.59 778.43L1186.21 776.93L1185.84 775.43L1185.48 773.93L1185.13 772.42L1184.79 770.92L1184.47 769.42L1184.17 767.92L1183.89 766.42L1183.63 764.91L1183.4 763.41L1183.17 761.91L1182.98 760.41L1182.8 758.91L1182.65 757.4L1182.51 755.9L1182.4 754.4Z" stroke="#7b7b7b" stroke-width="2.4" fill="#fff" stroke-linejoin="round"/>
<path d="M1357.9 758.4L1357.62 759.91L1357.33 761.41L1357.03 762.92L1356.71 764.42L1356.35 765.93L1355.97 767.43L1355.59 768.94L1355.17 770.44L1354.75 771.95L1354.3 773.45L1353.85 774.96L1353.38 776.46L1352.9 777.97L1352.41 779.47L1351.9 780.98L1351.38 782.48L1350.83 783.99L1350.27 785.49L1349.69 787L1349.09 788.5L1348.47 790.01L1347.83 791.51L1347.16 793.02L1346.48 794.52L1345.78 796.03L1345.06 797.53L1344.32 799.04L1343.55 800.54L1342.77 802.05L1341.97 803.56L1341.14 805.06L1340.29 806.57L1339.43 808.07L1338.56 809.58L1337.69 811.08L1336.81 812.59L1335.94 814.09L1335.08 815.6L1334.23 817.1L1333.39 818.61L1332.58 820.11L1331.8 821.62L1331.04 823.12L1330.32 824.63L1329.63 826.13L1328.98 827.64L1328.36 829.14L1327.78 830.65L1327.24 832.15L1326.74 833.66L1326.27 835.16L1325.85 836.67L1325.47 838.17L1325.13 839.68L1324.84 841.18L1324.58 842.69L1324.37 844.19L1324.19 845.7L1324.05 847.21L1323.93 848.71L1323.85 850.22L1323.8 851.72L1323.77 853.23L1323.77 854.73L1323.78 856.24L1323.82 857.74L1323.87 859.25L1323.93 860.75L1324.02 862.26L1324.14 863.76L1324.28 865.27L1324.44 866.77L1324.63 868.28L1324.84 869.78L1325.07 871.29L1325.33 872.79L1325.59 874.3L1325.88 875.8L1326.18 877.31L1326.49 878.81L1326.8 880.32L1327.12 881.82L1327.44 883.33L1327.77 884.83L1328.1 886.34L1328.44 887.84L1328.79 889.35L1329.14 890.86L1329.5 892.36L1329.87 893.87L1330.24 895.37L1330.61 896.88L1330.98 898.38L1331.34 899.89L1331.7 901.39L1332.05 902.9L1332.38 904.4L1332.71 905.91L1333.02 907.41L1333.33 908.92L1333.62 910.42L1333.9 911.93L1334.16 913.43L1334.41 914.94L1334.65 916.44L1334.88 917.95L1335.1 919.45L1335.3 920.96L1335.5 922.46L1335.68 923.97L1335.84 925.47L1336 926.98L1336.14 928.48L1336.26 929.99L1336.38 931.49L1336.48 933L1336.56 934.51L1336.63 936.01L1336.67 937.52L1336.68 939.02L1336.65 940.53L1336.59 942.03L1336.49 943.54L1336.34 945.04L1336.16 946.55L1335.94 948.05L1335.67 949.56L1335.34 951.06L1334.96 952.57L1334.52 954.07L1334.02 955.58L1333.47 957.08L1332.87 958.59L1332.22 960.09L1331.52 961.6L1330.78 963.1L1329.97 964.61L1329.12 966.11L1328.21 967.62L1327.26 969.12L1326.28 970.63L1325.28 972.13L1324.26 973.64L1323.23 975.14L1322.19 976.65L1321.14 978.16L1320.09 979.66L1319.04 981.17L1318.01 982.67L1316.99 984.18L1316.01 985.68L1315.05 987.19L1314.13 988.69L1313.23 990.2L1312.37 991.7L1311.56 993.21L1310.79 994.71L1310.09 996.22L1309.46 997.72L1308.91 999.23L1308.43 1000.73L1308.01 1002.24L1307.67 1003.74L1307.38 1005.25L1307.15 1006.75L1306.98 1008.26L1306.87 1009.76L1306.8 1011.27L1306.77 1012.77L1306.79 1014.28L1306.85 1015.78L1306.95 1017.29L1307.11 1018.79L1307.3 1020.3L1307.53 1021.81L1307.78 1023.31L1308.02 1024.82L1308.25 1026.32L1308.46 1027.83L1308.62 1029.33L1308.74 1030.84L1308.8 1032.34L1308.78 1033.85L1308.69 1035.35L1308.51 1036.86L1308.25 1038.36L1307.93 1039.87L1307.56 1041.37L1307.15 1042.88L1306.73 1044.38L1306.32 1045.89L1305.93 1047.39L1305.6 1048.9L1305.35 1050.4L1305.2 1051.91L1305.18 1053.41L1305.3 1054.92L1305.6 1056.42L1306.08 1057.93L1306.78 1059.43L1307.7 1060.94L1308.83 1062.44L1310.18 1063.95L1311.72 1065.46L1313.43 1066.96L1315.28 1068.47L1317.24 1069.97L1319.31 1071.48L1321.46 1072.98L1323.69 1074.49L1325.98 1075.99L1328.32 1077.5L1330.67 1079L1333.01 1080.51L1335.32 1082.01L1337.58 1083.52L1339.76 1085.02L1341.87 1086.53L1343.88 1088.03L1345.79 1089.54L1347.59 1091.04L1349.27 1092.55L1350.81 1094.05L1352.22 1095.56L1353.48 1097.06L1354.58 1098.57L1355.61 1100.07L1356.49 1101.58L1357.22 1103.08L1357.83 1104.59L1358.32 1106.09L1358.7 1107.6L1363.9 1107.6L1364.28 1106.09L1364.77 1104.59L1365.38 1103.08L1366.11 1101.58L1366.99 1100.07L1368.02 1098.57L1369.12 1097.06L1370.38 1095.56L1371.79 1094.05L1373.33 1092.55L1375.01 1091.04L1376.81 1089.54L1378.72 1088.03L1380.73 1086.53L1382.84 1085.02L1385.02 1083.52L1387.28 1082.01L1389.59 1080.51L1391.93 1079L1394.28 1077.5L1396.62 1075.99L1398.91 1074.49L1401.14 1072.98L1403.29 1071.48L1405.36 1069.97L1407.32 1068.47L1409.17 1066.96L1410.88 1065.46L1412.42 1063.95L1413.77 1062.44L1414.9 1060.94L1415.82 1059.43L1416.52 1057.93L1417 1056.42L1417.3 1054.92L1417.42 1053.41L1417.4 1051.91L1417.25 1050.4L1417 1048.9L1416.67 1047.39L1416.28 1045.89L1415.87 1044.38L1415.45 1042.88L1415.04 1041.37L1414.67 1039.87L1414.35 1038.36L1414.09 1036.86L1413.91 1035.35L1413.82 1033.85L1413.8 1032.34L1413.86 1030.84L1413.98 1029.33L1414.14 1027.83L1414.35 1026.32L1414.58 1024.82L1414.82 1023.31L1415.07 1021.81L1415.3 1020.3L1415.49 1018.79L1415.65 1017.29L1415.75 1015.78L1415.81 1014.28L1415.83 1012.77L1415.8 1011.27L1415.73 1009.76L1415.62 1008.26L1415.45 1006.75L1415.22 1005.25L1414.93 1003.74L1414.59 1002.24L1414.17 1000.73L1413.69 999.23L1413.14 997.72L1412.51 996.22L1411.81 994.71L1411.04 993.21L1410.23 991.7L1409.37 990.2L1408.47 988.69L1407.55 987.19L1406.59 985.68L1405.61 984.18L1404.59 982.67L1403.56 981.17L1402.51 979.66L1401.46 978.16L1400.41 976.65L1399.37 975.14L1398.34 973.64L1397.32 972.13L1396.32 970.63L1395.34 969.12L1394.39 967.62L1393.48 966.11L1392.63 964.61L1391.82 963.1L1391.08 961.6L1390.38 960.09L1389.73 958.59L1389.13 957.08L1388.58 955.58L1388.08 954.07L1387.64 952.57L1387.26 951.06L1386.93 949.56L1386.66 948.05L1386.44 946.55L1386.26 945.04L1386.11 943.54L1386.01 942.03L1385.95 940.53L1385.92 939.02L1385.93 937.52L1385.97 936.01L1386.04 934.51L1386.12 933L1386.22 931.49L1386.34 929.99L1386.46 928.48L1386.6 926.98L1386.76 925.47L1386.92 923.97L1387.1 922.46L1387.3 920.96L1387.5 919.45L1387.72 917.95L1387.95 916.44L1388.19 914.94L1388.44 913.43L1388.7 911.93L1388.98 910.42L1389.27 908.92L1389.58 907.41L1389.89 905.91L1390.22 904.4L1390.55 902.9L1390.9 901.39L1391.26 899.89L1391.62 898.38L1391.99 896.88L1392.36 895.37L1392.73 893.87L1393.1 892.36L1393.46 890.86L1393.81 889.35L1394.16 887.84L1394.5 886.34L1394.83 884.83L1395.16 883.33L1395.48 881.82L1395.8 880.32L1396.11 878.81L1396.42 877.31L1396.72 875.8L1397.01 874.3L1397.27 872.79L1397.53 871.29L1397.76 869.78L1397.97 868.28L1398.16 866.77L1398.32 865.27L1398.46 863.76L1398.58 862.26L1398.67 860.75L1398.73 859.25L1398.78 857.74L1398.82 856.24L1398.83 854.73L1398.83 853.23L1398.8 851.72L1398.75 850.22L1398.67 848.71L1398.55 847.21L1398.41 845.7L1398.23 844.19L1398.02 842.69L1397.76 841.18L1397.47 839.68L1397.13 838.17L1396.75 836.67L1396.33 835.16L1395.86 833.66L1395.36 832.15L1394.82 830.65L1394.24 829.14L1393.62 827.64L1392.97 826.13L1392.28 824.63L1391.56 823.12L1390.8 821.62L1390.02 820.11L1389.21 818.61L1388.37 817.1L1387.52 815.6L1386.66 814.09L1385.79 812.59L1384.91 811.08L1384.04 809.58L1383.17 808.07L1382.31 806.57L1381.46 805.06L1380.63 803.56L1379.83 802.05L1379.05 800.54L1378.28 799.04L1377.54 797.53L1376.82 796.03L1376.12 794.52L1375.44 793.02L1374.77 791.51L1374.13 790.01L1373.51 788.5L1372.91 787L1372.33 785.49L1371.77 783.99L1371.22 782.48L1370.7 780.98L1370.19 779.47L1369.7 777.97L1369.22 776.46L1368.75 774.96L1368.3 773.45L1367.85 771.95L1367.43 770.44L1367.01 768.94L1366.63 767.43L1366.25 765.93L1365.89 764.42L1365.57 762.92L1365.27 761.41L1364.98 759.91L1364.7 758.4Z" stroke="#fd9a39" stroke-width="2.4" fill="#fff" stroke-linejoin="round"/>
<path d="M1180.4 754.4V888.8M1180.4 1038V1193" stroke="#7b7b7b" stroke-width="2.3" fill="none"/><rect x="1162.1" y="888.8" width="36.6" height="149.2" stroke="#7b7b7b" stroke-width="2.3" fill="#fff"/><path d="M1162.1 1004.6H1198.7" stroke="#7b7b7b" stroke-width="4.6"/>
<path d="M1361.3 758.4V876.8M1361.3 1030V1107.6" stroke="#fd9a39" stroke-width="2.3" fill="none"/><rect x="1342.9" y="876.8" width="36.8" height="153.2" stroke="#fd9a39" stroke-width="2.3" fill="#fff"/><path d="M1342.9 976.1H1379.7" stroke="#fd9a39" stroke-width="4.6"/>
<path d="M1072 733.75V1214.5H1469.5" stroke="#000" stroke-width="2.45" fill="none"/>
<path d="M1064.7 1055.5H1072" stroke="#000" stroke-width="2.45" fill="none"/><text x="1059.8" y="1064.7" font-size="26.2" text-anchor="end">0.0</text>
<path d="M1064.7 871.75H1072" stroke="#000" stroke-width="2.45" fill="none"/><text x="1059.8" y="880.95" font-size="26.2" text-anchor="end">0.5</text>
<path d="M1180.4 1214.5V1221.4" stroke="#000" stroke-width="2.45" fill="none"/><text x="1180.4" y="1243.75" font-size="26.2" text-anchor="middle">random</text>
<path d="M1361.3 1214.5V1221.4" stroke="#000" stroke-width="2.45" fill="none"/><text x="1361.3" y="1243.75" font-size="26.2" text-anchor="middle">integrated</text>
<text transform="translate(1013.7,973.5) rotate(-90)" text-anchor="middle" font-size="23.9">Pearson correlation coefficient</text>
<text x="1136.5" y="755.5" font-size="24" >Wilcoxon, p = 2e−13</text>
<text x="1474.5" y="735.6" font-size="46" font-weight="bold">e</text>
<path d="M1687.8 751.5L1687.77 753L1687.73 754.51L1687.68 756.01L1687.63 757.51L1687.58 759.02L1687.52 760.52L1687.46 762.02L1687.4 763.53L1687.33 765.03L1687.26 766.53L1687.19 768.04L1687.11 769.54L1687.02 771.04L1686.93 772.55L1686.84 774.05L1686.74 775.56L1686.63 777.06L1686.51 778.56L1686.39 780.07L1686.27 781.57L1686.13 783.07L1686 784.58L1685.86 786.08L1685.72 787.58L1685.57 789.09L1685.42 790.59L1685.26 792.09L1685.1 793.6L1684.92 795.1L1684.75 796.6L1684.56 798.11L1684.38 799.61L1684.19 801.11L1684 802.62L1683.81 804.12L1683.63 805.62L1683.45 807.13L1683.27 808.63L1683.1 810.13L1682.93 811.64L1682.77 813.14L1682.61 814.65L1682.45 816.15L1682.29 817.65L1682.14 819.16L1681.99 820.66L1681.84 822.16L1681.7 823.67L1681.55 825.17L1681.41 826.67L1681.27 828.18L1681.13 829.68L1681 831.18L1680.87 832.69L1680.73 834.19L1680.6 835.69L1680.47 837.2L1680.35 838.7L1680.22 840.2L1680.1 841.71L1679.99 843.21L1679.88 844.71L1679.77 846.22L1679.66 847.72L1679.57 849.22L1679.47 850.73L1679.38 852.23L1679.3 853.74L1679.22 855.24L1679.14 856.74L1679.06 858.25L1678.99 859.75L1678.92 861.25L1678.85 862.76L1678.78 864.26L1678.7 865.76L1678.63 867.27L1678.56 868.77L1678.48 870.27L1678.41 871.78L1678.33 873.28L1678.25 874.78L1678.17 876.29L1678.09 877.79L1678.01 879.29L1677.92 880.8L1677.83 882.3L1677.74 883.8L1677.64 885.31L1677.54 886.81L1677.44 888.31L1677.33 889.82L1677.21 891.32L1677.09 892.83L1676.96 894.33L1676.83 895.83L1676.68 897.34L1676.52 898.84L1676.35 900.34L1676.17 901.85L1675.97 903.35L1675.76 904.85L1675.52 906.36L1675.25 907.86L1674.95 909.36L1674.61 910.87L1674.24 912.37L1673.83 913.87L1673.39 915.38L1672.92 916.88L1672.42 918.38L1671.91 919.89L1671.38 921.39L1670.83 922.89L1670.26 924.4L1669.67 925.9L1669.05 927.4L1668.4 928.91L1667.72 930.41L1667 931.92L1666.25 933.42L1665.46 934.92L1664.63 936.43L1663.77 937.93L1662.87 939.43L1661.93 940.94L1660.96 942.44L1659.96 943.94L1658.93 945.45L1657.87 946.95L1656.79 948.45L1655.69 949.96L1654.59 951.46L1653.47 952.96L1652.34 954.47L1651.21 955.97L1650.08 957.47L1648.94 958.98L1647.81 960.48L1646.67 961.98L1645.54 963.49L1644.41 964.99L1643.27 966.49L1642.13 968L1640.98 969.5L1639.83 971.01L1638.65 972.51L1637.47 974.01L1636.29 975.52L1635.1 977.02L1633.91 978.52L1632.73 980.03L1631.56 981.53L1630.4 983.03L1629.26 984.54L1628.12 986.04L1627.01 987.54L1625.9 989.05L1624.82 990.55L1623.75 992.05L1622.7 993.56L1621.67 995.06L1620.68 996.56L1619.72 998.07L1618.82 999.57L1617.98 1001.07L1617.19 1002.58L1616.46 1004.08L1615.79 1005.58L1615.17 1007.09L1614.6 1008.59L1614.09 1010.1L1613.62 1011.6L1613.21 1013.1L1612.83 1014.61L1612.49 1016.11L1612.17 1017.61L1611.86 1019.12L1611.57 1020.62L1611.29 1022.12L1611.02 1023.63L1610.78 1025.13L1610.57 1026.63L1610.41 1028.14L1610.3 1029.64L1610.25 1031.14L1610.23 1032.65L1610.25 1034.15L1610.31 1035.65L1610.39 1037.16L1610.5 1038.66L1610.64 1040.16L1610.82 1041.67L1611.04 1043.17L1611.31 1044.67L1611.63 1046.18L1612 1047.68L1612.4 1049.19L1612.85 1050.69L1613.33 1052.19L1613.84 1053.7L1614.36 1055.2L1614.91 1056.7L1615.48 1058.21L1616.08 1059.71L1616.7 1061.21L1617.37 1062.72L1618.07 1064.22L1618.81 1065.72L1619.59 1067.23L1620.4 1068.73L1621.25 1070.23L1622.12 1071.74L1623.01 1073.24L1623.91 1074.74L1624.82 1076.25L1625.74 1077.75L1626.66 1079.25L1627.58 1080.76L1628.52 1082.26L1629.46 1083.76L1630.41 1085.27L1631.38 1086.77L1632.35 1088.28L1633.34 1089.78L1634.33 1091.28L1635.32 1092.79L1636.32 1094.29L1637.32 1095.79L1638.31 1097.3L1639.3 1098.8L1640.29 1100.3L1641.28 1101.81L1642.27 1103.31L1643.25 1104.81L1644.24 1106.32L1645.23 1107.82L1646.21 1109.32L1647.2 1110.83L1648.18 1112.33L1649.15 1113.83L1650.12 1115.34L1651.08 1116.84L1652.04 1118.34L1652.99 1119.85L1653.94 1121.35L1654.89 1122.85L1655.84 1124.36L1656.78 1125.86L1657.71 1127.37L1658.64 1128.87L1659.56 1130.37L1660.47 1131.88L1661.36 1133.38L1662.23 1134.88L1663.08 1136.39L1663.9 1137.89L1664.7 1139.39L1665.48 1140.9L1666.24 1142.4L1666.97 1143.9L1667.69 1145.41L1668.38 1146.91L1669.07 1148.41L1669.74 1149.92L1670.4 1151.42L1671.06 1152.92L1671.71 1154.43L1672.36 1155.93L1673.01 1157.43L1673.65 1158.94L1674.3 1160.44L1674.95 1161.94L1675.6 1163.45L1676.24 1164.95L1676.87 1166.46L1677.48 1167.96L1678.07 1169.46L1678.63 1170.97L1679.17 1172.47L1679.68 1173.97L1680.15 1175.48L1680.6 1176.98L1681.03 1178.48L1681.42 1179.99L1681.78 1181.49L1682.11 1182.99L1682.41 1184.5L1682.7 1186L1695.5 1186L1695.79 1184.5L1696.09 1182.99L1696.42 1181.49L1696.78 1179.99L1697.17 1178.48L1697.6 1176.98L1698.05 1175.48L1698.52 1173.97L1699.03 1172.47L1699.57 1170.97L1700.13 1169.46L1700.72 1167.96L1701.33 1166.46L1701.96 1164.95L1702.6 1163.45L1703.25 1161.94L1703.9 1160.44L1704.55 1158.94L1705.19 1157.43L1705.84 1155.93L1706.49 1154.43L1707.14 1152.92L1707.8 1151.42L1708.46 1149.92L1709.13 1148.41L1709.82 1146.91L1710.51 1145.41L1711.23 1143.9L1711.96 1142.4L1712.72 1140.9L1713.5 1139.39L1714.3 1137.89L1715.12 1136.39L1715.97 1134.88L1716.84 1133.38L1717.73 1131.88L1718.64 1130.37L1719.56 1128.87L1720.49 1127.37L1721.42 1125.86L1722.36 1124.36L1723.31 1122.85L1724.26 1121.35L1725.21 1119.85L1726.16 1118.34L1727.12 1116.84L1728.08 1115.34L1729.05 1113.83L1730.02 1112.33L1731 1110.83L1731.99 1109.32L1732.97 1107.82L1733.96 1106.32L1734.95 1104.81L1735.93 1103.31L1736.92 1101.81L1737.91 1100.3L1738.9 1098.8L1739.89 1097.3L1740.88 1095.79L1741.88 1094.29L1742.88 1092.79L1743.87 1091.28L1744.86 1089.78L1745.85 1088.28L1746.82 1086.77L1747.79 1085.27L1748.74 1083.76L1749.68 1082.26L1750.62 1080.76L1751.54 1079.25L1752.46 1077.75L1753.38 1076.25L1754.29 1074.74L1755.19 1073.24L1756.08 1071.74L1756.95 1070.23L1757.8 1068.73L1758.61 1067.23L1759.39 1065.72L1760.13 1064.22L1760.83 1062.72L1761.5 1061.21L1762.12 1059.71L1762.72 1058.21L1763.29 1056.7L1763.84 1055.2L1764.36 1053.7L1764.87 1052.19L1765.35 1050.69L1765.8 1049.19L1766.2 1047.68L1766.57 1046.18L1766.89 1044.67L1767.16 1043.17L1767.38 1041.67L1767.56 1040.16L1767.7 1038.66L1767.81 1037.16L1767.89 1035.65L1767.95 1034.15L1767.97 1032.65L1767.95 1031.14L1767.9 1029.64L1767.79 1028.14L1767.63 1026.63L1767.42 1025.13L1767.18 1023.63L1766.91 1022.12L1766.63 1020.62L1766.34 1019.12L1766.03 1017.61L1765.71 1016.11L1765.37 1014.61L1764.99 1013.1L1764.58 1011.6L1764.11 1010.1L1763.6 1008.59L1763.03 1007.09L1762.41 1005.58L1761.74 1004.08L1761.01 1002.58L1760.22 1001.07L1759.38 999.57L1758.48 998.07L1757.52 996.56L1756.53 995.06L1755.5 993.56L1754.45 992.05L1753.38 990.55L1752.3 989.05L1751.19 987.54L1750.08 986.04L1748.94 984.54L1747.8 983.03L1746.64 981.53L1745.47 980.03L1744.29 978.52L1743.1 977.02L1741.91 975.52L1740.73 974.01L1739.55 972.51L1738.37 971.01L1737.22 969.5L1736.07 968L1734.93 966.49L1733.79 964.99L1732.66 963.49L1731.53 961.98L1730.39 960.48L1729.26 958.98L1728.12 957.47L1726.99 955.97L1725.86 954.47L1724.73 952.96L1723.61 951.46L1722.51 949.96L1721.41 948.45L1720.33 946.95L1719.27 945.45L1718.24 943.94L1717.24 942.44L1716.27 940.94L1715.33 939.43L1714.43 937.93L1713.57 936.43L1712.74 934.92L1711.95 933.42L1711.2 931.92L1710.48 930.41L1709.8 928.91L1709.15 927.4L1708.53 925.9L1707.94 924.4L1707.37 922.89L1706.82 921.39L1706.29 919.89L1705.78 918.38L1705.28 916.88L1704.81 915.38L1704.37 913.87L1703.96 912.37L1703.59 910.87L1703.25 909.36L1702.95 907.86L1702.68 906.36L1702.44 904.85L1702.23 903.35L1702.03 901.85L1701.85 900.34L1701.68 898.84L1701.52 897.34L1701.37 895.83L1701.24 894.33L1701.11 892.83L1700.99 891.32L1700.87 889.82L1700.76 888.31L1700.66 886.81L1700.56 885.31L1700.46 883.8L1700.37 882.3L1700.28 880.8L1700.19 879.29L1700.11 877.79L1700.03 876.29L1699.95 874.78L1699.87 873.28L1699.79 871.78L1699.72 870.27L1699.64 868.77L1699.57 867.27L1699.5 865.76L1699.42 864.26L1699.35 862.76L1699.28 861.25L1699.21 859.75L1699.14 858.25L1699.06 856.74L1698.98 855.24L1698.9 853.74L1698.82 852.23L1698.73 850.73L1698.63 849.22L1698.54 847.72L1698.43 846.22L1698.32 844.71L1698.21 843.21L1698.1 841.71L1697.98 840.2L1697.85 838.7L1697.73 837.2L1697.6 835.69L1697.47 834.19L1697.33 832.69L1697.2 831.18L1697.07 829.68L1696.93 828.18L1696.79 826.67L1696.65 825.17L1696.5 823.67L1696.36 822.16L1696.21 820.66L1696.06 819.16L1695.91 817.65L1695.75 816.15L1695.59 814.65L1695.43 813.14L1695.27 811.64L1695.1 810.13L1694.93 808.63L1694.75 807.13L1694.57 805.62L1694.39 804.12L1694.2 802.62L1694.01 801.11L1693.82 799.61L1693.64 798.11L1693.45 796.6L1693.28 795.1L1693.1 793.6L1692.94 792.09L1692.78 790.59L1692.63 789.09L1692.48 787.58L1692.34 786.08L1692.2 784.58L1692.07 783.07L1691.93 781.57L1691.81 780.07L1691.69 778.56L1691.57 777.06L1691.46 775.56L1691.36 774.05L1691.27 772.55L1691.18 771.04L1691.09 769.54L1691.01 768.04L1690.94 766.53L1690.87 765.03L1690.8 763.53L1690.74 762.02L1690.68 760.52L1690.62 759.02L1690.57 757.51L1690.52 756.01L1690.47 754.51L1690.43 753L1690.4 751.5Z" stroke="#52a04e" stroke-width="2.4" fill="#fff" stroke-linejoin="round"/>
<path d="M1862.9 781L1862.9 782.5L1862.89 784L1862.88 785.5L1862.87 787.01L1862.86 788.51L1862.84 790.01L1862.82 791.51L1862.8 793.01L1862.78 794.51L1862.75 796.01L1862.72 797.52L1862.69 799.02L1862.66 800.52L1862.63 802.02L1862.59 803.52L1862.55 805.02L1862.51 806.52L1862.47 808.03L1862.43 809.53L1862.39 811.03L1862.34 812.53L1862.29 814.03L1862.24 815.53L1862.19 817.04L1862.14 818.54L1862.08 820.04L1862.01 821.54L1861.94 823.04L1861.85 824.54L1861.76 826.04L1861.66 827.55L1861.55 829.05L1861.44 830.55L1861.31 832.05L1861.19 833.55L1861.05 835.05L1860.92 836.55L1860.77 838.06L1860.63 839.56L1860.47 841.06L1860.32 842.56L1860.15 844.06L1859.98 845.56L1859.79 847.06L1859.61 848.57L1859.41 850.07L1859.21 851.57L1859 853.07L1858.79 854.57L1858.57 856.07L1858.35 857.57L1858.13 859.08L1857.9 860.58L1857.67 862.08L1857.44 863.58L1857.2 865.08L1856.95 866.58L1856.7 868.08L1856.44 869.59L1856.18 871.09L1855.9 872.59L1855.61 874.09L1855.31 875.59L1854.99 877.09L1854.67 878.59L1854.32 880.1L1853.96 881.6L1853.57 883.1L1853.17 884.6L1852.75 886.1L1852.31 887.6L1851.84 889.11L1851.36 890.61L1850.86 892.11L1850.34 893.61L1849.81 895.11L1849.25 896.61L1848.67 898.11L1848.07 899.62L1847.45 901.12L1846.79 902.62L1846.1 904.12L1845.37 905.62L1844.61 907.12L1843.8 908.62L1842.96 910.13L1842.06 911.63L1841.12 913.13L1840.12 914.63L1839.07 916.13L1837.98 917.63L1836.84 919.13L1835.66 920.64L1834.44 922.14L1833.19 923.64L1831.9 925.14L1830.59 926.64L1829.24 928.14L1827.87 929.64L1826.49 931.15L1825.11 932.65L1823.74 934.15L1822.39 935.65L1821.05 937.15L1819.74 938.65L1818.44 940.15L1817.17 941.66L1815.93 943.16L1814.71 944.66L1813.53 946.16L1812.38 947.66L1811.26 949.16L1810.18 950.66L1809.13 952.17L1808.1 953.67L1807.09 955.17L1806.09 956.67L1805.09 958.17L1804.1 959.67L1803.1 961.18L1802.1 962.68L1801.1 964.18L1800.11 965.68L1799.12 967.18L1798.15 968.68L1797.18 970.18L1796.24 971.69L1795.31 973.19L1794.42 974.69L1793.56 976.19L1792.75 977.69L1792.01 979.19L1791.32 980.69L1790.7 982.2L1790.12 983.7L1789.59 985.2L1789.1 986.7L1788.64 988.2L1788.21 989.7L1787.8 991.2L1787.41 992.71L1787.04 994.21L1786.68 995.71L1786.34 997.21L1786 998.71L1785.68 1000.21L1785.37 1001.71L1785.09 1003.22L1784.85 1004.72L1784.65 1006.22L1784.51 1007.72L1784.42 1009.22L1784.38 1010.72L1784.4 1012.22L1784.46 1013.73L1784.56 1015.23L1784.7 1016.73L1784.86 1018.23L1785.06 1019.73L1785.29 1021.23L1785.55 1022.74L1785.85 1024.24L1786.19 1025.74L1786.57 1027.24L1786.99 1028.74L1787.45 1030.24L1787.94 1031.74L1788.45 1033.25L1789 1034.75L1789.57 1036.25L1790.17 1037.75L1790.8 1039.25L1791.47 1040.75L1792.19 1042.25L1792.95 1043.76L1793.77 1045.26L1794.64 1046.76L1795.56 1048.26L1796.53 1049.76L1797.54 1051.26L1798.6 1052.76L1799.68 1054.27L1800.8 1055.77L1801.96 1057.27L1803.15 1058.77L1804.38 1060.27L1805.65 1061.77L1806.99 1063.27L1808.37 1064.78L1809.8 1066.28L1811.29 1067.78L1812.81 1069.28L1814.35 1070.78L1815.92 1072.28L1817.5 1073.78L1819.08 1075.29L1820.65 1076.79L1822.22 1078.29L1823.79 1079.79L1825.35 1081.29L1826.92 1082.79L1828.49 1084.29L1830.05 1085.8L1831.6 1087.3L1833.13 1088.8L1834.63 1090.3L1836.07 1091.8L1837.46 1093.3L1838.78 1094.81L1840.04 1096.31L1841.23 1097.81L1842.36 1099.31L1843.44 1100.81L1844.46 1102.31L1845.43 1103.81L1846.34 1105.32L1847.21 1106.82L1848.02 1108.32L1848.78 1109.82L1849.51 1111.32L1850.19 1112.82L1850.83 1114.32L1851.43 1115.83L1851.99 1117.33L1852.51 1118.83L1853 1120.33L1853.46 1121.83L1853.89 1123.33L1854.3 1124.83L1854.69 1126.34L1855.06 1127.84L1855.41 1129.34L1855.75 1130.84L1856.08 1132.34L1856.39 1133.84L1856.69 1135.34L1856.99 1136.85L1857.27 1138.35L1857.55 1139.85L1857.82 1141.35L1858.09 1142.85L1858.34 1144.35L1858.59 1145.85L1858.84 1147.36L1859.07 1148.86L1859.3 1150.36L1859.52 1151.86L1859.74 1153.36L1859.94 1154.86L1860.14 1156.36L1860.33 1157.87L1860.51 1159.37L1860.68 1160.87L1860.85 1162.37L1861.01 1163.87L1861.17 1165.37L1861.32 1166.88L1861.47 1168.38L1861.61 1169.88L1861.75 1171.38L1861.88 1172.88L1862 1174.38L1862.11 1175.88L1862.21 1177.39L1862.31 1178.89L1862.4 1180.39L1862.48 1181.89L1862.56 1183.39L1862.63 1184.89L1862.7 1186.39L1862.76 1187.9L1862.81 1189.4L1862.86 1190.9L1862.9 1192.4L1863.9 1192.4L1863.94 1190.9L1863.99 1189.4L1864.04 1187.9L1864.1 1186.39L1864.17 1184.89L1864.24 1183.39L1864.32 1181.89L1864.4 1180.39L1864.49 1178.89L1864.59 1177.39L1864.69 1175.88L1864.8 1174.38L1864.92 1172.88L1865.05 1171.38L1865.19 1169.88L1865.33 1168.38L1865.48 1166.88L1865.63 1165.37L1865.79 1163.87L1865.95 1162.37L1866.12 1160.87L1866.29 1159.37L1866.47 1157.87L1866.66 1156.36L1866.86 1154.86L1867.06 1153.36L1867.28 1151.86L1867.5 1150.36L1867.73 1148.86L1867.96 1147.36L1868.21 1145.85L1868.46 1144.35L1868.71 1142.85L1868.98 1141.35L1869.25 1139.85L1869.53 1138.35L1869.81 1136.85L1870.11 1135.34L1870.41 1133.84L1870.72 1132.34L1871.05 1130.84L1871.39 1129.34L1871.74 1127.84L1872.11 1126.34L1872.5 1124.83L1872.91 1123.33L1873.34 1121.83L1873.8 1120.33L1874.29 1118.83L1874.81 1117.33L1875.37 1115.83L1875.97 1114.32L1876.61 1112.82L1877.29 1111.32L1878.02 1109.82L1878.78 1108.32L1879.59 1106.82L1880.46 1105.32L1881.37 1103.81L1882.34 1102.31L1883.36 1100.81L1884.44 1099.31L1885.57 1097.81L1886.76 1096.31L1888.02 1094.81L1889.34 1093.3L1890.73 1091.8L1892.17 1090.3L1893.67 1088.8L1895.2 1087.3L1896.75 1085.8L1898.31 1084.29L1899.88 1082.79L1901.45 1081.29L1903.01 1079.79L1904.58 1078.29L1906.15 1076.79L1907.72 1075.29L1909.3 1073.78L1910.88 1072.28L1912.45 1070.78L1913.99 1069.28L1915.51 1067.78L1917 1066.28L1918.43 1064.78L1919.81 1063.27L1921.15 1061.77L1922.42 1060.27L1923.65 1058.77L1924.84 1057.27L1926 1055.77L1927.12 1054.27L1928.2 1052.76L1929.26 1051.26L1930.27 1049.76L1931.24 1048.26L1932.16 1046.76L1933.03 1045.26L1933.85 1043.76L1934.61 1042.25L1935.33 1040.75L1936 1039.25L1936.63 1037.75L1937.23 1036.25L1937.8 1034.75L1938.35 1033.25L1938.86 1031.74L1939.35 1030.24L1939.81 1028.74L1940.23 1027.24L1940.61 1025.74L1940.95 1024.24L1941.25 1022.74L1941.51 1021.23L1941.74 1019.73L1941.94 1018.23L1942.1 1016.73L1942.24 1015.23L1942.34 1013.73L1942.4 1012.22L1942.42 1010.72L1942.38 1009.22L1942.29 1007.72L1942.15 1006.22L1941.95 1004.72L1941.71 1003.22L1941.43 1001.71L1941.12 1000.21L1940.8 998.71L1940.46 997.21L1940.12 995.71L1939.76 994.21L1939.39 992.71L1939 991.2L1938.59 989.7L1938.16 988.2L1937.7 986.7L1937.21 985.2L1936.68 983.7L1936.1 982.2L1935.48 980.69L1934.79 979.19L1934.05 977.69L1933.24 976.19L1932.38 974.69L1931.49 973.19L1930.56 971.69L1929.62 970.18L1928.65 968.68L1927.68 967.18L1926.69 965.68L1925.7 964.18L1924.7 962.68L1923.7 961.18L1922.7 959.67L1921.71 958.17L1920.71 956.67L1919.71 955.17L1918.7 953.67L1917.67 952.17L1916.62 950.66L1915.54 949.16L1914.42 947.66L1913.27 946.16L1912.09 944.66L1910.87 943.16L1909.63 941.66L1908.36 940.15L1907.06 938.65L1905.75 937.15L1904.41 935.65L1903.06 934.15L1901.69 932.65L1900.31 931.15L1898.93 929.64L1897.56 928.14L1896.21 926.64L1894.9 925.14L1893.61 923.64L1892.36 922.14L1891.14 920.64L1889.96 919.13L1888.82 917.63L1887.73 916.13L1886.68 914.63L1885.68 913.13L1884.74 911.63L1883.84 910.13L1883 908.62L1882.19 907.12L1881.43 905.62L1880.7 904.12L1880.01 902.62L1879.35 901.12L1878.73 899.62L1878.13 898.11L1877.55 896.61L1876.99 895.11L1876.46 893.61L1875.94 892.11L1875.44 890.61L1874.96 889.11L1874.49 887.6L1874.05 886.1L1873.63 884.6L1873.23 883.1L1872.84 881.6L1872.48 880.1L1872.13 878.59L1871.81 877.09L1871.49 875.59L1871.19 874.09L1870.9 872.59L1870.62 871.09L1870.36 869.59L1870.1 868.08L1869.85 866.58L1869.6 865.08L1869.36 863.58L1869.13 862.08L1868.9 860.58L1868.67 859.08L1868.45 857.57L1868.23 856.07L1868.01 854.57L1867.8 853.07L1867.59 851.57L1867.39 850.07L1867.19 848.57L1867.01 847.06L1866.82 845.56L1866.65 844.06L1866.48 842.56L1866.33 841.06L1866.17 839.56L1866.03 838.06L1865.88 836.55L1865.75 835.05L1865.61 833.55L1865.49 832.05L1865.36 830.55L1865.25 829.05L1865.14 827.55L1865.04 826.04L1864.95 824.54L1864.86 823.04L1864.79 821.54L1864.72 820.04L1864.66 818.54L1864.61 817.04L1864.56 815.53L1864.51 814.03L1864.46 812.53L1864.41 811.03L1864.37 809.53L1864.33 808.03L1864.29 806.52L1864.25 805.02L1864.21 803.52L1864.17 802.02L1864.14 800.52L1864.11 799.02L1864.08 797.52L1864.05 796.01L1864.02 794.51L1864 793.01L1863.98 791.51L1863.96 790.01L1863.94 788.51L1863.93 787.01L1863.92 785.5L1863.91 784L1863.9 782.5L1863.9 781Z" stroke="#8571aa" stroke-width="2.4" fill="#fff" stroke-linejoin="round"/>
<path d="M1689.1 867V987.8M1689.1 1074.4V1186" stroke="#52a04e" stroke-width="2.3" fill="none"/><rect x="1662.9" y="987.8" width="52.4" height="86.6" stroke="#52a04e" stroke-width="2.3" fill="#fff"/><path d="M1662.9 1032.6H1715.3" stroke="#52a04e" stroke-width="4.6"/>
<path d="M1863.4 852V967.6M1863.4 1047.4V1152" stroke="#8571aa" stroke-width="2.3" fill="none"/><rect x="1836.9" y="967.6" width="53" height="79.8" stroke="#8571aa" stroke-width="2.3" fill="#fff"/><path d="M1836.9 1010H1889.9" stroke="#8571aa" stroke-width="4.6"/>
<circle cx="1689.1" cy="755" r="5" fill="#52a04e"/><circle cx="1689.1" cy="767.6" r="5" fill="#52a04e"/><circle cx="1689.1" cy="809" r="5" fill="#52a04e"/><circle cx="1689.1" cy="821" r="5" fill="#52a04e"/><circle cx="1689.1" cy="826" r="5" fill="#52a04e"/><circle cx="1689.1" cy="832" r="5" fill="#52a04e"/><circle cx="1689.1" cy="838" r="5" fill="#52a04e"/><circle cx="1689.1" cy="844" r="5" fill="#52a04e"/><circle cx="1689.1" cy="850" r="5" fill="#52a04e"/><circle cx="1689.1" cy="855" r="5" fill="#52a04e"/>
<circle cx="1863.4" cy="781" r="5" fill="#8571aa"/><circle cx="1863.4" cy="842" r="5" fill="#8571aa"/><circle cx="1863.4" cy="1192.4" r="5" fill="#8571aa"/>
<path d="M1585 733.75V1214.5H1968" stroke="#000" stroke-width="2.45" fill="none"/>
<path d="M1577.7 1120.5H1585" stroke="#000" stroke-width="2.45" fill="none"/><text x="1572.8" y="1129.7" font-size="26.2" text-anchor="end">0.02</text>
<path d="M1577.7 1008.4H1585" stroke="#000" stroke-width="2.45" fill="none"/><text x="1572.8" y="1017.6" font-size="26.2" text-anchor="end">0.04</text>
<path d="M1577.7 896.4H1585" stroke="#000" stroke-width="2.45" fill="none"/><text x="1572.8" y="905.6" font-size="26.2" text-anchor="end">0.06</text>
<path d="M1577.7 784H1585" stroke="#000" stroke-width="2.45" fill="none"/><text x="1572.8" y="793.2" font-size="26.2" text-anchor="end">0.08</text>
<path d="M1689.1 1214.5V1221.4" stroke="#000" stroke-width="2.45" fill="none"/><text x="1689.1" y="1243.75" font-size="26.2" text-anchor="middle">within region</text>
<path d="M1863.4 1214.5V1221.4" stroke="#000" stroke-width="2.45" fill="none"/><text x="1863.4" y="1243.75" font-size="26.2" text-anchor="middle">across region</text>
<text transform="translate(1511.5,973.7) rotate(-90)" text-anchor="middle" font-size="23.8">p(k) variance</text>
<text x="1641" y="755.5" font-size="24" >Wilcoxon, p = 9.9e−06</text>
</svg>
</body></html>
